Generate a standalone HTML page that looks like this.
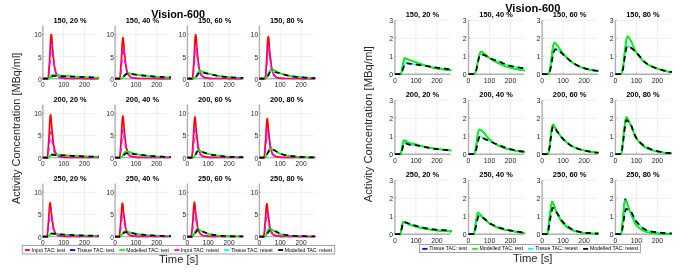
<!DOCTYPE html>
<html><head><meta charset="utf-8"><style>
html,body{margin:0;padding:0;background:#fff;width:685px;height:272px;overflow:hidden}
svg{display:block;will-change:transform}
text{font-family:"Liberation Sans", sans-serif}
</style></head><body>
<svg width="685" height="272" viewBox="0 0 685 272" font-family='"Liberation Sans", sans-serif'>
<rect width="685" height="272" fill="#fff"/>
<line x1="42.80" y1="56.53" x2="97.32" y2="56.53" stroke="#eeeeee" stroke-width="1"/>
<line x1="42.80" y1="34.35" x2="97.32" y2="34.35" stroke="#eeeeee" stroke-width="1"/>
<line x1="63.65" y1="25.48" x2="63.65" y2="78.70" stroke="#eeeeee" stroke-width="1"/>
<line x1="84.50" y1="25.48" x2="84.50" y2="78.70" stroke="#eeeeee" stroke-width="1"/>
<line x1="42.80" y1="25.48" x2="42.80" y2="78.70" stroke="#b0b0b0" stroke-width="1.4"/>
<line x1="42.80" y1="78.70" x2="98.12" y2="78.70" stroke="#b0b0b0" stroke-width="1.4"/>
<line x1="42.80" y1="56.53" x2="44.40" y2="56.53" stroke="#b0b0b0" stroke-width="0.8"/>
<line x1="42.80" y1="34.35" x2="44.40" y2="34.35" stroke="#b0b0b0" stroke-width="0.8"/>
<line x1="63.65" y1="78.70" x2="63.65" y2="77.10" stroke="#b0b0b0" stroke-width="0.8"/>
<line x1="84.50" y1="78.70" x2="84.50" y2="77.10" stroke="#b0b0b0" stroke-width="0.8"/>
<text x="41.60" y="81.68" font-size="6.6" text-anchor="end" fill="#262626">0</text>
<text x="41.60" y="59.50" font-size="6.6" text-anchor="end" fill="#262626">5</text>
<text x="41.60" y="37.33" font-size="6.6" text-anchor="end" fill="#262626">10</text>
<text x="42.80" y="86.75" font-size="6.6" text-anchor="middle" fill="#262626">0</text>
<text x="63.65" y="86.75" font-size="6.6" text-anchor="middle" fill="#262626">100</text>
<text x="84.50" y="86.75" font-size="6.6" text-anchor="middle" fill="#262626">200</text>
<text x="70.06" y="23.10" font-size="7.4" font-weight="bold" text-anchor="middle" fill="#000">150, 20 %</text>
<polyline points="42.8,78.7 43.0,78.7 43.2,78.7 43.4,78.7 43.6,78.7 43.8,78.7 44.1,78.7 44.3,78.7 44.5,78.7 44.7,78.7 44.9,78.7 45.1,78.7 45.3,78.7 45.5,78.7 45.7,78.7 45.9,78.7 46.1,78.7 46.3,78.7 46.6,78.7 46.8,78.7 47.0,78.7 47.2,78.7 47.4,78.7 47.6,78.7 47.8,78.7 48.0,78.7 48.2,78.1 48.4,76.6 48.6,74.2 48.8,71.3 49.1,68.1 49.3,64.8 49.5,61.6 49.7,58.4 49.9,54.3 50.1,49.9 50.3,45.6 50.5,41.7 50.7,38.7 50.9,36.8 51.1,35.2 51.3,34.6 51.6,35.6 51.8,37.8 52.0,40.2 52.2,43.3 52.4,46.5 52.6,49.0 52.8,51.2 53.0,53.2 53.2,55.1 53.4,57.0 53.6,58.9 53.9,60.9 54.1,63.0 54.3,64.8 54.5,66.4 54.7,67.5 54.9,68.5 55.1,69.5 55.3,70.3 55.5,71.1 55.7,71.9 55.9,72.5 56.1,73.1 56.4,73.6 56.6,74.0 56.8,74.4 57.0,74.7 57.2,75.0 57.4,75.2 57.6,75.5 57.8,75.8 58.0,76.0 58.2,76.2 58.4,76.4 58.6,76.6 58.9,76.8 59.1,77.0 59.3,77.1 59.5,77.3 59.7,77.4 59.9,77.5 60.1,77.6 60.3,77.6 60.5,77.7 60.7,77.7 60.9,77.8 61.1,77.8 61.4,77.8 61.6,77.9 61.8,77.9 62.0,78.0 62.2,78.0 62.4,78.0 62.6,78.1 62.8,78.1 63.0,78.1 63.2,78.1 63.4,78.2 63.6,78.2 63.9,78.2 64.1,78.2 64.3,78.3 64.5,78.3 64.7,78.3 64.9,78.3 65.1,78.3 65.3,78.4 65.5,78.4 65.7,78.4 66.8,78.4 67.8,78.5 68.9,78.5 69.9,78.5 70.9,78.5 72.0,78.5 73.0,78.5 74.1,78.5 75.1,78.5 76.2,78.5 77.2,78.5 78.2,78.5 79.3,78.5 80.3,78.5 81.4,78.5 82.4,78.5 83.5,78.5 84.5,78.6 85.5,78.6 86.6,78.6 87.6,78.6 88.7,78.6 89.7,78.6 90.8,78.6 91.8,78.6 92.8,78.6 93.9,78.6 94.9,78.6 96.0,78.6 97.0,78.6 98.1,78.6 98.6,78.6" fill="none" stroke="#ff0000" stroke-width="1.7" stroke-linejoin="round"/>
<polyline points="42.8,78.7 43.0,78.7 43.2,78.7 43.4,78.7 43.6,78.7 43.8,78.7 44.1,78.7 44.3,78.7 44.5,78.7 44.7,78.7 44.9,78.7 45.1,78.7 45.3,78.7 45.5,78.7 45.7,78.7 45.9,78.7 46.1,78.7 46.3,78.7 46.6,78.7 46.8,78.7 47.0,78.7 47.2,78.7 47.4,78.7 47.6,78.7 47.8,78.7 48.0,78.7 48.2,78.7 48.4,78.7 48.6,78.7 48.8,78.6 49.1,78.5 49.3,78.2 49.5,78.0 49.7,77.7 49.9,77.4 50.1,77.1 50.3,76.8 50.5,76.5 50.7,76.3 50.9,76.0 51.1,75.8 51.3,75.6 51.6,75.3 51.8,75.1 52.0,74.9 52.2,74.8 52.4,74.7 52.6,74.7 52.8,74.7 53.0,74.7 53.2,74.7 53.4,74.7 53.6,74.8 53.9,74.8 54.1,74.8 54.3,74.8 54.5,74.8 54.7,74.9 54.9,74.9 55.1,74.9 55.3,74.9 55.5,75.0 55.7,75.0 55.9,75.0 56.1,75.1 56.4,75.1 56.6,75.1 56.8,75.1 57.0,75.2 57.2,75.2 57.4,75.2 57.6,75.2 57.8,75.2 58.0,75.3 58.2,75.3 58.4,75.3 58.6,75.3 58.9,75.3 59.1,75.3 59.3,75.4 59.5,75.4 59.7,75.4 59.9,75.4 60.1,75.4 60.3,75.4 60.5,75.5 60.7,75.5 60.9,75.5 61.1,75.5 61.4,75.5 61.6,75.6 61.8,75.6 62.0,75.6 62.2,75.6 62.4,75.6 62.6,75.6 62.8,75.7 63.0,75.7 63.2,75.7 63.4,75.7 63.6,75.7 63.9,75.7 64.1,75.8 64.3,75.8 64.5,75.8 64.7,75.8 64.9,75.8 65.1,75.9 65.3,75.9 65.5,75.9 65.7,75.9 66.8,76.0 67.8,76.1 68.9,76.2 69.9,76.3 70.9,76.4 72.0,76.5 73.0,76.5 74.1,76.6 75.1,76.7 76.2,76.8 77.2,76.8 78.2,76.9 79.3,77.0 80.3,77.1 81.4,77.1 82.4,77.2 83.5,77.2 84.5,77.3 85.5,77.3 86.6,77.4 87.6,77.4 88.7,77.4 89.7,77.5 90.8,77.5 91.8,77.5 92.8,77.6 93.9,77.6 94.9,77.6 96.0,77.7 97.0,77.7 98.1,77.7 98.6,77.7" fill="none" stroke="#0000ff" stroke-width="1.0" stroke-linejoin="round"/>
<polyline points="42.8,78.7 43.0,78.7 43.2,78.7 43.4,78.7 43.6,78.7 43.8,78.7 44.1,78.7 44.3,78.7 44.5,78.7 44.7,78.7 44.9,78.7 45.1,78.7 45.3,78.7 45.5,78.7 45.7,78.7 45.9,78.7 46.1,78.7 46.3,78.7 46.6,78.7 46.8,78.7 47.0,78.7 47.2,78.7 47.4,78.7 47.6,78.7 47.8,78.7 48.0,78.7 48.2,78.7 48.4,78.7 48.6,78.7 48.8,78.7 49.1,78.6 49.3,78.5 49.5,78.3 49.7,78.2 49.9,78.0 50.1,77.9 50.3,77.8 50.5,77.6 50.7,77.4 50.9,77.3 51.1,77.1 51.3,77.0 51.6,76.8 51.8,76.7 52.0,76.6 52.2,76.5 52.4,76.3 52.6,76.2 52.8,76.1 53.0,76.0 53.2,75.9 53.4,75.9 53.6,75.9 53.9,75.9 54.1,75.9 54.3,75.9 54.5,75.9 54.7,75.9 54.9,75.9 55.1,76.0 55.3,76.0 55.5,76.0 55.7,76.0 55.9,76.0 56.1,76.0 56.4,76.0 56.6,76.0 56.8,76.1 57.0,76.1 57.2,76.1 57.4,76.1 57.6,76.1 57.8,76.1 58.0,76.1 58.2,76.1 58.4,76.1 58.6,76.1 58.9,76.1 59.1,76.1 59.3,76.2 59.5,76.2 59.7,76.2 59.9,76.2 60.1,76.2 60.3,76.2 60.5,76.2 60.7,76.2 60.9,76.2 61.1,76.2 61.4,76.2 61.6,76.2 61.8,76.2 62.0,76.2 62.2,76.3 62.4,76.3 62.6,76.3 62.8,76.3 63.0,76.3 63.2,76.3 63.4,76.3 63.6,76.3 63.9,76.3 64.1,76.3 64.3,76.3 64.5,76.3 64.7,76.3 64.9,76.3 65.1,76.4 65.3,76.4 65.5,76.4 65.7,76.4 66.8,76.4 67.8,76.5 68.9,76.5 69.9,76.5 70.9,76.6 72.0,76.6 73.0,76.6 74.1,76.7 75.1,76.7 76.2,76.8 77.2,76.8 78.2,76.8 79.3,76.9 80.3,76.9 81.4,77.0 82.4,77.0 83.5,77.0 84.5,77.1 85.5,77.1 86.6,77.2 87.6,77.2 88.7,77.2 89.7,77.2 90.8,77.3 91.8,77.3 92.8,77.3 93.9,77.4 94.9,77.4 96.0,77.4 97.0,77.5 98.1,77.5 98.6,77.5" fill="none" stroke="#00ffff" stroke-width="1.0" stroke-linejoin="round"/>
<polyline points="42.8,78.7 43.0,78.7 43.2,78.7 43.4,78.7 43.6,78.7 43.8,78.7 44.1,78.7 44.3,78.7 44.5,78.7 44.7,78.7 44.9,78.7 45.1,78.7 45.3,78.7 45.5,78.7 45.7,78.7 45.9,78.7 46.1,78.7 46.3,78.7 46.6,78.7 46.8,78.7 47.0,78.7 47.2,78.7 47.4,78.7 47.6,78.7 47.8,78.7 48.0,78.7 48.2,78.7 48.4,78.7 48.6,78.7 48.8,78.6 49.1,78.5 49.3,78.2 49.5,78.0 49.7,77.7 49.9,77.5 50.1,77.2 50.3,76.9 50.5,76.6 50.7,76.4 50.9,76.1 51.1,75.9 51.3,75.7 51.6,75.5 51.8,75.3 52.0,75.1 52.2,75.0 52.4,74.9 52.6,74.9 52.8,74.9 53.0,74.9 53.2,74.9 53.4,74.9 53.6,74.9 53.9,74.9 54.1,74.9 54.3,75.0 54.5,75.0 54.7,75.0 54.9,75.0 55.1,75.0 55.3,75.0 55.5,75.0 55.7,75.1 55.9,75.1 56.1,75.1 56.4,75.1 56.6,75.1 56.8,75.1 57.0,75.2 57.2,75.2 57.4,75.2 57.6,75.2 57.8,75.2 58.0,75.2 58.2,75.3 58.4,75.3 58.6,75.3 58.9,75.3 59.1,75.3 59.3,75.3 59.5,75.4 59.7,75.4 59.9,75.4 60.1,75.4 60.3,75.4 60.5,75.5 60.7,75.5 60.9,75.5 61.1,75.5 61.4,75.5 61.6,75.5 61.8,75.6 62.0,75.6 62.2,75.6 62.4,75.6 62.6,75.6 62.8,75.7 63.0,75.7 63.2,75.7 63.4,75.7 63.6,75.7 63.9,75.7 64.1,75.8 64.3,75.8 64.5,75.8 64.7,75.8 64.9,75.8 65.1,75.9 65.3,75.9 65.5,75.9 65.7,75.9 66.8,76.0 67.8,76.1 68.9,76.2 69.9,76.3 70.9,76.4 72.0,76.5 73.0,76.5 74.1,76.6 75.1,76.7 76.2,76.8 77.2,76.8 78.2,76.9 79.3,77.0 80.3,77.1 81.4,77.1 82.4,77.2 83.5,77.2 84.5,77.3 85.5,77.3 86.6,77.4 87.6,77.4 88.7,77.4 89.7,77.5 90.8,77.5 91.8,77.5 92.8,77.6 93.9,77.6 94.9,77.6 96.0,77.7 97.0,77.7 98.1,77.7 98.6,77.7" fill="none" stroke="#00ff00" stroke-width="1.7" stroke-linejoin="round"/>
<polyline points="42.8,78.7 43.0,78.7 43.2,78.7 43.4,78.7 43.6,78.7 43.8,78.7 44.1,78.7 44.3,78.7 44.5,78.7 44.7,78.7 44.9,78.7 45.1,78.7 45.3,78.7 45.5,78.7 45.7,78.7 45.9,78.7 46.1,78.7 46.3,78.7 46.6,78.7 46.8,78.7 47.0,78.7 47.2,78.7 47.4,78.7 47.6,78.7 47.8,78.7 48.0,78.7 48.2,78.7 48.4,78.3 48.6,77.0 48.8,75.2 49.1,72.9 49.3,70.4 49.5,67.8 49.7,65.3 49.9,62.8 50.1,59.6 50.3,56.1 50.5,52.7 50.7,49.7 50.9,47.3 51.1,45.8 51.3,44.6 51.6,44.1 51.8,44.9 52.0,46.7 52.2,48.5 52.4,51.0 52.6,53.4 52.8,55.4 53.0,57.1 53.2,58.7 53.4,60.2 53.6,61.7 53.9,63.2 54.1,64.8 54.3,66.4 54.5,67.8 54.7,69.0 54.9,69.9 55.1,70.7 55.3,71.5 55.5,72.1 55.7,72.7 55.9,73.3 56.1,73.8 56.4,74.3 56.6,74.7 56.8,75.0 57.0,75.3 57.2,75.5 57.4,75.7 57.6,75.9 57.8,76.1 58.0,76.3 58.2,76.5 58.4,76.7 58.6,76.9 58.9,77.0 59.1,77.2 59.3,77.3 59.5,77.4 59.7,77.5 59.9,77.6 60.1,77.7 60.3,77.8 60.5,77.8 60.7,77.9 60.9,77.9 61.1,77.9 61.4,78.0 61.6,78.0 61.8,78.0 62.0,78.0 62.2,78.1 62.4,78.1 62.6,78.1 62.8,78.1 63.0,78.2 63.2,78.2 63.4,78.2 63.6,78.2 63.9,78.3 64.1,78.3 64.3,78.3 64.5,78.3 64.7,78.3 64.9,78.3 65.1,78.4 65.3,78.4 65.5,78.4 65.7,78.4 66.8,78.4 67.8,78.5 68.9,78.5 69.9,78.5 70.9,78.5 72.0,78.5 73.0,78.5 74.1,78.5 75.1,78.5 76.2,78.5 77.2,78.5 78.2,78.5 79.3,78.5 80.3,78.5 81.4,78.5 82.4,78.5 83.5,78.5 84.5,78.6 85.5,78.6 86.6,78.6 87.6,78.6 88.7,78.6 89.7,78.6 90.8,78.6 91.8,78.6 92.8,78.6 93.9,78.6 94.9,78.6 96.0,78.6 97.0,78.6 98.1,78.6 98.6,78.6" fill="none" stroke="#ff00ff" stroke-width="1.7" stroke-linejoin="round" stroke-dasharray="5,4.6"/>
<polyline points="42.8,78.7 43.0,78.7 43.2,78.7 43.4,78.7 43.6,78.7 43.8,78.7 44.1,78.7 44.3,78.7 44.5,78.7 44.7,78.7 44.9,78.7 45.1,78.7 45.3,78.7 45.5,78.7 45.7,78.7 45.9,78.7 46.1,78.7 46.3,78.7 46.6,78.7 46.8,78.7 47.0,78.7 47.2,78.7 47.4,78.7 47.6,78.7 47.8,78.7 48.0,78.7 48.2,78.7 48.4,78.7 48.6,78.7 48.8,78.7 49.1,78.6 49.3,78.5 49.5,78.4 49.7,78.2 49.9,78.1 50.1,77.9 50.3,77.8 50.5,77.6 50.7,77.5 50.9,77.3 51.1,77.2 51.3,77.0 51.6,76.9 51.8,76.8 52.0,76.6 52.2,76.5 52.4,76.4 52.6,76.3 52.8,76.2 53.0,76.1 53.2,76.0 53.4,76.0 53.6,76.0 53.9,76.0 54.1,76.0 54.3,76.0 54.5,76.0 54.7,76.0 54.9,76.0 55.1,76.0 55.3,76.0 55.5,76.0 55.7,76.0 55.9,76.0 56.1,76.0 56.4,76.1 56.6,76.1 56.8,76.1 57.0,76.1 57.2,76.1 57.4,76.1 57.6,76.1 57.8,76.1 58.0,76.1 58.2,76.1 58.4,76.1 58.6,76.1 58.9,76.1 59.1,76.1 59.3,76.1 59.5,76.1 59.7,76.2 59.9,76.2 60.1,76.2 60.3,76.2 60.5,76.2 60.7,76.2 60.9,76.2 61.1,76.2 61.4,76.2 61.6,76.2 61.8,76.2 62.0,76.2 62.2,76.3 62.4,76.3 62.6,76.3 62.8,76.3 63.0,76.3 63.2,76.3 63.4,76.3 63.6,76.3 63.9,76.3 64.1,76.3 64.3,76.3 64.5,76.3 64.7,76.3 64.9,76.3 65.1,76.4 65.3,76.4 65.5,76.4 65.7,76.4 66.8,76.4 67.8,76.5 68.9,76.5 69.9,76.5 70.9,76.6 72.0,76.6 73.0,76.6 74.1,76.7 75.1,76.7 76.2,76.8 77.2,76.8 78.2,76.8 79.3,76.9 80.3,76.9 81.4,77.0 82.4,77.0 83.5,77.0 84.5,77.1 85.5,77.1 86.6,77.2 87.6,77.2 88.7,77.2 89.7,77.2 90.8,77.3 91.8,77.3 92.8,77.3 93.9,77.4 94.9,77.4 96.0,77.4 97.0,77.5 98.1,77.5 98.6,77.5" fill="none" stroke="#000000" stroke-width="1.7" stroke-linejoin="round" stroke-dasharray="5,4.4"/>
<line x1="115.10" y1="56.53" x2="169.62" y2="56.53" stroke="#eeeeee" stroke-width="1"/>
<line x1="115.10" y1="34.35" x2="169.62" y2="34.35" stroke="#eeeeee" stroke-width="1"/>
<line x1="135.95" y1="25.48" x2="135.95" y2="78.70" stroke="#eeeeee" stroke-width="1"/>
<line x1="156.80" y1="25.48" x2="156.80" y2="78.70" stroke="#eeeeee" stroke-width="1"/>
<line x1="115.10" y1="25.48" x2="115.10" y2="78.70" stroke="#b0b0b0" stroke-width="1.4"/>
<line x1="115.10" y1="78.70" x2="170.42" y2="78.70" stroke="#b0b0b0" stroke-width="1.4"/>
<line x1="115.10" y1="56.53" x2="116.70" y2="56.53" stroke="#b0b0b0" stroke-width="0.8"/>
<line x1="115.10" y1="34.35" x2="116.70" y2="34.35" stroke="#b0b0b0" stroke-width="0.8"/>
<line x1="135.95" y1="78.70" x2="135.95" y2="77.10" stroke="#b0b0b0" stroke-width="0.8"/>
<line x1="156.80" y1="78.70" x2="156.80" y2="77.10" stroke="#b0b0b0" stroke-width="0.8"/>
<text x="113.90" y="81.68" font-size="6.6" text-anchor="end" fill="#262626">0</text>
<text x="113.90" y="59.50" font-size="6.6" text-anchor="end" fill="#262626">5</text>
<text x="113.90" y="37.33" font-size="6.6" text-anchor="end" fill="#262626">10</text>
<text x="115.10" y="86.75" font-size="6.6" text-anchor="middle" fill="#262626">0</text>
<text x="135.95" y="86.75" font-size="6.6" text-anchor="middle" fill="#262626">100</text>
<text x="156.80" y="86.75" font-size="6.6" text-anchor="middle" fill="#262626">200</text>
<text x="142.36" y="23.10" font-size="7.4" font-weight="bold" text-anchor="middle" fill="#000">150, 40 %</text>
<polyline points="115.1,78.7 115.3,78.7 115.5,78.7 115.7,78.7 115.9,78.7 116.1,78.7 116.4,78.7 116.6,78.7 116.8,78.7 117.0,78.7 117.2,78.7 117.4,78.7 117.6,78.7 117.8,78.7 118.0,78.7 118.2,78.7 118.4,78.7 118.6,78.7 118.9,78.7 119.1,78.7 119.3,78.7 119.5,78.7 119.7,78.7 119.9,78.2 120.1,76.7 120.3,74.5 120.5,71.9 120.7,68.9 120.9,65.8 121.1,62.8 121.4,59.8 121.6,56.0 121.8,52.0 122.0,47.9 122.2,44.3 122.4,41.5 122.6,39.7 122.8,38.3 123.0,37.7 123.2,38.6 123.4,40.7 123.6,42.9 123.9,45.8 124.1,48.7 124.3,51.1 124.5,53.1 124.7,55.0 124.9,56.8 125.1,58.5 125.3,60.3 125.5,62.2 125.7,64.1 125.9,65.8 126.2,67.2 126.4,68.3 126.6,69.2 126.8,70.1 127.0,70.9 127.2,71.7 127.4,72.3 127.6,72.9 127.8,73.5 128.0,73.9 128.2,74.3 128.4,74.7 128.7,74.9 128.9,75.2 129.1,75.5 129.3,75.7 129.5,75.9 129.7,76.2 129.9,76.4 130.1,76.6 130.3,76.8 130.5,76.9 130.7,77.1 130.9,77.2 131.2,77.3 131.4,77.5 131.6,77.5 131.8,77.6 132.0,77.7 132.2,77.7 132.4,77.8 132.6,77.8 132.8,77.9 133.0,77.9 133.2,77.9 133.4,78.0 133.7,78.0 133.9,78.0 134.1,78.1 134.3,78.1 134.5,78.1 134.7,78.1 134.9,78.2 135.1,78.2 135.3,78.2 135.5,78.2 135.7,78.3 135.9,78.3 136.2,78.3 136.4,78.3 136.6,78.3 136.8,78.4 137.0,78.4 137.2,78.4 137.4,78.4 137.6,78.4 137.8,78.4 138.0,78.4 139.1,78.5 140.1,78.5 141.2,78.5 142.2,78.5 143.2,78.5 144.3,78.5 145.3,78.5 146.4,78.5 147.4,78.5 148.5,78.5 149.5,78.5 150.5,78.5 151.6,78.5 152.6,78.5 153.7,78.5 154.7,78.5 155.8,78.5 156.8,78.6 157.8,78.6 158.9,78.6 159.9,78.6 161.0,78.6 162.0,78.6 163.1,78.6 164.1,78.6 165.1,78.6 166.2,78.6 167.2,78.6 168.3,78.6 169.3,78.6 170.4,78.6 170.9,78.6" fill="none" stroke="#ff0000" stroke-width="1.7" stroke-linejoin="round"/>
<polyline points="115.1,78.7 115.3,78.7 115.5,78.7 115.7,78.7 115.9,78.7 116.1,78.7 116.4,78.7 116.6,78.7 116.8,78.7 117.0,78.7 117.2,78.7 117.4,78.7 117.6,78.7 117.8,78.7 118.0,78.7 118.2,78.7 118.4,78.7 118.6,78.7 118.9,78.7 119.1,78.7 119.3,78.7 119.5,78.7 119.7,78.7 119.9,78.7 120.1,78.7 120.3,78.7 120.5,78.7 120.7,78.7 120.9,78.7 121.1,78.7 121.4,78.6 121.6,78.5 121.8,78.4 122.0,78.3 122.2,78.1 122.4,77.9 122.6,77.7 122.8,77.6 123.0,77.4 123.2,77.2 123.4,76.9 123.6,76.6 123.9,76.3 124.1,76.0 124.3,75.7 124.5,75.5 124.7,75.2 124.9,75.0 125.1,74.7 125.3,74.4 125.5,74.2 125.7,74.0 125.9,73.8 126.2,73.6 126.4,73.5 126.6,73.4 126.8,73.3 127.0,73.2 127.2,73.1 127.4,73.1 127.6,73.1 127.8,73.1 128.0,73.1 128.2,73.1 128.4,73.2 128.7,73.2 128.9,73.2 129.1,73.3 129.3,73.3 129.5,73.4 129.7,73.4 129.9,73.5 130.1,73.5 130.3,73.5 130.5,73.6 130.7,73.6 130.9,73.7 131.2,73.7 131.4,73.8 131.6,73.8 131.8,73.8 132.0,73.9 132.2,73.9 132.4,74.0 132.6,74.0 132.8,74.1 133.0,74.1 133.2,74.2 133.4,74.2 133.7,74.3 133.9,74.3 134.1,74.3 134.3,74.4 134.5,74.4 134.7,74.5 134.9,74.5 135.1,74.6 135.3,74.6 135.5,74.6 135.7,74.7 135.9,74.7 136.2,74.7 136.4,74.8 136.6,74.8 136.8,74.8 137.0,74.9 137.2,74.9 137.4,75.0 137.6,75.0 137.8,75.0 138.0,75.1 139.1,75.2 140.1,75.4 141.2,75.5 142.2,75.7 143.2,75.8 144.3,75.9 145.3,76.1 146.4,76.2 147.4,76.3 148.5,76.4 149.5,76.5 150.5,76.6 151.6,76.7 152.6,76.8 153.7,76.9 154.7,77.0 155.8,77.0 156.8,77.1 157.8,77.2 158.9,77.2 159.9,77.3 161.0,77.4 162.0,77.4 163.1,77.5 164.1,77.5 165.1,77.6 166.2,77.6 167.2,77.7 168.3,77.7 169.3,77.7 170.4,77.8 170.9,77.8" fill="none" stroke="#0000ff" stroke-width="1.0" stroke-linejoin="round"/>
<polyline points="115.1,78.7 115.3,78.7 115.5,78.7 115.7,78.7 115.9,78.7 116.1,78.7 116.4,78.7 116.6,78.7 116.8,78.7 117.0,78.7 117.2,78.7 117.4,78.7 117.6,78.7 117.8,78.7 118.0,78.7 118.2,78.7 118.4,78.7 118.6,78.7 118.9,78.7 119.1,78.7 119.3,78.7 119.5,78.7 119.7,78.7 119.9,78.7 120.1,78.7 120.3,78.7 120.5,78.7 120.7,78.7 120.9,78.7 121.1,78.7 121.4,78.6 121.6,78.5 121.8,78.4 122.0,78.3 122.2,78.1 122.4,78.0 122.6,77.8 122.8,77.6 123.0,77.4 123.2,77.2 123.4,76.9 123.6,76.7 123.9,76.4 124.1,76.1 124.3,75.9 124.5,75.6 124.7,75.4 124.9,75.1 125.1,74.9 125.3,74.7 125.5,74.5 125.7,74.3 125.9,74.2 126.2,74.1 126.4,74.0 126.6,73.9 126.8,73.8 127.0,73.8 127.2,73.8 127.4,73.8 127.6,73.8 127.8,73.8 128.0,73.8 128.2,73.8 128.4,73.8 128.7,73.8 128.9,73.8 129.1,73.9 129.3,73.9 129.5,73.9 129.7,73.9 129.9,73.9 130.1,73.9 130.3,74.0 130.5,74.0 130.7,74.0 130.9,74.0 131.2,74.1 131.4,74.1 131.6,74.1 131.8,74.1 132.0,74.2 132.2,74.2 132.4,74.2 132.6,74.2 132.8,74.3 133.0,74.3 133.2,74.3 133.4,74.4 133.7,74.4 133.9,74.4 134.1,74.5 134.3,74.5 134.5,74.5 134.7,74.6 134.9,74.6 135.1,74.6 135.3,74.6 135.5,74.7 135.7,74.7 135.9,74.7 136.2,74.7 136.4,74.8 136.6,74.8 136.8,74.8 137.0,74.8 137.2,74.8 137.4,74.9 137.6,74.9 137.8,74.9 138.0,74.9 139.1,75.0 140.1,75.1 141.2,75.2 142.2,75.3 143.2,75.4 144.3,75.5 145.3,75.6 146.4,75.7 147.4,75.8 148.5,75.9 149.5,76.0 150.5,76.1 151.6,76.2 152.6,76.3 153.7,76.4 154.7,76.5 155.8,76.6 156.8,76.7 157.8,76.7 158.9,76.8 159.9,76.8 161.0,76.9 162.0,76.9 163.1,77.0 164.1,77.0 165.1,77.0 166.2,77.1 167.2,77.1 168.3,77.2 169.3,77.2 170.4,77.2 170.9,77.3" fill="none" stroke="#00ffff" stroke-width="1.0" stroke-linejoin="round"/>
<polyline points="115.1,78.7 115.3,78.7 115.5,78.7 115.7,78.7 115.9,78.7 116.1,78.7 116.4,78.7 116.6,78.7 116.8,78.7 117.0,78.7 117.2,78.7 117.4,78.7 117.6,78.7 117.8,78.7 118.0,78.7 118.2,78.7 118.4,78.7 118.6,78.7 118.9,78.7 119.1,78.7 119.3,78.7 119.5,78.7 119.7,78.7 119.9,78.7 120.1,78.7 120.3,78.7 120.5,78.7 120.7,78.7 120.9,78.7 121.1,78.7 121.4,78.6 121.6,78.5 121.8,78.4 122.0,78.3 122.2,78.1 122.4,77.9 122.6,77.8 122.8,77.6 123.0,77.4 123.2,77.2 123.4,76.9 123.6,76.7 123.9,76.4 124.1,76.1 124.3,75.8 124.5,75.5 124.7,75.3 124.9,75.0 125.1,74.8 125.3,74.5 125.5,74.3 125.7,74.0 125.9,73.8 126.2,73.7 126.4,73.6 126.6,73.5 126.8,73.4 127.0,73.3 127.2,73.2 127.4,73.2 127.6,73.2 127.8,73.2 128.0,73.2 128.2,73.2 128.4,73.2 128.7,73.2 128.9,73.3 129.1,73.3 129.3,73.4 129.5,73.4 129.7,73.4 129.9,73.5 130.1,73.5 130.3,73.5 130.5,73.6 130.7,73.6 130.9,73.6 131.2,73.7 131.4,73.7 131.6,73.8 131.8,73.8 132.0,73.9 132.2,73.9 132.4,74.0 132.6,74.0 132.8,74.1 133.0,74.1 133.2,74.1 133.4,74.2 133.7,74.2 133.9,74.3 134.1,74.3 134.3,74.4 134.5,74.4 134.7,74.5 134.9,74.5 135.1,74.6 135.3,74.6 135.5,74.6 135.7,74.7 135.9,74.7 136.2,74.7 136.4,74.8 136.6,74.8 136.8,74.8 137.0,74.9 137.2,74.9 137.4,75.0 137.6,75.0 137.8,75.0 138.0,75.1 139.1,75.2 140.1,75.4 141.2,75.5 142.2,75.7 143.2,75.8 144.3,75.9 145.3,76.1 146.4,76.2 147.4,76.3 148.5,76.4 149.5,76.5 150.5,76.6 151.6,76.7 152.6,76.8 153.7,76.9 154.7,77.0 155.8,77.0 156.8,77.1 157.8,77.2 158.9,77.2 159.9,77.3 161.0,77.4 162.0,77.4 163.1,77.5 164.1,77.5 165.1,77.6 166.2,77.6 167.2,77.7 168.3,77.7 169.3,77.7 170.4,77.8 170.9,77.8" fill="none" stroke="#00ff00" stroke-width="1.7" stroke-linejoin="round"/>
<polyline points="115.1,78.7 115.3,78.7 115.5,78.7 115.7,78.7 115.9,78.7 116.1,78.7 116.4,78.7 116.6,78.7 116.8,78.7 117.0,78.7 117.2,78.7 117.4,78.7 117.6,78.7 117.8,78.7 118.0,78.7 118.2,78.7 118.4,78.7 118.6,78.7 118.9,78.7 119.1,78.7 119.3,78.7 119.5,78.7 119.7,78.7 119.9,78.7 120.1,78.3 120.3,77.2 120.5,75.6 120.7,73.5 120.9,71.3 121.1,68.9 121.4,66.7 121.6,64.4 121.8,61.6 122.0,58.5 122.2,55.4 122.4,52.7 122.6,50.6 122.8,49.2 123.0,48.1 123.2,47.7 123.4,48.4 123.6,49.9 123.9,51.6 124.1,53.8 124.3,56.0 124.5,57.8 124.7,59.4 124.9,60.8 125.1,62.1 125.3,63.4 125.5,64.8 125.7,66.2 125.9,67.6 126.2,68.9 126.4,70.0 126.6,70.8 126.8,71.5 127.0,72.2 127.2,72.8 127.4,73.3 127.6,73.8 127.8,74.3 128.0,74.7 128.2,75.1 128.4,75.3 128.7,75.6 128.9,75.8 129.1,76.0 129.3,76.2 129.5,76.4 129.7,76.6 129.9,76.7 130.1,76.9 130.3,77.0 130.5,77.2 130.7,77.3 130.9,77.4 131.2,77.5 131.4,77.6 131.6,77.7 131.8,77.8 132.0,77.8 132.2,77.9 132.4,77.9 132.6,77.9 132.8,78.0 133.0,78.0 133.2,78.0 133.4,78.1 133.7,78.1 133.9,78.1 134.1,78.1 134.3,78.2 134.5,78.2 134.7,78.2 134.9,78.2 135.1,78.2 135.3,78.3 135.5,78.3 135.7,78.3 135.9,78.3 136.2,78.3 136.4,78.3 136.6,78.4 136.8,78.4 137.0,78.4 137.2,78.4 137.4,78.4 137.6,78.4 137.8,78.4 138.0,78.4 139.1,78.5 140.1,78.5 141.2,78.5 142.2,78.5 143.2,78.5 144.3,78.5 145.3,78.5 146.4,78.5 147.4,78.5 148.5,78.5 149.5,78.5 150.5,78.5 151.6,78.5 152.6,78.5 153.7,78.5 154.7,78.5 155.8,78.5 156.8,78.6 157.8,78.6 158.9,78.6 159.9,78.6 161.0,78.6 162.0,78.6 163.1,78.6 164.1,78.6 165.1,78.6 166.2,78.6 167.2,78.6 168.3,78.6 169.3,78.6 170.4,78.6 170.9,78.6" fill="none" stroke="#ff00ff" stroke-width="1.7" stroke-linejoin="round" stroke-dasharray="5,4.6"/>
<polyline points="115.1,78.7 115.3,78.7 115.5,78.7 115.7,78.7 115.9,78.7 116.1,78.7 116.4,78.7 116.6,78.7 116.8,78.7 117.0,78.7 117.2,78.7 117.4,78.7 117.6,78.7 117.8,78.7 118.0,78.7 118.2,78.7 118.4,78.7 118.6,78.7 118.9,78.7 119.1,78.7 119.3,78.7 119.5,78.7 119.7,78.7 119.9,78.7 120.1,78.7 120.3,78.7 120.5,78.7 120.7,78.7 120.9,78.7 121.1,78.7 121.4,78.6 121.6,78.5 121.8,78.4 122.0,78.3 122.2,78.1 122.4,78.0 122.6,77.8 122.8,77.6 123.0,77.5 123.2,77.2 123.4,77.0 123.6,76.7 123.9,76.4 124.1,76.2 124.3,75.9 124.5,75.7 124.7,75.4 124.9,75.2 125.1,75.0 125.3,74.7 125.5,74.5 125.7,74.4 125.9,74.3 126.2,74.2 126.4,74.1 126.6,74.0 126.8,73.9 127.0,73.9 127.2,73.9 127.4,73.9 127.6,73.9 127.8,73.9 128.0,73.9 128.2,73.9 128.4,73.9 128.7,73.9 128.9,73.9 129.1,73.9 129.3,73.9 129.5,73.9 129.7,73.9 129.9,73.9 130.1,73.9 130.3,73.9 130.5,74.0 130.7,74.0 130.9,74.0 131.2,74.0 131.4,74.0 131.6,74.1 131.8,74.1 132.0,74.1 132.2,74.2 132.4,74.2 132.6,74.2 132.8,74.2 133.0,74.3 133.2,74.3 133.4,74.3 133.7,74.4 133.9,74.4 134.1,74.4 134.3,74.5 134.5,74.5 134.7,74.5 134.9,74.6 135.1,74.6 135.3,74.6 135.5,74.7 135.7,74.7 135.9,74.7 136.2,74.7 136.4,74.8 136.6,74.8 136.8,74.8 137.0,74.8 137.2,74.8 137.4,74.9 137.6,74.9 137.8,74.9 138.0,74.9 139.1,75.0 140.1,75.1 141.2,75.2 142.2,75.3 143.2,75.4 144.3,75.5 145.3,75.6 146.4,75.7 147.4,75.8 148.5,75.9 149.5,76.0 150.5,76.1 151.6,76.2 152.6,76.3 153.7,76.4 154.7,76.5 155.8,76.6 156.8,76.7 157.8,76.7 158.9,76.8 159.9,76.8 161.0,76.9 162.0,76.9 163.1,77.0 164.1,77.0 165.1,77.0 166.2,77.1 167.2,77.1 168.3,77.2 169.3,77.2 170.4,77.2 170.9,77.3" fill="none" stroke="#000000" stroke-width="1.7" stroke-linejoin="round" stroke-dasharray="5,4.4"/>
<line x1="187.40" y1="56.53" x2="241.92" y2="56.53" stroke="#eeeeee" stroke-width="1"/>
<line x1="187.40" y1="34.35" x2="241.92" y2="34.35" stroke="#eeeeee" stroke-width="1"/>
<line x1="208.25" y1="25.48" x2="208.25" y2="78.70" stroke="#eeeeee" stroke-width="1"/>
<line x1="229.10" y1="25.48" x2="229.10" y2="78.70" stroke="#eeeeee" stroke-width="1"/>
<line x1="187.40" y1="25.48" x2="187.40" y2="78.70" stroke="#b0b0b0" stroke-width="1.4"/>
<line x1="187.40" y1="78.70" x2="242.72" y2="78.70" stroke="#b0b0b0" stroke-width="1.4"/>
<line x1="187.40" y1="56.53" x2="189.00" y2="56.53" stroke="#b0b0b0" stroke-width="0.8"/>
<line x1="187.40" y1="34.35" x2="189.00" y2="34.35" stroke="#b0b0b0" stroke-width="0.8"/>
<line x1="208.25" y1="78.70" x2="208.25" y2="77.10" stroke="#b0b0b0" stroke-width="0.8"/>
<line x1="229.10" y1="78.70" x2="229.10" y2="77.10" stroke="#b0b0b0" stroke-width="0.8"/>
<text x="186.20" y="81.68" font-size="6.6" text-anchor="end" fill="#262626">0</text>
<text x="186.20" y="59.50" font-size="6.6" text-anchor="end" fill="#262626">5</text>
<text x="186.20" y="37.33" font-size="6.6" text-anchor="end" fill="#262626">10</text>
<text x="187.40" y="86.75" font-size="6.6" text-anchor="middle" fill="#262626">0</text>
<text x="208.25" y="86.75" font-size="6.6" text-anchor="middle" fill="#262626">100</text>
<text x="229.10" y="86.75" font-size="6.6" text-anchor="middle" fill="#262626">200</text>
<text x="214.66" y="23.10" font-size="7.4" font-weight="bold" text-anchor="middle" fill="#000">150, 60 %</text>
<polyline points="187.4,78.7 187.6,78.7 187.8,78.7 188.0,78.7 188.2,78.7 188.4,78.7 188.7,78.7 188.9,78.7 189.1,78.7 189.3,78.7 189.5,78.7 189.7,78.7 189.9,78.7 190.1,78.7 190.3,78.7 190.5,78.7 190.7,78.7 190.9,78.7 191.2,78.7 191.4,78.7 191.6,78.7 191.8,78.7 192.0,78.7 192.2,78.7 192.4,78.7 192.6,78.1 192.8,76.6 193.0,74.2 193.2,71.3 193.4,68.1 193.7,64.8 193.9,61.6 194.1,58.4 194.3,54.3 194.5,49.9 194.7,45.6 194.9,41.7 195.1,38.7 195.3,36.8 195.5,35.2 195.7,34.6 195.9,35.6 196.2,37.8 196.4,40.2 196.6,43.3 196.8,46.5 197.0,49.0 197.2,51.2 197.4,53.2 197.6,55.1 197.8,57.0 198.0,58.9 198.2,60.9 198.5,63.0 198.7,64.8 198.9,66.4 199.1,67.5 199.3,68.5 199.5,69.5 199.7,70.3 199.9,71.1 200.1,71.9 200.3,72.5 200.5,73.1 200.7,73.6 201.0,74.0 201.2,74.4 201.4,74.7 201.6,75.0 201.8,75.2 202.0,75.5 202.2,75.8 202.4,76.0 202.6,76.2 202.8,76.4 203.0,76.6 203.2,76.8 203.5,77.0 203.7,77.1 203.9,77.3 204.1,77.4 204.3,77.5 204.5,77.6 204.7,77.6 204.9,77.7 205.1,77.7 205.3,77.8 205.5,77.8 205.7,77.8 206.0,77.9 206.2,77.9 206.4,78.0 206.6,78.0 206.8,78.0 207.0,78.1 207.2,78.1 207.4,78.1 207.6,78.1 207.8,78.2 208.0,78.2 208.2,78.2 208.5,78.2 208.7,78.3 208.9,78.3 209.1,78.3 209.3,78.3 209.5,78.3 209.7,78.4 209.9,78.4 210.1,78.4 210.3,78.4 211.4,78.5 212.4,78.5 213.5,78.5 214.5,78.5 215.5,78.5 216.6,78.5 217.6,78.5 218.7,78.5 219.7,78.5 220.8,78.5 221.8,78.5 222.8,78.5 223.9,78.5 224.9,78.5 226.0,78.5 227.0,78.5 228.1,78.5 229.1,78.6 230.1,78.6 231.2,78.6 232.2,78.6 233.3,78.6 234.3,78.6 235.4,78.6 236.4,78.6 237.4,78.6 238.5,78.6 239.5,78.6 240.6,78.6 241.6,78.6 242.7,78.6 243.2,78.6" fill="none" stroke="#ff0000" stroke-width="1.7" stroke-linejoin="round"/>
<polyline points="187.4,78.7 187.6,78.7 187.8,78.7 188.0,78.7 188.2,78.7 188.4,78.7 188.7,78.7 188.9,78.7 189.1,78.7 189.3,78.7 189.5,78.7 189.7,78.7 189.9,78.7 190.1,78.7 190.3,78.7 190.5,78.7 190.7,78.7 190.9,78.7 191.2,78.7 191.4,78.7 191.6,78.7 191.8,78.7 192.0,78.7 192.2,78.7 192.4,78.7 192.6,78.7 192.8,78.7 193.0,78.7 193.2,78.7 193.4,78.7 193.7,78.7 193.9,78.7 194.1,78.6 194.3,78.4 194.5,78.2 194.7,78.0 194.9,77.7 195.1,77.5 195.3,77.2 195.5,76.9 195.7,76.6 195.9,76.2 196.2,75.8 196.4,75.3 196.6,74.9 196.8,74.4 197.0,74.0 197.2,73.6 197.4,73.2 197.6,72.8 197.8,72.5 198.0,72.1 198.2,71.8 198.5,71.6 198.7,71.4 198.9,71.3 199.1,71.1 199.3,71.0 199.5,71.0 199.7,70.9 199.9,70.9 200.1,71.0 200.3,71.0 200.5,71.0 200.7,71.1 201.0,71.2 201.2,71.2 201.4,71.3 201.6,71.3 201.8,71.4 202.0,71.5 202.2,71.5 202.4,71.6 202.6,71.7 202.8,71.7 203.0,71.8 203.2,71.9 203.5,71.9 203.7,72.0 203.9,72.1 204.1,72.1 204.3,72.2 204.5,72.3 204.7,72.4 204.9,72.4 205.1,72.5 205.3,72.6 205.5,72.7 205.7,72.8 206.0,72.8 206.2,72.9 206.4,73.0 206.6,73.1 206.8,73.1 207.0,73.2 207.2,73.3 207.4,73.3 207.6,73.4 207.8,73.5 208.0,73.5 208.2,73.6 208.5,73.7 208.7,73.7 208.9,73.8 209.1,73.8 209.3,73.9 209.5,73.9 209.7,74.0 209.9,74.1 210.1,74.1 210.3,74.2 211.4,74.4 212.4,74.7 213.5,75.0 214.5,75.2 215.5,75.4 216.6,75.6 217.6,75.8 218.7,76.0 219.7,76.2 220.8,76.3 221.8,76.5 222.8,76.6 223.9,76.7 224.9,76.8 226.0,77.0 227.0,77.1 228.1,77.2 229.1,77.2 230.1,77.3 231.2,77.4 232.2,77.5 233.3,77.5 234.3,77.6 235.4,77.6 236.4,77.7 237.4,77.7 238.5,77.8 239.5,77.8 240.6,77.9 241.6,77.9 242.7,77.9 243.2,78.0" fill="none" stroke="#0000ff" stroke-width="1.0" stroke-linejoin="round"/>
<polyline points="187.4,78.7 187.6,78.7 187.8,78.7 188.0,78.7 188.2,78.7 188.4,78.7 188.7,78.7 188.9,78.7 189.1,78.7 189.3,78.7 189.5,78.7 189.7,78.7 189.9,78.7 190.1,78.7 190.3,78.7 190.5,78.7 190.7,78.7 190.9,78.7 191.2,78.7 191.4,78.7 191.6,78.7 191.8,78.7 192.0,78.7 192.2,78.7 192.4,78.7 192.6,78.7 192.8,78.7 193.0,78.7 193.2,78.7 193.4,78.7 193.7,78.7 193.9,78.7 194.1,78.6 194.3,78.5 194.5,78.4 194.7,78.2 194.9,78.1 195.1,77.9 195.3,77.7 195.5,77.5 195.7,77.3 195.9,77.1 196.2,76.8 196.4,76.5 196.6,76.2 196.8,75.9 197.0,75.6 197.2,75.3 197.4,75.0 197.6,74.7 197.8,74.5 198.0,74.2 198.2,73.9 198.5,73.6 198.7,73.4 198.9,73.2 199.1,73.0 199.3,72.9 199.5,72.8 199.7,72.7 199.9,72.6 200.1,72.6 200.3,72.5 200.5,72.5 200.7,72.5 201.0,72.5 201.2,72.5 201.4,72.5 201.6,72.6 201.8,72.6 202.0,72.6 202.2,72.6 202.4,72.7 202.6,72.7 202.8,72.7 203.0,72.8 203.2,72.8 203.5,72.8 203.7,72.9 203.9,72.9 204.1,72.9 204.3,73.0 204.5,73.0 204.7,73.1 204.9,73.1 205.1,73.2 205.3,73.2 205.5,73.2 205.7,73.3 206.0,73.3 206.2,73.4 206.4,73.4 206.6,73.5 206.8,73.5 207.0,73.6 207.2,73.6 207.4,73.6 207.6,73.7 207.8,73.7 208.0,73.8 208.2,73.8 208.5,73.9 208.7,73.9 208.9,73.9 209.1,74.0 209.3,74.0 209.5,74.1 209.7,74.1 209.9,74.2 210.1,74.2 210.3,74.3 211.4,74.5 212.4,74.7 213.5,75.0 214.5,75.2 215.5,75.4 216.6,75.6 217.6,75.8 218.7,76.0 219.7,76.1 220.8,76.3 221.8,76.4 222.8,76.6 223.9,76.7 224.9,76.8 226.0,76.9 227.0,77.0 228.1,77.1 229.1,77.2 230.1,77.3 231.2,77.3 232.2,77.4 233.3,77.5 234.3,77.5 235.4,77.6 236.4,77.6 237.4,77.7 238.5,77.7 239.5,77.8 240.6,77.8 241.6,77.8 242.7,77.9 243.2,77.9" fill="none" stroke="#00ffff" stroke-width="1.0" stroke-linejoin="round"/>
<polyline points="187.4,78.7 187.6,78.7 187.8,78.7 188.0,78.7 188.2,78.7 188.4,78.7 188.7,78.7 188.9,78.7 189.1,78.7 189.3,78.7 189.5,78.7 189.7,78.7 189.9,78.7 190.1,78.7 190.3,78.7 190.5,78.7 190.7,78.7 190.9,78.7 191.2,78.7 191.4,78.7 191.6,78.7 191.8,78.7 192.0,78.7 192.2,78.7 192.4,78.7 192.6,78.7 192.8,78.7 193.0,78.7 193.2,78.7 193.4,78.7 193.7,78.7 193.9,78.7 194.1,78.6 194.3,78.4 194.5,78.2 194.7,78.0 194.9,77.7 195.1,77.5 195.3,77.2 195.5,76.9 195.7,76.6 195.9,76.2 196.2,75.8 196.4,75.3 196.6,74.9 196.8,74.5 197.0,74.1 197.2,73.7 197.4,73.3 197.6,72.9 197.8,72.5 198.0,72.2 198.2,71.9 198.5,71.7 198.7,71.5 198.9,71.4 199.1,71.2 199.3,71.1 199.5,71.1 199.7,71.0 199.9,71.0 200.1,71.1 200.3,71.1 200.5,71.1 200.7,71.2 201.0,71.2 201.2,71.3 201.4,71.3 201.6,71.4 201.8,71.4 202.0,71.5 202.2,71.5 202.4,71.6 202.6,71.6 202.8,71.7 203.0,71.8 203.2,71.8 203.5,71.9 203.7,72.0 203.9,72.0 204.1,72.1 204.3,72.2 204.5,72.3 204.7,72.3 204.9,72.4 205.1,72.5 205.3,72.6 205.5,72.7 205.7,72.7 206.0,72.8 206.2,72.9 206.4,73.0 206.6,73.1 206.8,73.1 207.0,73.2 207.2,73.3 207.4,73.3 207.6,73.4 207.8,73.5 208.0,73.5 208.2,73.6 208.5,73.7 208.7,73.7 208.9,73.8 209.1,73.8 209.3,73.9 209.5,73.9 209.7,74.0 209.9,74.1 210.1,74.1 210.3,74.2 211.4,74.4 212.4,74.7 213.5,75.0 214.5,75.2 215.5,75.4 216.6,75.6 217.6,75.8 218.7,76.0 219.7,76.2 220.8,76.3 221.8,76.5 222.8,76.6 223.9,76.7 224.9,76.8 226.0,77.0 227.0,77.1 228.1,77.2 229.1,77.2 230.1,77.3 231.2,77.4 232.2,77.5 233.3,77.5 234.3,77.6 235.4,77.6 236.4,77.7 237.4,77.7 238.5,77.8 239.5,77.8 240.6,77.9 241.6,77.9 242.7,77.9 243.2,78.0" fill="none" stroke="#00ff00" stroke-width="1.7" stroke-linejoin="round"/>
<polyline points="187.4,78.7 187.6,78.7 187.8,78.7 188.0,78.7 188.2,78.7 188.4,78.7 188.7,78.7 188.9,78.7 189.1,78.7 189.3,78.7 189.5,78.7 189.7,78.7 189.9,78.7 190.1,78.7 190.3,78.7 190.5,78.7 190.7,78.7 190.9,78.7 191.2,78.7 191.4,78.7 191.6,78.7 191.8,78.7 192.0,78.7 192.2,78.7 192.4,78.7 192.6,78.7 192.8,78.3 193.0,77.1 193.2,75.3 193.4,73.1 193.7,70.6 193.9,68.1 194.1,65.7 194.3,63.2 194.5,60.1 194.7,56.7 194.9,53.4 195.1,50.4 195.3,48.2 195.5,46.7 195.7,45.5 195.9,45.0 196.2,45.8 196.4,47.5 196.6,49.3 196.8,51.7 197.0,54.1 197.2,56.0 197.4,57.7 197.6,59.2 197.8,60.7 198.0,62.1 198.2,63.6 198.5,65.1 198.7,66.7 198.9,68.1 199.1,69.3 199.3,70.2 199.5,70.9 199.7,71.6 199.9,72.3 200.1,72.9 200.3,73.4 200.5,73.9 200.7,74.4 201.0,74.8 201.2,75.1 201.4,75.3 201.6,75.6 201.8,75.8 202.0,76.0 202.2,76.2 202.4,76.4 202.6,76.6 202.8,76.7 203.0,76.9 203.2,77.1 203.5,77.2 203.7,77.3 203.9,77.4 204.1,77.5 204.3,77.6 204.5,77.7 204.7,77.8 204.9,77.8 205.1,77.9 205.3,77.9 205.5,77.9 205.7,78.0 206.0,78.0 206.2,78.0 206.4,78.1 206.6,78.1 206.8,78.1 207.0,78.1 207.2,78.2 207.4,78.2 207.6,78.2 207.8,78.2 208.0,78.2 208.2,78.3 208.5,78.3 208.7,78.3 208.9,78.3 209.1,78.3 209.3,78.3 209.5,78.4 209.7,78.4 209.9,78.4 210.1,78.4 210.3,78.4 211.4,78.5 212.4,78.5 213.5,78.5 214.5,78.5 215.5,78.5 216.6,78.5 217.6,78.5 218.7,78.5 219.7,78.5 220.8,78.5 221.8,78.5 222.8,78.5 223.9,78.5 224.9,78.5 226.0,78.5 227.0,78.5 228.1,78.5 229.1,78.6 230.1,78.6 231.2,78.6 232.2,78.6 233.3,78.6 234.3,78.6 235.4,78.6 236.4,78.6 237.4,78.6 238.5,78.6 239.5,78.6 240.6,78.6 241.6,78.6 242.7,78.6 243.2,78.6" fill="none" stroke="#ff00ff" stroke-width="1.7" stroke-linejoin="round" stroke-dasharray="5,4.6"/>
<polyline points="187.4,78.7 187.6,78.7 187.8,78.7 188.0,78.7 188.2,78.7 188.4,78.7 188.7,78.7 188.9,78.7 189.1,78.7 189.3,78.7 189.5,78.7 189.7,78.7 189.9,78.7 190.1,78.7 190.3,78.7 190.5,78.7 190.7,78.7 190.9,78.7 191.2,78.7 191.4,78.7 191.6,78.7 191.8,78.7 192.0,78.7 192.2,78.7 192.4,78.7 192.6,78.7 192.8,78.7 193.0,78.7 193.2,78.7 193.4,78.7 193.7,78.7 193.9,78.7 194.1,78.6 194.3,78.5 194.5,78.4 194.7,78.2 194.9,78.1 195.1,77.9 195.3,77.7 195.5,77.5 195.7,77.3 195.9,77.1 196.2,76.9 196.4,76.6 196.6,76.3 196.8,76.0 197.0,75.6 197.2,75.3 197.4,75.1 197.6,74.8 197.8,74.5 198.0,74.2 198.2,74.0 198.5,73.7 198.7,73.5 198.9,73.3 199.1,73.1 199.3,73.0 199.5,72.9 199.7,72.8 199.9,72.7 200.1,72.6 200.3,72.6 200.5,72.6 200.7,72.6 201.0,72.6 201.2,72.6 201.4,72.6 201.6,72.6 201.8,72.6 202.0,72.6 202.2,72.6 202.4,72.7 202.6,72.7 202.8,72.7 203.0,72.7 203.2,72.7 203.5,72.8 203.7,72.8 203.9,72.8 204.1,72.9 204.3,72.9 204.5,73.0 204.7,73.0 204.9,73.1 205.1,73.1 205.3,73.2 205.5,73.2 205.7,73.2 206.0,73.3 206.2,73.3 206.4,73.4 206.6,73.4 206.8,73.5 207.0,73.5 207.2,73.6 207.4,73.6 207.6,73.7 207.8,73.7 208.0,73.8 208.2,73.8 208.5,73.9 208.7,73.9 208.9,73.9 209.1,74.0 209.3,74.0 209.5,74.1 209.7,74.1 209.9,74.2 210.1,74.2 210.3,74.3 211.4,74.5 212.4,74.7 213.5,75.0 214.5,75.2 215.5,75.4 216.6,75.6 217.6,75.8 218.7,76.0 219.7,76.1 220.8,76.3 221.8,76.4 222.8,76.6 223.9,76.7 224.9,76.8 226.0,76.9 227.0,77.0 228.1,77.1 229.1,77.2 230.1,77.3 231.2,77.3 232.2,77.4 233.3,77.5 234.3,77.5 235.4,77.6 236.4,77.6 237.4,77.7 238.5,77.7 239.5,77.8 240.6,77.8 241.6,77.8 242.7,77.9 243.2,77.9" fill="none" stroke="#000000" stroke-width="1.7" stroke-linejoin="round" stroke-dasharray="5,4.4"/>
<line x1="259.40" y1="56.53" x2="313.92" y2="56.53" stroke="#eeeeee" stroke-width="1"/>
<line x1="259.40" y1="34.35" x2="313.92" y2="34.35" stroke="#eeeeee" stroke-width="1"/>
<line x1="280.25" y1="25.48" x2="280.25" y2="78.70" stroke="#eeeeee" stroke-width="1"/>
<line x1="301.10" y1="25.48" x2="301.10" y2="78.70" stroke="#eeeeee" stroke-width="1"/>
<line x1="259.40" y1="25.48" x2="259.40" y2="78.70" stroke="#b0b0b0" stroke-width="1.4"/>
<line x1="259.40" y1="78.70" x2="314.72" y2="78.70" stroke="#b0b0b0" stroke-width="1.4"/>
<line x1="259.40" y1="56.53" x2="261.00" y2="56.53" stroke="#b0b0b0" stroke-width="0.8"/>
<line x1="259.40" y1="34.35" x2="261.00" y2="34.35" stroke="#b0b0b0" stroke-width="0.8"/>
<line x1="280.25" y1="78.70" x2="280.25" y2="77.10" stroke="#b0b0b0" stroke-width="0.8"/>
<line x1="301.10" y1="78.70" x2="301.10" y2="77.10" stroke="#b0b0b0" stroke-width="0.8"/>
<text x="258.20" y="81.68" font-size="6.6" text-anchor="end" fill="#262626">0</text>
<text x="258.20" y="59.50" font-size="6.6" text-anchor="end" fill="#262626">5</text>
<text x="258.20" y="37.33" font-size="6.6" text-anchor="end" fill="#262626">10</text>
<text x="259.40" y="86.75" font-size="6.6" text-anchor="middle" fill="#262626">0</text>
<text x="280.25" y="86.75" font-size="6.6" text-anchor="middle" fill="#262626">100</text>
<text x="301.10" y="86.75" font-size="6.6" text-anchor="middle" fill="#262626">200</text>
<text x="286.66" y="23.10" font-size="7.4" font-weight="bold" text-anchor="middle" fill="#000">150, 80 %</text>
<polyline points="259.4,78.7 259.6,78.7 259.8,78.7 260.0,78.7 260.2,78.7 260.4,78.7 260.7,78.7 260.9,78.7 261.1,78.7 261.3,78.7 261.5,78.7 261.7,78.7 261.9,78.7 262.1,78.7 262.3,78.7 262.5,78.7 262.7,78.7 262.9,78.7 263.2,78.7 263.4,78.7 263.6,78.7 263.8,78.7 264.0,78.7 264.2,78.7 264.4,78.7 264.6,78.7 264.8,78.7 265.0,78.7 265.2,78.2 265.4,76.7 265.7,74.4 265.9,71.7 266.1,68.6 266.3,65.5 266.5,62.4 266.7,59.3 266.9,55.4 267.1,51.2 267.3,47.1 267.5,43.4 267.7,40.5 267.9,38.7 268.2,37.2 268.4,36.6 268.6,37.5 268.8,39.7 269.0,42.0 269.2,44.9 269.4,47.9 269.6,50.3 269.8,52.4 270.0,54.4 270.2,56.2 270.5,58.0 270.7,59.8 270.9,61.8 271.1,63.7 271.3,65.4 271.5,66.9 271.7,68.0 271.9,69.0 272.1,69.9 272.3,70.7 272.5,71.5 272.7,72.2 273.0,72.8 273.2,73.3 273.4,73.8 273.6,74.2 273.8,74.6 274.0,74.8 274.2,75.1 274.4,75.4 274.6,75.6 274.8,75.9 275.0,76.1 275.2,76.3 275.5,76.5 275.7,76.7 275.9,76.9 276.1,77.0 276.3,77.2 276.5,77.3 276.7,77.4 276.9,77.5 277.1,77.6 277.3,77.7 277.5,77.7 277.7,77.8 278.0,77.8 278.2,77.8 278.4,77.9 278.6,77.9 278.8,77.9 279.0,78.0 279.2,78.0 279.4,78.0 279.6,78.1 279.8,78.1 280.0,78.1 280.2,78.2 280.5,78.2 280.7,78.2 280.9,78.2 281.1,78.3 281.3,78.3 281.5,78.3 281.7,78.3 281.9,78.3 282.1,78.4 282.3,78.4 283.4,78.4 284.4,78.5 285.5,78.5 286.5,78.5 287.5,78.5 288.6,78.5 289.6,78.5 290.7,78.5 291.7,78.5 292.8,78.5 293.8,78.5 294.8,78.5 295.9,78.5 296.9,78.5 298.0,78.5 299.0,78.5 300.1,78.5 301.1,78.6 302.1,78.6 303.2,78.6 304.2,78.6 305.3,78.6 306.3,78.6 307.4,78.6 308.4,78.6 309.4,78.6 310.5,78.6 311.5,78.6 312.6,78.6 313.6,78.6 314.7,78.6 315.2,78.6" fill="none" stroke="#ff0000" stroke-width="1.7" stroke-linejoin="round"/>
<polyline points="259.4,78.7 259.6,78.7 259.8,78.7 260.0,78.7 260.2,78.7 260.4,78.7 260.7,78.7 260.9,78.7 261.1,78.7 261.3,78.7 261.5,78.7 261.7,78.7 261.9,78.7 262.1,78.7 262.3,78.7 262.5,78.7 262.7,78.7 262.9,78.7 263.2,78.7 263.4,78.7 263.6,78.7 263.8,78.7 264.0,78.7 264.2,78.7 264.4,78.7 264.6,78.7 264.8,78.7 265.0,78.7 265.2,78.7 265.4,78.6 265.7,78.4 265.9,78.2 266.1,78.0 266.3,77.7 266.5,77.4 266.7,77.1 266.9,76.8 267.1,76.5 267.3,76.2 267.5,75.7 267.7,75.3 267.9,74.8 268.2,74.3 268.4,73.8 268.6,73.3 268.8,72.9 269.0,72.5 269.2,72.0 269.4,71.6 269.6,71.2 269.8,70.8 270.0,70.5 270.2,70.2 270.5,70.0 270.7,69.8 270.9,69.7 271.1,69.6 271.3,69.4 271.5,69.4 271.7,69.3 271.9,69.4 272.1,69.4 272.3,69.4 272.5,69.5 272.7,69.6 273.0,69.7 273.2,69.8 273.4,69.9 273.6,70.0 273.8,70.1 274.0,70.1 274.2,70.2 274.4,70.3 274.6,70.4 274.8,70.5 275.0,70.6 275.2,70.7 275.5,70.8 275.7,71.0 275.9,71.1 276.1,71.2 276.3,71.3 276.5,71.4 276.7,71.5 276.9,71.7 277.1,71.8 277.3,71.9 277.5,72.0 277.7,72.2 278.0,72.3 278.2,72.4 278.4,72.5 278.6,72.6 278.8,72.7 279.0,72.8 279.2,72.9 279.4,73.0 279.6,73.1 279.8,73.2 280.0,73.3 280.2,73.4 280.5,73.5 280.7,73.5 280.9,73.6 281.1,73.7 281.3,73.7 281.5,73.8 281.7,73.9 281.9,74.0 282.1,74.0 282.3,74.1 283.4,74.4 284.4,74.7 285.5,75.0 286.5,75.3 287.5,75.5 288.6,75.7 289.6,75.9 290.7,76.1 291.7,76.3 292.8,76.4 293.8,76.6 294.8,76.7 295.9,76.8 296.9,76.9 298.0,77.0 299.0,77.1 300.1,77.2 301.1,77.3 302.1,77.4 303.2,77.5 304.2,77.6 305.3,77.7 306.3,77.7 307.4,77.8 308.4,77.9 309.4,77.9 310.5,78.0 311.5,78.1 312.6,78.1 313.6,78.1 314.7,78.2 315.2,78.2" fill="none" stroke="#0000ff" stroke-width="1.0" stroke-linejoin="round"/>
<polyline points="259.4,78.7 259.6,78.7 259.8,78.7 260.0,78.7 260.2,78.7 260.4,78.7 260.7,78.7 260.9,78.7 261.1,78.7 261.3,78.7 261.5,78.7 261.7,78.7 261.9,78.7 262.1,78.7 262.3,78.7 262.5,78.7 262.7,78.7 262.9,78.7 263.2,78.7 263.4,78.7 263.6,78.7 263.8,78.7 264.0,78.7 264.2,78.7 264.4,78.7 264.6,78.7 264.8,78.7 265.0,78.7 265.2,78.7 265.4,78.7 265.7,78.6 265.9,78.5 266.1,78.3 266.3,78.1 266.5,77.9 266.7,77.6 266.9,77.4 267.1,77.2 267.3,76.9 267.5,76.6 267.7,76.2 267.9,75.8 268.2,75.4 268.4,75.0 268.6,74.7 268.8,74.3 269.0,74.0 269.2,73.6 269.4,73.3 269.6,73.0 269.8,72.7 270.0,72.4 270.2,72.3 270.5,72.1 270.7,72.0 270.9,71.9 271.1,71.8 271.3,71.7 271.5,71.7 271.7,71.7 271.9,71.7 272.1,71.7 272.3,71.8 272.5,71.8 272.7,71.8 273.0,71.9 273.2,71.9 273.4,71.9 273.6,72.0 273.8,72.0 274.0,72.0 274.2,72.1 274.4,72.1 274.6,72.2 274.8,72.2 275.0,72.2 275.2,72.3 275.5,72.3 275.7,72.4 275.9,72.4 276.1,72.4 276.3,72.5 276.5,72.5 276.7,72.6 276.9,72.6 277.1,72.7 277.3,72.7 277.5,72.8 277.7,72.8 278.0,72.8 278.2,72.9 278.4,72.9 278.6,73.0 278.8,73.0 279.0,73.1 279.2,73.1 279.4,73.2 279.6,73.2 279.8,73.3 280.0,73.3 280.2,73.4 280.5,73.4 280.7,73.5 280.9,73.5 281.1,73.6 281.3,73.6 281.5,73.7 281.7,73.7 281.9,73.8 282.1,73.9 282.3,73.9 283.4,74.2 284.4,74.5 285.5,74.9 286.5,75.2 287.5,75.4 288.6,75.7 289.6,75.9 290.7,76.1 291.7,76.3 292.8,76.4 293.8,76.6 294.8,76.7 295.9,76.8 296.9,76.9 298.0,77.0 299.0,77.1 300.1,77.2 301.1,77.3 302.1,77.4 303.2,77.4 304.2,77.5 305.3,77.6 306.3,77.7 307.4,77.8 308.4,77.8 309.4,77.9 310.5,78.0 311.5,78.0 312.6,78.1 313.6,78.1 314.7,78.1 315.2,78.1" fill="none" stroke="#00ffff" stroke-width="1.0" stroke-linejoin="round"/>
<polyline points="259.4,78.7 259.6,78.7 259.8,78.7 260.0,78.7 260.2,78.7 260.4,78.7 260.7,78.7 260.9,78.7 261.1,78.7 261.3,78.7 261.5,78.7 261.7,78.7 261.9,78.7 262.1,78.7 262.3,78.7 262.5,78.7 262.7,78.7 262.9,78.7 263.2,78.7 263.4,78.7 263.6,78.7 263.8,78.7 264.0,78.7 264.2,78.7 264.4,78.7 264.6,78.7 264.8,78.7 265.0,78.7 265.2,78.7 265.4,78.6 265.7,78.4 265.9,78.2 266.1,78.0 266.3,77.7 266.5,77.4 266.7,77.1 266.9,76.8 267.1,76.5 267.3,76.2 267.5,75.8 267.7,75.3 267.9,74.8 268.2,74.3 268.4,73.9 268.6,73.4 268.8,73.0 269.0,72.6 269.2,72.1 269.4,71.7 269.6,71.3 269.8,70.9 270.0,70.6 270.2,70.3 270.5,70.1 270.7,70.0 270.9,69.8 271.1,69.7 271.3,69.6 271.5,69.5 271.7,69.5 271.9,69.5 272.1,69.5 272.3,69.6 272.5,69.6 272.7,69.7 273.0,69.7 273.2,69.8 273.4,69.9 273.6,70.0 273.8,70.1 274.0,70.1 274.2,70.2 274.4,70.3 274.6,70.4 274.8,70.5 275.0,70.6 275.2,70.7 275.5,70.8 275.7,70.9 275.9,71.0 276.1,71.1 276.3,71.3 276.5,71.4 276.7,71.5 276.9,71.6 277.1,71.8 277.3,71.9 277.5,72.0 277.7,72.1 278.0,72.3 278.2,72.4 278.4,72.5 278.6,72.6 278.8,72.7 279.0,72.8 279.2,72.9 279.4,73.0 279.6,73.1 279.8,73.2 280.0,73.3 280.2,73.4 280.5,73.5 280.7,73.5 280.9,73.6 281.1,73.7 281.3,73.7 281.5,73.8 281.7,73.9 281.9,74.0 282.1,74.0 282.3,74.1 283.4,74.4 284.4,74.7 285.5,75.0 286.5,75.3 287.5,75.5 288.6,75.7 289.6,75.9 290.7,76.1 291.7,76.3 292.8,76.4 293.8,76.6 294.8,76.7 295.9,76.8 296.9,76.9 298.0,77.0 299.0,77.1 300.1,77.2 301.1,77.3 302.1,77.4 303.2,77.5 304.2,77.6 305.3,77.7 306.3,77.7 307.4,77.8 308.4,77.9 309.4,77.9 310.5,78.0 311.5,78.1 312.6,78.1 313.6,78.1 314.7,78.2 315.2,78.2" fill="none" stroke="#00ff00" stroke-width="1.7" stroke-linejoin="round"/>
<polyline points="259.4,78.7 259.6,78.7 259.8,78.7 260.0,78.7 260.2,78.7 260.4,78.7 260.7,78.7 260.9,78.7 261.1,78.7 261.3,78.7 261.5,78.7 261.7,78.7 261.9,78.7 262.1,78.7 262.3,78.7 262.5,78.7 262.7,78.7 262.9,78.7 263.2,78.7 263.4,78.7 263.6,78.7 263.8,78.7 264.0,78.7 264.2,78.7 264.4,78.7 264.6,78.7 264.8,78.7 265.0,78.7 265.2,78.7 265.4,78.3 265.7,77.1 265.9,75.4 266.1,73.3 266.3,70.9 266.5,68.5 266.7,66.2 266.9,63.8 267.1,60.8 267.3,57.6 267.5,54.4 267.7,51.6 267.9,49.4 268.2,47.9 268.4,46.8 268.6,46.3 268.8,47.1 269.0,48.7 269.2,50.5 269.4,52.7 269.6,55.0 269.8,56.9 270.0,58.5 270.2,60.0 270.5,61.4 270.7,62.8 270.9,64.2 271.1,65.7 271.3,67.1 271.5,68.5 271.7,69.7 271.9,70.5 272.1,71.2 272.3,71.9 272.5,72.5 272.7,73.1 273.0,73.6 273.2,74.1 273.4,74.5 273.6,74.9 273.8,75.2 274.0,75.5 274.2,75.7 274.4,75.9 274.6,76.1 274.8,76.3 275.0,76.5 275.2,76.7 275.5,76.8 275.7,77.0 275.9,77.1 276.1,77.2 276.3,77.4 276.5,77.5 276.7,77.6 276.9,77.7 277.1,77.7 277.3,77.8 277.5,77.9 277.7,77.9 278.0,77.9 278.2,78.0 278.4,78.0 278.6,78.0 278.8,78.0 279.0,78.1 279.2,78.1 279.4,78.1 279.6,78.1 279.8,78.2 280.0,78.2 280.2,78.2 280.5,78.2 280.7,78.3 280.9,78.3 281.1,78.3 281.3,78.3 281.5,78.3 281.7,78.3 281.9,78.4 282.1,78.4 282.3,78.4 283.4,78.4 284.4,78.5 285.5,78.5 286.5,78.5 287.5,78.5 288.6,78.5 289.6,78.5 290.7,78.5 291.7,78.5 292.8,78.5 293.8,78.5 294.8,78.5 295.9,78.5 296.9,78.5 298.0,78.5 299.0,78.5 300.1,78.5 301.1,78.6 302.1,78.6 303.2,78.6 304.2,78.6 305.3,78.6 306.3,78.6 307.4,78.6 308.4,78.6 309.4,78.6 310.5,78.6 311.5,78.6 312.6,78.6 313.6,78.6 314.7,78.6 315.2,78.6" fill="none" stroke="#ff00ff" stroke-width="1.7" stroke-linejoin="round" stroke-dasharray="5,4.6"/>
<polyline points="259.4,78.7 259.6,78.7 259.8,78.7 260.0,78.7 260.2,78.7 260.4,78.7 260.7,78.7 260.9,78.7 261.1,78.7 261.3,78.7 261.5,78.7 261.7,78.7 261.9,78.7 262.1,78.7 262.3,78.7 262.5,78.7 262.7,78.7 262.9,78.7 263.2,78.7 263.4,78.7 263.6,78.7 263.8,78.7 264.0,78.7 264.2,78.7 264.4,78.7 264.6,78.7 264.8,78.7 265.0,78.7 265.2,78.7 265.4,78.7 265.7,78.6 265.9,78.5 266.1,78.3 266.3,78.1 266.5,77.9 266.7,77.6 266.9,77.4 267.1,77.2 267.3,76.9 267.5,76.6 267.7,76.2 267.9,75.9 268.2,75.5 268.4,75.1 268.6,74.7 268.8,74.4 269.0,74.0 269.2,73.7 269.4,73.4 269.6,73.0 269.8,72.7 270.0,72.5 270.2,72.3 270.5,72.2 270.7,72.1 270.9,72.0 271.1,71.9 271.3,71.8 271.5,71.8 271.7,71.8 271.9,71.8 272.1,71.8 272.3,71.8 272.5,71.8 272.7,71.9 273.0,71.9 273.2,71.9 273.4,72.0 273.6,72.0 273.8,72.0 274.0,72.0 274.2,72.1 274.4,72.1 274.6,72.1 274.8,72.2 275.0,72.2 275.2,72.2 275.5,72.3 275.7,72.3 275.9,72.4 276.1,72.4 276.3,72.5 276.5,72.5 276.7,72.5 276.9,72.6 277.1,72.6 277.3,72.7 277.5,72.7 277.7,72.8 278.0,72.8 278.2,72.9 278.4,72.9 278.6,73.0 278.8,73.0 279.0,73.1 279.2,73.1 279.4,73.2 279.6,73.2 279.8,73.3 280.0,73.3 280.2,73.4 280.5,73.4 280.7,73.5 280.9,73.5 281.1,73.6 281.3,73.6 281.5,73.7 281.7,73.7 281.9,73.8 282.1,73.9 282.3,73.9 283.4,74.2 284.4,74.5 285.5,74.9 286.5,75.2 287.5,75.4 288.6,75.7 289.6,75.9 290.7,76.1 291.7,76.3 292.8,76.4 293.8,76.6 294.8,76.7 295.9,76.8 296.9,76.9 298.0,77.0 299.0,77.1 300.1,77.2 301.1,77.3 302.1,77.4 303.2,77.4 304.2,77.5 305.3,77.6 306.3,77.7 307.4,77.8 308.4,77.8 309.4,77.9 310.5,78.0 311.5,78.0 312.6,78.1 313.6,78.1 314.7,78.1 315.2,78.1" fill="none" stroke="#000000" stroke-width="1.7" stroke-linejoin="round" stroke-dasharray="5,4.4"/>
<line x1="42.80" y1="135.48" x2="97.32" y2="135.48" stroke="#eeeeee" stroke-width="1"/>
<line x1="42.80" y1="113.30" x2="97.32" y2="113.30" stroke="#eeeeee" stroke-width="1"/>
<line x1="63.65" y1="104.43" x2="63.65" y2="157.65" stroke="#eeeeee" stroke-width="1"/>
<line x1="84.50" y1="104.43" x2="84.50" y2="157.65" stroke="#eeeeee" stroke-width="1"/>
<line x1="42.80" y1="104.43" x2="42.80" y2="157.65" stroke="#b0b0b0" stroke-width="1.4"/>
<line x1="42.80" y1="157.65" x2="98.12" y2="157.65" stroke="#b0b0b0" stroke-width="1.4"/>
<line x1="42.80" y1="135.48" x2="44.40" y2="135.48" stroke="#b0b0b0" stroke-width="0.8"/>
<line x1="42.80" y1="113.30" x2="44.40" y2="113.30" stroke="#b0b0b0" stroke-width="0.8"/>
<line x1="63.65" y1="157.65" x2="63.65" y2="156.05" stroke="#b0b0b0" stroke-width="0.8"/>
<line x1="84.50" y1="157.65" x2="84.50" y2="156.05" stroke="#b0b0b0" stroke-width="0.8"/>
<text x="41.60" y="160.63" font-size="6.6" text-anchor="end" fill="#262626">0</text>
<text x="41.60" y="138.45" font-size="6.6" text-anchor="end" fill="#262626">5</text>
<text x="41.60" y="116.28" font-size="6.6" text-anchor="end" fill="#262626">10</text>
<text x="42.80" y="165.70" font-size="6.6" text-anchor="middle" fill="#262626">0</text>
<text x="63.65" y="165.70" font-size="6.6" text-anchor="middle" fill="#262626">100</text>
<text x="84.50" y="165.70" font-size="6.6" text-anchor="middle" fill="#262626">200</text>
<text x="70.06" y="102.05" font-size="7.4" font-weight="bold" text-anchor="middle" fill="#000">200, 20 %</text>
<polyline points="42.8,157.7 43.0,157.7 43.2,157.7 43.4,157.7 43.6,157.7 43.8,157.7 44.1,157.7 44.3,157.7 44.5,157.7 44.7,157.7 44.9,157.7 45.1,157.7 45.3,157.7 45.5,157.7 45.7,157.7 45.9,157.7 46.1,157.7 46.3,157.7 46.6,157.7 46.8,157.7 47.0,157.7 47.2,157.7 47.4,157.5 47.6,156.4 47.8,154.5 48.0,151.9 48.2,148.9 48.4,145.7 48.6,142.5 48.8,139.5 49.1,135.9 49.3,131.8 49.5,127.5 49.7,123.4 49.9,120.0 50.1,117.6 50.3,116.0 50.5,114.8 50.7,114.9 50.9,116.6 51.1,118.9 51.3,121.6 51.6,124.7 51.8,127.5 52.0,129.8 52.2,131.8 52.4,133.8 52.6,135.6 52.8,137.4 53.0,139.4 53.2,141.3 53.4,143.2 53.6,144.9 53.9,146.3 54.1,147.3 54.3,148.2 54.5,149.1 54.7,149.9 54.9,150.6 55.1,151.3 55.3,151.9 55.5,152.4 55.7,152.9 55.9,153.3 56.1,153.6 56.4,153.9 56.6,154.1 56.8,154.4 57.0,154.7 57.2,154.9 57.4,155.1 57.6,155.3 57.8,155.5 58.0,155.7 58.2,155.9 58.4,156.0 58.6,156.2 58.9,156.3 59.1,156.4 59.3,156.5 59.5,156.6 59.7,156.6 59.9,156.7 60.1,156.7 60.3,156.8 60.5,156.8 60.7,156.8 60.9,156.9 61.1,156.9 61.4,156.9 61.6,157.0 61.8,157.0 62.0,157.0 62.2,157.1 62.4,157.1 62.6,157.1 62.8,157.1 63.0,157.2 63.2,157.2 63.4,157.2 63.6,157.2 63.9,157.3 64.1,157.3 64.3,157.3 64.5,157.3 64.7,157.3 64.9,157.3 65.1,157.4 65.3,157.4 65.5,157.4 65.7,157.4 66.8,157.4 67.8,157.4 68.9,157.4 69.9,157.4 70.9,157.5 72.0,157.5 73.0,157.5 74.1,157.5 75.1,157.5 76.2,157.5 77.2,157.5 78.2,157.5 79.3,157.5 80.3,157.5 81.4,157.5 82.4,157.5 83.5,157.5 84.5,157.5 85.5,157.5 86.6,157.5 87.6,157.5 88.7,157.5 89.7,157.5 90.8,157.5 91.8,157.5 92.8,157.5 93.9,157.5 94.9,157.5 96.0,157.5 97.0,157.5 98.1,157.5 98.6,157.5" fill="none" stroke="#ff0000" stroke-width="1.7" stroke-linejoin="round"/>
<polyline points="42.8,157.7 43.0,157.7 43.2,157.7 43.4,157.7 43.6,157.7 43.8,157.7 44.1,157.7 44.3,157.7 44.5,157.7 44.7,157.7 44.9,157.7 45.1,157.7 45.3,157.7 45.5,157.7 45.7,157.7 45.9,157.7 46.1,157.7 46.3,157.7 46.6,157.7 46.8,157.7 47.0,157.7 47.2,157.7 47.4,157.7 47.6,157.7 47.8,157.7 48.0,157.7 48.2,157.7 48.4,157.7 48.6,157.6 48.8,157.4 49.1,157.1 49.3,156.8 49.5,156.5 49.7,156.3 49.9,155.9 50.1,155.6 50.3,155.4 50.5,155.1 50.7,154.9 50.9,154.7 51.1,154.5 51.3,154.3 51.6,154.2 51.8,154.2 52.0,154.2 52.2,154.2 52.4,154.2 52.6,154.2 52.8,154.3 53.0,154.3 53.2,154.3 53.4,154.3 53.6,154.4 53.9,154.4 54.1,154.4 54.3,154.5 54.5,154.5 54.7,154.5 54.9,154.6 55.1,154.6 55.3,154.6 55.5,154.7 55.7,154.7 55.9,154.7 56.1,154.8 56.4,154.8 56.6,154.8 56.8,154.8 57.0,154.9 57.2,154.9 57.4,154.9 57.6,154.9 57.8,154.9 58.0,154.9 58.2,155.0 58.4,155.0 58.6,155.0 58.9,155.0 59.1,155.0 59.3,155.0 59.5,155.0 59.7,155.0 59.9,155.0 60.1,155.0 60.3,155.1 60.5,155.1 60.7,155.1 60.9,155.1 61.1,155.1 61.4,155.1 61.6,155.1 61.8,155.1 62.0,155.1 62.2,155.1 62.4,155.1 62.6,155.2 62.8,155.2 63.0,155.2 63.2,155.2 63.4,155.2 63.6,155.2 63.9,155.2 64.1,155.2 64.3,155.2 64.5,155.3 64.7,155.3 64.9,155.3 65.1,155.3 65.3,155.3 65.5,155.3 65.7,155.3 66.8,155.4 67.8,155.5 68.9,155.6 69.9,155.6 70.9,155.7 72.0,155.8 73.0,155.9 74.1,155.9 75.1,156.0 76.2,156.0 77.2,156.1 78.2,156.1 79.3,156.2 80.3,156.2 81.4,156.3 82.4,156.3 83.5,156.3 84.5,156.4 85.5,156.4 86.6,156.4 87.6,156.5 88.7,156.5 89.7,156.5 90.8,156.5 91.8,156.6 92.8,156.6 93.9,156.6 94.9,156.6 96.0,156.7 97.0,156.7 98.1,156.7 98.6,156.7" fill="none" stroke="#0000ff" stroke-width="1.0" stroke-linejoin="round"/>
<polyline points="42.8,157.7 43.0,157.7 43.2,157.7 43.4,157.7 43.6,157.7 43.8,157.7 44.1,157.7 44.3,157.7 44.5,157.7 44.7,157.7 44.9,157.7 45.1,157.7 45.3,157.7 45.5,157.7 45.7,157.7 45.9,157.7 46.1,157.7 46.3,157.7 46.6,157.7 46.8,157.7 47.0,157.7 47.2,157.7 47.4,157.7 47.6,157.7 47.8,157.7 48.0,157.7 48.2,157.7 48.4,157.7 48.6,157.7 48.8,157.6 49.1,157.5 49.3,157.3 49.5,157.1 49.7,156.9 49.9,156.7 50.1,156.5 50.3,156.2 50.5,156.0 50.7,155.8 50.9,155.6 51.1,155.5 51.3,155.3 51.6,155.2 51.8,155.0 52.0,154.9 52.2,154.8 52.4,154.8 52.6,154.8 52.8,154.8 53.0,154.8 53.2,154.9 53.4,154.9 53.6,154.9 53.9,154.9 54.1,154.9 54.3,155.0 54.5,155.0 54.7,155.0 54.9,155.0 55.1,155.1 55.3,155.1 55.5,155.1 55.7,155.2 55.9,155.2 56.1,155.2 56.4,155.2 56.6,155.2 56.8,155.3 57.0,155.3 57.2,155.3 57.4,155.3 57.6,155.3 57.8,155.3 58.0,155.3 58.2,155.3 58.4,155.3 58.6,155.3 58.9,155.3 59.1,155.3 59.3,155.3 59.5,155.4 59.7,155.4 59.9,155.4 60.1,155.4 60.3,155.4 60.5,155.4 60.7,155.4 60.9,155.4 61.1,155.4 61.4,155.4 61.6,155.4 61.8,155.4 62.0,155.4 62.2,155.4 62.4,155.4 62.6,155.4 62.8,155.4 63.0,155.4 63.2,155.4 63.4,155.4 63.6,155.4 63.9,155.4 64.1,155.4 64.3,155.5 64.5,155.5 64.7,155.5 64.9,155.5 65.1,155.5 65.3,155.5 65.5,155.5 65.7,155.5 66.8,155.6 67.8,155.6 68.9,155.7 69.9,155.7 70.9,155.8 72.0,155.8 73.0,155.9 74.1,155.9 75.1,156.0 76.2,156.0 77.2,156.1 78.2,156.1 79.3,156.2 80.3,156.2 81.4,156.3 82.4,156.3 83.5,156.3 84.5,156.4 85.5,156.4 86.6,156.4 87.6,156.5 88.7,156.5 89.7,156.5 90.8,156.5 91.8,156.6 92.8,156.6 93.9,156.6 94.9,156.6 96.0,156.7 97.0,156.7 98.1,156.7 98.6,156.7" fill="none" stroke="#00ffff" stroke-width="1.0" stroke-linejoin="round"/>
<polyline points="42.8,157.7 43.0,157.7 43.2,157.7 43.4,157.7 43.6,157.7 43.8,157.7 44.1,157.7 44.3,157.7 44.5,157.7 44.7,157.7 44.9,157.7 45.1,157.7 45.3,157.7 45.5,157.7 45.7,157.7 45.9,157.7 46.1,157.7 46.3,157.7 46.6,157.7 46.8,157.7 47.0,157.7 47.2,157.7 47.4,157.7 47.6,157.7 47.8,157.7 48.0,157.7 48.2,157.7 48.4,157.7 48.6,157.6 48.8,157.4 49.1,157.1 49.3,156.8 49.5,156.6 49.7,156.3 49.9,156.0 50.1,155.7 50.3,155.5 50.5,155.2 50.7,155.0 50.9,154.8 51.1,154.6 51.3,154.4 51.6,154.3 51.8,154.3 52.0,154.3 52.2,154.3 52.4,154.3 52.6,154.4 52.8,154.4 53.0,154.4 53.2,154.4 53.4,154.4 53.6,154.5 53.9,154.5 54.1,154.5 54.3,154.5 54.5,154.6 54.7,154.6 54.9,154.6 55.1,154.6 55.3,154.7 55.5,154.7 55.7,154.7 55.9,154.8 56.1,154.8 56.4,154.8 56.6,154.8 56.8,154.8 57.0,154.9 57.2,154.9 57.4,154.9 57.6,154.9 57.8,154.9 58.0,154.9 58.2,155.0 58.4,155.0 58.6,155.0 58.9,155.0 59.1,155.0 59.3,155.0 59.5,155.0 59.7,155.0 59.9,155.0 60.1,155.0 60.3,155.1 60.5,155.1 60.7,155.1 60.9,155.1 61.1,155.1 61.4,155.1 61.6,155.1 61.8,155.1 62.0,155.1 62.2,155.1 62.4,155.1 62.6,155.2 62.8,155.2 63.0,155.2 63.2,155.2 63.4,155.2 63.6,155.2 63.9,155.2 64.1,155.2 64.3,155.2 64.5,155.3 64.7,155.3 64.9,155.3 65.1,155.3 65.3,155.3 65.5,155.3 65.7,155.3 66.8,155.4 67.8,155.5 68.9,155.6 69.9,155.6 70.9,155.7 72.0,155.8 73.0,155.9 74.1,155.9 75.1,156.0 76.2,156.0 77.2,156.1 78.2,156.1 79.3,156.2 80.3,156.2 81.4,156.3 82.4,156.3 83.5,156.3 84.5,156.4 85.5,156.4 86.6,156.4 87.6,156.5 88.7,156.5 89.7,156.5 90.8,156.5 91.8,156.6 92.8,156.6 93.9,156.6 94.9,156.6 96.0,156.7 97.0,156.7 98.1,156.7 98.6,156.7" fill="none" stroke="#00ff00" stroke-width="1.7" stroke-linejoin="round"/>
<polyline points="42.8,157.7 43.0,157.7 43.2,157.7 43.4,157.7 43.6,157.7 43.8,157.7 44.1,157.7 44.3,157.7 44.5,157.7 44.7,157.7 44.9,157.7 45.1,157.7 45.3,157.7 45.5,157.7 45.7,157.7 45.9,157.7 46.1,157.7 46.3,157.7 46.6,157.7 46.8,157.7 47.0,157.7 47.2,157.7 47.4,157.7 47.6,157.6 47.8,156.9 48.0,155.8 48.2,154.2 48.4,152.4 48.6,150.5 48.8,148.6 49.1,146.8 49.3,144.7 49.5,142.2 49.7,139.6 49.9,137.2 50.1,135.1 50.3,133.7 50.5,132.7 50.7,132.0 50.9,132.1 51.1,133.1 51.3,134.5 51.6,136.1 51.8,138.0 52.0,139.6 52.2,141.0 52.4,142.2 52.6,143.4 52.8,144.5 53.0,145.6 53.2,146.7 53.4,147.9 53.6,149.0 53.9,150.0 54.1,150.8 54.3,151.4 54.5,152.0 54.7,152.5 54.9,153.0 55.1,153.4 55.3,153.8 55.5,154.1 55.7,154.5 55.9,154.7 56.1,154.9 56.4,155.1 56.6,155.3 56.8,155.5 57.0,155.6 57.2,155.8 57.4,155.9 57.6,156.0 57.8,156.2 58.0,156.3 58.2,156.4 58.4,156.5 58.6,156.6 58.9,156.7 59.1,156.8 59.3,156.8 59.5,156.9 59.7,156.9 59.9,157.0 60.1,157.0 60.3,157.0 60.5,157.0 60.7,157.0 60.9,157.1 61.1,157.1 61.4,157.1 61.6,157.1 61.8,157.2 62.0,157.2 62.2,157.2 62.4,157.2 62.6,157.2 62.8,157.2 63.0,157.3 63.2,157.3 63.4,157.3 63.6,157.3 63.9,157.3 64.1,157.3 64.3,157.3 64.5,157.3 64.7,157.4 64.9,157.4 65.1,157.4 65.3,157.4 65.5,157.4 65.7,157.4 66.8,157.4 67.8,157.4 68.9,157.4 69.9,157.4 70.9,157.4 72.0,157.5 73.0,157.5 74.1,157.5 75.1,157.5 76.2,157.5 77.2,157.5 78.2,157.5 79.3,157.5 80.3,157.5 81.4,157.5 82.4,157.5 83.5,157.5 84.5,157.5 85.5,157.5 86.6,157.5 87.6,157.5 88.7,157.5 89.7,157.5 90.8,157.5 91.8,157.5 92.8,157.5 93.9,157.5 94.9,157.5 96.0,157.5 97.0,157.5 98.1,157.5 98.6,157.5" fill="none" stroke="#ff00ff" stroke-width="1.7" stroke-linejoin="round" stroke-dasharray="5,4.6"/>
<polyline points="42.8,157.7 43.0,157.7 43.2,157.7 43.4,157.7 43.6,157.7 43.8,157.7 44.1,157.7 44.3,157.7 44.5,157.7 44.7,157.7 44.9,157.7 45.1,157.7 45.3,157.7 45.5,157.7 45.7,157.7 45.9,157.7 46.1,157.7 46.3,157.7 46.6,157.7 46.8,157.7 47.0,157.7 47.2,157.7 47.4,157.7 47.6,157.7 47.8,157.7 48.0,157.7 48.2,157.7 48.4,157.7 48.6,157.7 48.8,157.6 49.1,157.5 49.3,157.3 49.5,157.1 49.7,156.9 49.9,156.7 50.1,156.5 50.3,156.3 50.5,156.1 50.7,155.9 50.9,155.7 51.1,155.5 51.3,155.4 51.6,155.2 51.8,155.1 52.0,155.0 52.2,154.9 52.4,154.9 52.6,154.9 52.8,154.9 53.0,154.9 53.2,154.9 53.4,155.0 53.6,155.0 53.9,155.0 54.1,155.0 54.3,155.0 54.5,155.0 54.7,155.1 54.9,155.1 55.1,155.1 55.3,155.1 55.5,155.2 55.7,155.2 55.9,155.2 56.1,155.2 56.4,155.2 56.6,155.3 56.8,155.3 57.0,155.3 57.2,155.3 57.4,155.3 57.6,155.3 57.8,155.3 58.0,155.3 58.2,155.3 58.4,155.3 58.6,155.3 58.9,155.3 59.1,155.3 59.3,155.3 59.5,155.4 59.7,155.4 59.9,155.4 60.1,155.4 60.3,155.4 60.5,155.4 60.7,155.4 60.9,155.4 61.1,155.4 61.4,155.4 61.6,155.4 61.8,155.4 62.0,155.4 62.2,155.4 62.4,155.4 62.6,155.4 62.8,155.4 63.0,155.4 63.2,155.4 63.4,155.4 63.6,155.4 63.9,155.4 64.1,155.4 64.3,155.5 64.5,155.5 64.7,155.5 64.9,155.5 65.1,155.5 65.3,155.5 65.5,155.5 65.7,155.5 66.8,155.6 67.8,155.6 68.9,155.7 69.9,155.7 70.9,155.8 72.0,155.8 73.0,155.9 74.1,155.9 75.1,156.0 76.2,156.0 77.2,156.1 78.2,156.1 79.3,156.2 80.3,156.2 81.4,156.3 82.4,156.3 83.5,156.3 84.5,156.4 85.5,156.4 86.6,156.4 87.6,156.5 88.7,156.5 89.7,156.5 90.8,156.5 91.8,156.6 92.8,156.6 93.9,156.6 94.9,156.6 96.0,156.7 97.0,156.7 98.1,156.7 98.6,156.7" fill="none" stroke="#000000" stroke-width="1.7" stroke-linejoin="round" stroke-dasharray="5,4.4"/>
<line x1="115.10" y1="135.48" x2="169.62" y2="135.48" stroke="#eeeeee" stroke-width="1"/>
<line x1="115.10" y1="113.30" x2="169.62" y2="113.30" stroke="#eeeeee" stroke-width="1"/>
<line x1="135.95" y1="104.43" x2="135.95" y2="157.65" stroke="#eeeeee" stroke-width="1"/>
<line x1="156.80" y1="104.43" x2="156.80" y2="157.65" stroke="#eeeeee" stroke-width="1"/>
<line x1="115.10" y1="104.43" x2="115.10" y2="157.65" stroke="#b0b0b0" stroke-width="1.4"/>
<line x1="115.10" y1="157.65" x2="170.42" y2="157.65" stroke="#b0b0b0" stroke-width="1.4"/>
<line x1="115.10" y1="135.48" x2="116.70" y2="135.48" stroke="#b0b0b0" stroke-width="0.8"/>
<line x1="115.10" y1="113.30" x2="116.70" y2="113.30" stroke="#b0b0b0" stroke-width="0.8"/>
<line x1="135.95" y1="157.65" x2="135.95" y2="156.05" stroke="#b0b0b0" stroke-width="0.8"/>
<line x1="156.80" y1="157.65" x2="156.80" y2="156.05" stroke="#b0b0b0" stroke-width="0.8"/>
<text x="113.90" y="160.63" font-size="6.6" text-anchor="end" fill="#262626">0</text>
<text x="113.90" y="138.45" font-size="6.6" text-anchor="end" fill="#262626">5</text>
<text x="113.90" y="116.28" font-size="6.6" text-anchor="end" fill="#262626">10</text>
<text x="115.10" y="165.70" font-size="6.6" text-anchor="middle" fill="#262626">0</text>
<text x="135.95" y="165.70" font-size="6.6" text-anchor="middle" fill="#262626">100</text>
<text x="156.80" y="165.70" font-size="6.6" text-anchor="middle" fill="#262626">200</text>
<text x="142.36" y="102.05" font-size="7.4" font-weight="bold" text-anchor="middle" fill="#000">200, 40 %</text>
<polyline points="115.1,157.7 115.3,157.7 115.5,157.7 115.7,157.7 115.9,157.7 116.1,157.7 116.4,157.7 116.6,157.7 116.8,157.7 117.0,157.7 117.2,157.7 117.4,157.7 117.6,157.7 117.8,157.7 118.0,157.7 118.2,157.7 118.4,157.7 118.6,157.7 118.9,157.7 119.1,157.7 119.3,157.7 119.5,157.7 119.7,157.5 119.9,156.5 120.1,154.6 120.3,152.1 120.5,149.2 120.7,146.1 120.9,143.0 121.1,140.1 121.4,136.6 121.6,132.6 121.8,128.4 122.0,124.5 122.2,121.2 122.4,118.9 122.6,117.3 122.8,116.1 123.0,116.2 123.2,117.9 123.4,120.1 123.6,122.7 123.9,125.7 124.1,128.5 124.3,130.7 124.5,132.6 124.7,134.5 124.9,136.3 125.1,138.1 125.3,139.9 125.5,141.8 125.7,143.7 125.9,145.3 126.2,146.6 126.4,147.6 126.6,148.5 126.8,149.3 127.0,150.1 127.2,150.8 127.4,151.5 127.6,152.1 127.8,152.6 128.0,153.0 128.2,153.4 128.4,153.7 128.7,154.0 128.9,154.2 129.1,154.5 129.3,154.7 129.5,155.0 129.7,155.2 129.9,155.4 130.1,155.6 130.3,155.8 130.5,155.9 130.7,156.1 130.9,156.2 131.2,156.3 131.4,156.4 131.6,156.5 131.8,156.6 132.0,156.7 132.2,156.7 132.4,156.7 132.6,156.8 132.8,156.8 133.0,156.8 133.2,156.9 133.4,156.9 133.7,157.0 133.9,157.0 134.1,157.0 134.3,157.0 134.5,157.1 134.7,157.1 134.9,157.1 135.1,157.2 135.3,157.2 135.5,157.2 135.7,157.2 135.9,157.2 136.2,157.3 136.4,157.3 136.6,157.3 136.8,157.3 137.0,157.3 137.2,157.3 137.4,157.4 137.6,157.4 137.8,157.4 138.0,157.4 139.1,157.4 140.1,157.4 141.2,157.4 142.2,157.4 143.2,157.5 144.3,157.5 145.3,157.5 146.4,157.5 147.4,157.5 148.5,157.5 149.5,157.5 150.5,157.5 151.6,157.5 152.6,157.5 153.7,157.5 154.7,157.5 155.8,157.5 156.8,157.5 157.8,157.5 158.9,157.5 159.9,157.5 161.0,157.5 162.0,157.5 163.1,157.5 164.1,157.5 165.1,157.5 166.2,157.5 167.2,157.5 168.3,157.5 169.3,157.5 170.4,157.5 170.9,157.5" fill="none" stroke="#ff0000" stroke-width="1.7" stroke-linejoin="round"/>
<polyline points="115.1,157.7 115.3,157.7 115.5,157.7 115.7,157.7 115.9,157.7 116.1,157.7 116.4,157.7 116.6,157.7 116.8,157.7 117.0,157.7 117.2,157.7 117.4,157.7 117.6,157.7 117.8,157.7 118.0,157.7 118.2,157.7 118.4,157.7 118.6,157.7 118.9,157.7 119.1,157.7 119.3,157.7 119.5,157.7 119.7,157.7 119.9,157.7 120.1,157.7 120.3,157.7 120.5,157.7 120.7,157.6 120.9,157.5 121.1,157.4 121.4,157.2 121.6,157.0 121.8,156.7 122.0,156.5 122.2,156.3 122.4,156.0 122.6,155.6 122.8,155.2 123.0,154.8 123.2,154.4 123.4,154.1 123.6,153.7 123.9,153.4 124.1,153.0 124.3,152.7 124.5,152.4 124.7,152.2 124.9,152.0 125.1,151.9 125.3,151.7 125.5,151.6 125.7,151.6 125.9,151.5 126.2,151.5 126.4,151.5 126.6,151.6 126.8,151.6 127.0,151.6 127.2,151.6 127.4,151.7 127.6,151.7 127.8,151.8 128.0,151.8 128.2,151.9 128.4,151.9 128.7,152.0 128.9,152.0 129.1,152.1 129.3,152.1 129.5,152.1 129.7,152.2 129.9,152.2 130.1,152.3 130.3,152.3 130.5,152.4 130.7,152.5 130.9,152.5 131.2,152.6 131.4,152.6 131.6,152.7 131.8,152.8 132.0,152.8 132.2,152.9 132.4,153.0 132.6,153.0 132.8,153.1 133.0,153.2 133.2,153.2 133.4,153.3 133.7,153.4 133.9,153.4 134.1,153.5 134.3,153.6 134.5,153.6 134.7,153.7 134.9,153.8 135.1,153.8 135.3,153.9 135.5,153.9 135.7,154.0 135.9,154.0 136.2,154.1 136.4,154.1 136.6,154.1 136.8,154.2 137.0,154.2 137.2,154.3 137.4,154.3 137.6,154.4 137.8,154.4 138.0,154.4 139.1,154.6 140.1,154.8 141.2,155.0 142.2,155.2 143.2,155.3 144.3,155.5 145.3,155.6 146.4,155.7 147.4,155.8 148.5,155.9 149.5,156.0 150.5,156.1 151.6,156.2 152.6,156.3 153.7,156.3 154.7,156.4 155.8,156.5 156.8,156.5 157.8,156.6 158.9,156.7 159.9,156.7 161.0,156.8 162.0,156.8 163.1,156.9 164.1,156.9 165.1,157.0 166.2,157.0 167.2,157.0 168.3,157.1 169.3,157.1 170.4,157.1 170.9,157.1" fill="none" stroke="#0000ff" stroke-width="1.0" stroke-linejoin="round"/>
<polyline points="115.1,157.7 115.3,157.7 115.5,157.7 115.7,157.7 115.9,157.7 116.1,157.7 116.4,157.7 116.6,157.7 116.8,157.7 117.0,157.7 117.2,157.7 117.4,157.7 117.6,157.7 117.8,157.7 118.0,157.7 118.2,157.7 118.4,157.7 118.6,157.7 118.9,157.7 119.1,157.7 119.3,157.7 119.5,157.7 119.7,157.7 119.9,157.7 120.1,157.7 120.3,157.7 120.5,157.7 120.7,157.7 120.9,157.6 121.1,157.6 121.4,157.5 121.6,157.4 121.8,157.2 122.0,157.1 122.2,156.9 122.4,156.8 122.6,156.6 122.8,156.4 123.0,156.2 123.2,155.9 123.4,155.7 123.6,155.4 123.9,155.2 124.1,154.9 124.3,154.7 124.5,154.5 124.7,154.2 124.9,154.0 125.1,153.8 125.3,153.6 125.5,153.5 125.7,153.4 125.9,153.3 126.2,153.2 126.4,153.2 126.6,153.1 126.8,153.1 127.0,153.1 127.2,153.1 127.4,153.2 127.6,153.2 127.8,153.2 128.0,153.3 128.2,153.3 128.4,153.4 128.7,153.4 128.9,153.5 129.1,153.5 129.3,153.6 129.5,153.6 129.7,153.7 129.9,153.7 130.1,153.7 130.3,153.7 130.5,153.8 130.7,153.8 130.9,153.8 131.2,153.9 131.4,153.9 131.6,153.9 131.8,153.9 132.0,154.0 132.2,154.0 132.4,154.0 132.6,154.0 132.8,154.1 133.0,154.1 133.2,154.1 133.4,154.1 133.7,154.2 133.9,154.2 134.1,154.2 134.3,154.2 134.5,154.2 134.7,154.3 134.9,154.3 135.1,154.3 135.3,154.3 135.5,154.4 135.7,154.4 135.9,154.4 136.2,154.4 136.4,154.5 136.6,154.5 136.8,154.5 137.0,154.5 137.2,154.6 137.4,154.6 137.6,154.6 137.8,154.6 138.0,154.6 139.1,154.8 140.1,154.9 141.2,155.0 142.2,155.1 143.2,155.2 144.3,155.3 145.3,155.4 146.4,155.5 147.4,155.6 148.5,155.7 149.5,155.8 150.5,155.9 151.6,156.0 152.6,156.1 153.7,156.2 154.7,156.3 155.8,156.3 156.8,156.4 157.8,156.5 158.9,156.5 159.9,156.6 161.0,156.6 162.0,156.7 163.1,156.7 164.1,156.8 165.1,156.8 166.2,156.9 167.2,156.9 168.3,156.9 169.3,157.0 170.4,157.0 170.9,157.0" fill="none" stroke="#00ffff" stroke-width="1.0" stroke-linejoin="round"/>
<polyline points="115.1,157.7 115.3,157.7 115.5,157.7 115.7,157.7 115.9,157.7 116.1,157.7 116.4,157.7 116.6,157.7 116.8,157.7 117.0,157.7 117.2,157.7 117.4,157.7 117.6,157.7 117.8,157.7 118.0,157.7 118.2,157.7 118.4,157.7 118.6,157.7 118.9,157.7 119.1,157.7 119.3,157.7 119.5,157.7 119.7,157.7 119.9,157.7 120.1,157.7 120.3,157.7 120.5,157.7 120.7,157.6 120.9,157.5 121.1,157.4 121.4,157.2 121.6,157.0 121.8,156.7 122.0,156.5 122.2,156.3 122.4,156.0 122.6,155.6 122.8,155.3 123.0,154.9 123.2,154.5 123.4,154.1 123.6,153.8 123.9,153.5 124.1,153.1 124.3,152.8 124.5,152.5 124.7,152.2 124.9,152.1 125.1,151.9 125.3,151.8 125.5,151.7 125.7,151.6 125.9,151.6 126.2,151.6 126.4,151.6 126.6,151.6 126.8,151.7 127.0,151.7 127.2,151.7 127.4,151.7 127.6,151.8 127.8,151.8 128.0,151.9 128.2,151.9 128.4,151.9 128.7,152.0 128.9,152.0 129.1,152.1 129.3,152.1 129.5,152.2 129.7,152.2 129.9,152.2 130.1,152.3 130.3,152.3 130.5,152.4 130.7,152.4 130.9,152.5 131.2,152.6 131.4,152.6 131.6,152.7 131.8,152.7 132.0,152.8 132.2,152.9 132.4,153.0 132.6,153.0 132.8,153.1 133.0,153.2 133.2,153.2 133.4,153.3 133.7,153.4 133.9,153.4 134.1,153.5 134.3,153.6 134.5,153.6 134.7,153.7 134.9,153.8 135.1,153.8 135.3,153.9 135.5,153.9 135.7,154.0 135.9,154.0 136.2,154.1 136.4,154.1 136.6,154.1 136.8,154.2 137.0,154.2 137.2,154.3 137.4,154.3 137.6,154.4 137.8,154.4 138.0,154.4 139.1,154.6 140.1,154.8 141.2,155.0 142.2,155.2 143.2,155.3 144.3,155.5 145.3,155.6 146.4,155.7 147.4,155.8 148.5,155.9 149.5,156.0 150.5,156.1 151.6,156.2 152.6,156.3 153.7,156.3 154.7,156.4 155.8,156.5 156.8,156.5 157.8,156.6 158.9,156.7 159.9,156.7 161.0,156.8 162.0,156.8 163.1,156.9 164.1,156.9 165.1,157.0 166.2,157.0 167.2,157.0 168.3,157.1 169.3,157.1 170.4,157.1 170.9,157.1" fill="none" stroke="#00ff00" stroke-width="1.7" stroke-linejoin="round"/>
<polyline points="115.1,157.7 115.3,157.7 115.5,157.7 115.7,157.7 115.9,157.7 116.1,157.7 116.4,157.7 116.6,157.7 116.8,157.7 117.0,157.7 117.2,157.7 117.4,157.7 117.6,157.7 117.8,157.7 118.0,157.7 118.2,157.7 118.4,157.7 118.6,157.7 118.9,157.7 119.1,157.7 119.3,157.7 119.5,157.7 119.7,157.7 119.9,157.6 120.1,156.8 120.3,155.6 120.5,153.9 120.7,151.9 120.9,149.8 121.1,147.7 121.4,145.7 121.6,143.3 121.8,140.6 122.0,137.7 122.2,135.0 122.4,132.8 122.6,131.3 122.8,130.2 123.0,129.4 123.2,129.4 123.4,130.6 123.6,132.1 123.9,133.9 124.1,135.9 124.3,137.8 124.5,139.3 124.7,140.6 124.9,141.9 125.1,143.1 125.3,144.3 125.5,145.6 125.7,146.9 125.9,148.1 126.2,149.3 126.4,150.1 126.6,150.8 126.8,151.4 127.0,152.0 127.2,152.5 127.4,153.0 127.6,153.4 127.8,153.8 128.0,154.1 128.2,154.4 128.4,154.7 128.7,154.9 128.9,155.1 129.1,155.3 129.3,155.4 129.5,155.6 129.7,155.8 129.9,155.9 130.1,156.0 130.3,156.2 130.5,156.3 130.7,156.4 130.9,156.5 131.2,156.6 131.4,156.7 131.6,156.8 131.8,156.8 132.0,156.9 132.2,156.9 132.4,156.9 132.6,157.0 132.8,157.0 133.0,157.0 133.2,157.0 133.4,157.1 133.7,157.1 133.9,157.1 134.1,157.1 134.3,157.1 134.5,157.2 134.7,157.2 134.9,157.2 135.1,157.2 135.3,157.2 135.5,157.3 135.7,157.3 135.9,157.3 136.2,157.3 136.4,157.3 136.6,157.3 136.8,157.3 137.0,157.3 137.2,157.4 137.4,157.4 137.6,157.4 137.8,157.4 138.0,157.4 139.1,157.4 140.1,157.4 141.2,157.4 142.2,157.4 143.2,157.4 144.3,157.5 145.3,157.5 146.4,157.5 147.4,157.5 148.5,157.5 149.5,157.5 150.5,157.5 151.6,157.5 152.6,157.5 153.7,157.5 154.7,157.5 155.8,157.5 156.8,157.5 157.8,157.5 158.9,157.5 159.9,157.5 161.0,157.5 162.0,157.5 163.1,157.5 164.1,157.5 165.1,157.5 166.2,157.5 167.2,157.5 168.3,157.5 169.3,157.5 170.4,157.5 170.9,157.5" fill="none" stroke="#ff00ff" stroke-width="1.7" stroke-linejoin="round" stroke-dasharray="5,4.6"/>
<polyline points="115.1,157.7 115.3,157.7 115.5,157.7 115.7,157.7 115.9,157.7 116.1,157.7 116.4,157.7 116.6,157.7 116.8,157.7 117.0,157.7 117.2,157.7 117.4,157.7 117.6,157.7 117.8,157.7 118.0,157.7 118.2,157.7 118.4,157.7 118.6,157.7 118.9,157.7 119.1,157.7 119.3,157.7 119.5,157.7 119.7,157.7 119.9,157.7 120.1,157.7 120.3,157.7 120.5,157.7 120.7,157.7 120.9,157.6 121.1,157.6 121.4,157.5 121.6,157.4 121.8,157.2 122.0,157.1 122.2,156.9 122.4,156.8 122.6,156.6 122.8,156.4 123.0,156.2 123.2,156.0 123.4,155.7 123.6,155.5 123.9,155.2 124.1,155.0 124.3,154.8 124.5,154.5 124.7,154.3 124.9,154.1 125.1,153.9 125.3,153.7 125.5,153.6 125.7,153.5 125.9,153.4 126.2,153.3 126.4,153.3 126.6,153.2 126.8,153.2 127.0,153.2 127.2,153.2 127.4,153.3 127.6,153.3 127.8,153.3 128.0,153.3 128.2,153.4 128.4,153.4 128.7,153.5 128.9,153.5 129.1,153.6 129.3,153.6 129.5,153.6 129.7,153.7 129.9,153.7 130.1,153.7 130.3,153.7 130.5,153.8 130.7,153.8 130.9,153.8 131.2,153.8 131.4,153.9 131.6,153.9 131.8,153.9 132.0,154.0 132.2,154.0 132.4,154.0 132.6,154.0 132.8,154.1 133.0,154.1 133.2,154.1 133.4,154.1 133.7,154.2 133.9,154.2 134.1,154.2 134.3,154.2 134.5,154.2 134.7,154.3 134.9,154.3 135.1,154.3 135.3,154.3 135.5,154.4 135.7,154.4 135.9,154.4 136.2,154.4 136.4,154.5 136.6,154.5 136.8,154.5 137.0,154.5 137.2,154.6 137.4,154.6 137.6,154.6 137.8,154.6 138.0,154.6 139.1,154.8 140.1,154.9 141.2,155.0 142.2,155.1 143.2,155.2 144.3,155.3 145.3,155.4 146.4,155.5 147.4,155.6 148.5,155.7 149.5,155.8 150.5,155.9 151.6,156.0 152.6,156.1 153.7,156.2 154.7,156.3 155.8,156.3 156.8,156.4 157.8,156.5 158.9,156.5 159.9,156.6 161.0,156.6 162.0,156.7 163.1,156.7 164.1,156.8 165.1,156.8 166.2,156.9 167.2,156.9 168.3,156.9 169.3,157.0 170.4,157.0 170.9,157.0" fill="none" stroke="#000000" stroke-width="1.7" stroke-linejoin="round" stroke-dasharray="5,4.4"/>
<line x1="187.40" y1="135.48" x2="241.92" y2="135.48" stroke="#eeeeee" stroke-width="1"/>
<line x1="187.40" y1="113.30" x2="241.92" y2="113.30" stroke="#eeeeee" stroke-width="1"/>
<line x1="208.25" y1="104.43" x2="208.25" y2="157.65" stroke="#eeeeee" stroke-width="1"/>
<line x1="229.10" y1="104.43" x2="229.10" y2="157.65" stroke="#eeeeee" stroke-width="1"/>
<line x1="187.40" y1="104.43" x2="187.40" y2="157.65" stroke="#b0b0b0" stroke-width="1.4"/>
<line x1="187.40" y1="157.65" x2="242.72" y2="157.65" stroke="#b0b0b0" stroke-width="1.4"/>
<line x1="187.40" y1="135.48" x2="189.00" y2="135.48" stroke="#b0b0b0" stroke-width="0.8"/>
<line x1="187.40" y1="113.30" x2="189.00" y2="113.30" stroke="#b0b0b0" stroke-width="0.8"/>
<line x1="208.25" y1="157.65" x2="208.25" y2="156.05" stroke="#b0b0b0" stroke-width="0.8"/>
<line x1="229.10" y1="157.65" x2="229.10" y2="156.05" stroke="#b0b0b0" stroke-width="0.8"/>
<text x="186.20" y="160.63" font-size="6.6" text-anchor="end" fill="#262626">0</text>
<text x="186.20" y="138.45" font-size="6.6" text-anchor="end" fill="#262626">5</text>
<text x="186.20" y="116.28" font-size="6.6" text-anchor="end" fill="#262626">10</text>
<text x="187.40" y="165.70" font-size="6.6" text-anchor="middle" fill="#262626">0</text>
<text x="208.25" y="165.70" font-size="6.6" text-anchor="middle" fill="#262626">100</text>
<text x="229.10" y="165.70" font-size="6.6" text-anchor="middle" fill="#262626">200</text>
<text x="214.66" y="102.05" font-size="7.4" font-weight="bold" text-anchor="middle" fill="#000">200, 60 %</text>
<polyline points="187.4,157.7 187.6,157.7 187.8,157.7 188.0,157.7 188.2,157.7 188.4,157.7 188.7,157.7 188.9,157.7 189.1,157.7 189.3,157.7 189.5,157.7 189.7,157.7 189.9,157.7 190.1,157.7 190.3,157.7 190.5,157.7 190.7,157.7 190.9,157.7 191.2,157.7 191.4,157.7 191.6,157.7 191.8,157.5 192.0,156.5 192.2,154.7 192.4,152.2 192.6,149.4 192.8,146.4 193.0,143.3 193.2,140.5 193.4,137.0 193.7,133.1 193.9,129.0 194.1,125.2 194.3,121.9 194.5,119.7 194.7,118.1 194.9,117.0 195.1,117.1 195.3,118.8 195.5,120.9 195.7,123.4 195.9,126.4 196.2,129.1 196.4,131.2 196.6,133.2 196.8,135.0 197.0,136.7 197.2,138.5 197.4,140.3 197.6,142.2 197.8,144.0 198.0,145.6 198.2,146.8 198.5,147.8 198.7,148.7 198.9,149.5 199.1,150.3 199.3,151.0 199.5,151.6 199.7,152.2 199.9,152.7 200.1,153.1 200.3,153.5 200.5,153.8 200.7,154.0 201.0,154.3 201.2,154.6 201.4,154.8 201.6,155.0 201.8,155.2 202.0,155.4 202.2,155.6 202.4,155.8 202.6,156.0 202.8,156.1 203.0,156.2 203.2,156.4 203.5,156.5 203.7,156.5 203.9,156.6 204.1,156.7 204.3,156.7 204.5,156.8 204.7,156.8 204.9,156.8 205.1,156.9 205.3,156.9 205.5,156.9 205.7,157.0 206.0,157.0 206.2,157.0 206.4,157.1 206.6,157.1 206.8,157.1 207.0,157.1 207.2,157.2 207.4,157.2 207.6,157.2 207.8,157.2 208.0,157.2 208.2,157.3 208.5,157.3 208.7,157.3 208.9,157.3 209.1,157.3 209.3,157.3 209.5,157.4 209.7,157.4 209.9,157.4 210.1,157.4 210.3,157.4 211.4,157.4 212.4,157.4 213.5,157.4 214.5,157.4 215.5,157.5 216.6,157.5 217.6,157.5 218.7,157.5 219.7,157.5 220.8,157.5 221.8,157.5 222.8,157.5 223.9,157.5 224.9,157.5 226.0,157.5 227.0,157.5 228.1,157.5 229.1,157.5 230.1,157.5 231.2,157.5 232.2,157.5 233.3,157.5 234.3,157.5 235.4,157.5 236.4,157.5 237.4,157.5 238.5,157.5 239.5,157.5 240.6,157.5 241.6,157.5 242.7,157.5 243.2,157.5" fill="none" stroke="#ff0000" stroke-width="1.7" stroke-linejoin="round"/>
<polyline points="187.4,157.7 187.6,157.7 187.8,157.7 188.0,157.7 188.2,157.7 188.4,157.7 188.7,157.7 188.9,157.7 189.1,157.7 189.3,157.7 189.5,157.7 189.7,157.7 189.9,157.7 190.1,157.7 190.3,157.7 190.5,157.7 190.7,157.7 190.9,157.7 191.2,157.7 191.4,157.7 191.6,157.7 191.8,157.7 192.0,157.7 192.2,157.7 192.4,157.7 192.6,157.7 192.8,157.7 193.0,157.7 193.2,157.6 193.4,157.5 193.7,157.3 193.9,157.1 194.1,156.8 194.3,156.5 194.5,156.2 194.7,155.9 194.9,155.5 195.1,155.0 195.3,154.5 195.5,154.0 195.7,153.6 195.9,153.1 196.2,152.7 196.4,152.3 196.6,151.8 196.8,151.4 197.0,151.1 197.2,150.9 197.4,150.7 197.6,150.5 197.8,150.4 198.0,150.3 198.2,150.3 198.5,150.3 198.7,150.3 198.9,150.4 199.1,150.4 199.3,150.5 199.5,150.6 199.7,150.7 199.9,150.8 200.1,150.9 200.3,151.0 200.5,151.1 200.7,151.3 201.0,151.4 201.2,151.5 201.4,151.6 201.6,151.7 201.8,151.8 202.0,151.9 202.2,152.0 202.4,152.0 202.6,152.1 202.8,152.2 203.0,152.3 203.2,152.3 203.5,152.4 203.7,152.5 203.9,152.6 204.1,152.6 204.3,152.7 204.5,152.8 204.7,152.8 204.9,152.9 205.1,153.0 205.3,153.0 205.5,153.1 205.7,153.2 206.0,153.2 206.2,153.3 206.4,153.4 206.6,153.4 206.8,153.5 207.0,153.6 207.2,153.6 207.4,153.7 207.6,153.7 207.8,153.8 208.0,153.8 208.2,153.9 208.5,153.9 208.7,154.0 208.9,154.0 209.1,154.1 209.3,154.1 209.5,154.2 209.7,154.2 209.9,154.3 210.1,154.3 210.3,154.4 211.4,154.6 212.4,154.8 213.5,155.0 214.5,155.2 215.5,155.4 216.6,155.6 217.6,155.7 218.7,155.9 219.7,156.0 220.8,156.1 221.8,156.2 222.8,156.3 223.9,156.4 224.9,156.5 226.0,156.5 227.0,156.6 228.1,156.7 229.1,156.7 230.1,156.8 231.2,156.8 232.2,156.9 233.3,156.9 234.3,157.0 235.4,157.0 236.4,157.1 237.4,157.1 238.5,157.1 239.5,157.2 240.6,157.2 241.6,157.2 242.7,157.3 243.2,157.3" fill="none" stroke="#0000ff" stroke-width="1.0" stroke-linejoin="round"/>
<polyline points="187.4,157.7 187.6,157.7 187.8,157.7 188.0,157.7 188.2,157.7 188.4,157.7 188.7,157.7 188.9,157.7 189.1,157.7 189.3,157.7 189.5,157.7 189.7,157.7 189.9,157.7 190.1,157.7 190.3,157.7 190.5,157.7 190.7,157.7 190.9,157.7 191.2,157.7 191.4,157.7 191.6,157.7 191.8,157.7 192.0,157.7 192.2,157.7 192.4,157.7 192.6,157.7 192.8,157.7 193.0,157.7 193.2,157.6 193.4,157.5 193.7,157.4 193.9,157.2 194.1,156.9 194.3,156.7 194.5,156.4 194.7,156.1 194.9,155.9 195.1,155.5 195.3,155.1 195.5,154.7 195.7,154.2 195.9,153.8 196.2,153.4 196.4,153.0 196.6,152.7 196.8,152.3 197.0,151.9 197.2,151.6 197.4,151.4 197.6,151.2 197.8,151.0 198.0,150.9 198.2,150.8 198.5,150.7 198.7,150.7 198.9,150.7 199.1,150.7 199.3,150.8 199.5,150.8 199.7,150.9 199.9,151.0 200.1,151.1 200.3,151.1 200.5,151.2 200.7,151.3 201.0,151.4 201.2,151.5 201.4,151.6 201.6,151.7 201.8,151.8 202.0,151.9 202.2,152.0 202.4,152.0 202.6,152.1 202.8,152.2 203.0,152.2 203.2,152.3 203.5,152.4 203.7,152.5 203.9,152.5 204.1,152.6 204.3,152.7 204.5,152.7 204.7,152.8 204.9,152.9 205.1,153.0 205.3,153.0 205.5,153.1 205.7,153.2 206.0,153.2 206.2,153.3 206.4,153.4 206.6,153.4 206.8,153.5 207.0,153.5 207.2,153.6 207.4,153.7 207.6,153.7 207.8,153.8 208.0,153.8 208.2,153.9 208.5,153.9 208.7,154.0 208.9,154.0 209.1,154.1 209.3,154.1 209.5,154.2 209.7,154.2 209.9,154.3 210.1,154.3 210.3,154.4 211.4,154.6 212.4,154.8 213.5,155.0 214.5,155.2 215.5,155.4 216.6,155.6 217.6,155.7 218.7,155.9 219.7,156.0 220.8,156.1 221.8,156.2 222.8,156.3 223.9,156.4 224.9,156.5 226.0,156.5 227.0,156.6 228.1,156.7 229.1,156.7 230.1,156.8 231.2,156.8 232.2,156.9 233.3,156.9 234.3,157.0 235.4,157.0 236.4,157.1 237.4,157.1 238.5,157.1 239.5,157.2 240.6,157.2 241.6,157.2 242.7,157.3 243.2,157.3" fill="none" stroke="#00ffff" stroke-width="1.0" stroke-linejoin="round"/>
<polyline points="187.4,157.7 187.6,157.7 187.8,157.7 188.0,157.7 188.2,157.7 188.4,157.7 188.7,157.7 188.9,157.7 189.1,157.7 189.3,157.7 189.5,157.7 189.7,157.7 189.9,157.7 190.1,157.7 190.3,157.7 190.5,157.7 190.7,157.7 190.9,157.7 191.2,157.7 191.4,157.7 191.6,157.7 191.8,157.7 192.0,157.7 192.2,157.7 192.4,157.7 192.6,157.7 192.8,157.7 193.0,157.7 193.2,157.6 193.4,157.5 193.7,157.3 193.9,157.1 194.1,156.8 194.3,156.5 194.5,156.2 194.7,155.9 194.9,155.5 195.1,155.1 195.3,154.6 195.5,154.1 195.7,153.6 195.9,153.2 196.2,152.8 196.4,152.3 196.6,151.9 196.8,151.5 197.0,151.2 197.2,151.0 197.4,150.8 197.6,150.7 197.8,150.5 198.0,150.5 198.2,150.4 198.5,150.4 198.7,150.5 198.9,150.5 199.1,150.6 199.3,150.6 199.5,150.7 199.7,150.8 199.9,150.9 200.1,151.0 200.3,151.1 200.5,151.2 200.7,151.3 201.0,151.4 201.2,151.5 201.4,151.6 201.6,151.7 201.8,151.8 202.0,151.9 202.2,152.0 202.4,152.0 202.6,152.1 202.8,152.2 203.0,152.3 203.2,152.3 203.5,152.4 203.7,152.5 203.9,152.5 204.1,152.6 204.3,152.7 204.5,152.8 204.7,152.8 204.9,152.9 205.1,153.0 205.3,153.0 205.5,153.1 205.7,153.2 206.0,153.2 206.2,153.3 206.4,153.4 206.6,153.4 206.8,153.5 207.0,153.5 207.2,153.6 207.4,153.7 207.6,153.7 207.8,153.8 208.0,153.8 208.2,153.9 208.5,153.9 208.7,154.0 208.9,154.0 209.1,154.1 209.3,154.1 209.5,154.2 209.7,154.2 209.9,154.3 210.1,154.3 210.3,154.4 211.4,154.6 212.4,154.8 213.5,155.0 214.5,155.2 215.5,155.4 216.6,155.6 217.6,155.7 218.7,155.9 219.7,156.0 220.8,156.1 221.8,156.2 222.8,156.3 223.9,156.4 224.9,156.5 226.0,156.5 227.0,156.6 228.1,156.7 229.1,156.7 230.1,156.8 231.2,156.8 232.2,156.9 233.3,156.9 234.3,157.0 235.4,157.0 236.4,157.1 237.4,157.1 238.5,157.1 239.5,157.2 240.6,157.2 241.6,157.2 242.7,157.3 243.2,157.3" fill="none" stroke="#00ff00" stroke-width="1.7" stroke-linejoin="round"/>
<polyline points="187.4,157.7 187.6,157.7 187.8,157.7 188.0,157.7 188.2,157.7 188.4,157.7 188.7,157.7 188.9,157.7 189.1,157.7 189.3,157.7 189.5,157.7 189.7,157.7 189.9,157.7 190.1,157.7 190.3,157.7 190.5,157.7 190.7,157.7 190.9,157.7 191.2,157.7 191.4,157.7 191.6,157.7 191.8,157.7 192.0,157.6 192.2,156.8 192.4,155.6 192.6,153.9 192.8,151.9 193.0,149.8 193.2,147.7 193.4,145.7 193.7,143.3 193.9,140.6 194.1,137.7 194.3,135.0 194.5,132.8 194.7,131.3 194.9,130.2 195.1,129.4 195.3,129.4 195.5,130.6 195.7,132.1 195.9,133.9 196.2,135.9 196.4,137.8 196.6,139.3 196.8,140.6 197.0,141.9 197.2,143.1 197.4,144.3 197.6,145.6 197.8,146.9 198.0,148.1 198.2,149.3 198.5,150.1 198.7,150.8 198.9,151.4 199.1,152.0 199.3,152.5 199.5,153.0 199.7,153.4 199.9,153.8 200.1,154.1 200.3,154.4 200.5,154.7 200.7,154.9 201.0,155.1 201.2,155.3 201.4,155.4 201.6,155.6 201.8,155.8 202.0,155.9 202.2,156.0 202.4,156.2 202.6,156.3 202.8,156.4 203.0,156.5 203.2,156.6 203.5,156.7 203.7,156.8 203.9,156.8 204.1,156.9 204.3,156.9 204.5,156.9 204.7,157.0 204.9,157.0 205.1,157.0 205.3,157.0 205.5,157.1 205.7,157.1 206.0,157.1 206.2,157.1 206.4,157.1 206.6,157.2 206.8,157.2 207.0,157.2 207.2,157.2 207.4,157.2 207.6,157.3 207.8,157.3 208.0,157.3 208.2,157.3 208.5,157.3 208.7,157.3 208.9,157.3 209.1,157.3 209.3,157.4 209.5,157.4 209.7,157.4 209.9,157.4 210.1,157.4 210.3,157.4 211.4,157.4 212.4,157.4 213.5,157.4 214.5,157.4 215.5,157.5 216.6,157.5 217.6,157.5 218.7,157.5 219.7,157.5 220.8,157.5 221.8,157.5 222.8,157.5 223.9,157.5 224.9,157.5 226.0,157.5 227.0,157.5 228.1,157.5 229.1,157.5 230.1,157.5 231.2,157.5 232.2,157.5 233.3,157.5 234.3,157.5 235.4,157.5 236.4,157.5 237.4,157.5 238.5,157.5 239.5,157.5 240.6,157.5 241.6,157.5 242.7,157.5 243.2,157.5" fill="none" stroke="#ff00ff" stroke-width="1.7" stroke-linejoin="round" stroke-dasharray="5,4.6"/>
<polyline points="187.4,157.7 187.6,157.7 187.8,157.7 188.0,157.7 188.2,157.7 188.4,157.7 188.7,157.7 188.9,157.7 189.1,157.7 189.3,157.7 189.5,157.7 189.7,157.7 189.9,157.7 190.1,157.7 190.3,157.7 190.5,157.7 190.7,157.7 190.9,157.7 191.2,157.7 191.4,157.7 191.6,157.7 191.8,157.7 192.0,157.7 192.2,157.7 192.4,157.7 192.6,157.7 192.8,157.7 193.0,157.7 193.2,157.6 193.4,157.5 193.7,157.4 193.9,157.2 194.1,156.9 194.3,156.7 194.5,156.4 194.7,156.2 194.9,155.9 195.1,155.5 195.3,155.1 195.5,154.7 195.7,154.3 195.9,153.8 196.2,153.5 196.4,153.1 196.6,152.7 196.8,152.3 197.0,152.0 197.2,151.7 197.4,151.4 197.6,151.3 197.8,151.1 198.0,151.0 198.2,150.9 198.5,150.8 198.7,150.8 198.9,150.8 199.1,150.8 199.3,150.8 199.5,150.9 199.7,151.0 199.9,151.0 200.1,151.1 200.3,151.2 200.5,151.3 200.7,151.4 201.0,151.5 201.2,151.6 201.4,151.6 201.6,151.7 201.8,151.8 202.0,151.9 202.2,152.0 202.4,152.0 202.6,152.1 202.8,152.2 203.0,152.2 203.2,152.3 203.5,152.4 203.7,152.4 203.9,152.5 204.1,152.6 204.3,152.7 204.5,152.7 204.7,152.8 204.9,152.9 205.1,152.9 205.3,153.0 205.5,153.1 205.7,153.2 206.0,153.2 206.2,153.3 206.4,153.4 206.6,153.4 206.8,153.5 207.0,153.5 207.2,153.6 207.4,153.7 207.6,153.7 207.8,153.8 208.0,153.8 208.2,153.9 208.5,153.9 208.7,154.0 208.9,154.0 209.1,154.1 209.3,154.1 209.5,154.2 209.7,154.2 209.9,154.3 210.1,154.3 210.3,154.4 211.4,154.6 212.4,154.8 213.5,155.0 214.5,155.2 215.5,155.4 216.6,155.6 217.6,155.7 218.7,155.9 219.7,156.0 220.8,156.1 221.8,156.2 222.8,156.3 223.9,156.4 224.9,156.5 226.0,156.5 227.0,156.6 228.1,156.7 229.1,156.7 230.1,156.8 231.2,156.8 232.2,156.9 233.3,156.9 234.3,157.0 235.4,157.0 236.4,157.1 237.4,157.1 238.5,157.1 239.5,157.2 240.6,157.2 241.6,157.2 242.7,157.3 243.2,157.3" fill="none" stroke="#000000" stroke-width="1.7" stroke-linejoin="round" stroke-dasharray="5,4.4"/>
<line x1="259.40" y1="135.48" x2="313.92" y2="135.48" stroke="#eeeeee" stroke-width="1"/>
<line x1="259.40" y1="113.30" x2="313.92" y2="113.30" stroke="#eeeeee" stroke-width="1"/>
<line x1="280.25" y1="104.43" x2="280.25" y2="157.65" stroke="#eeeeee" stroke-width="1"/>
<line x1="301.10" y1="104.43" x2="301.10" y2="157.65" stroke="#eeeeee" stroke-width="1"/>
<line x1="259.40" y1="104.43" x2="259.40" y2="157.65" stroke="#b0b0b0" stroke-width="1.4"/>
<line x1="259.40" y1="157.65" x2="314.72" y2="157.65" stroke="#b0b0b0" stroke-width="1.4"/>
<line x1="259.40" y1="135.48" x2="261.00" y2="135.48" stroke="#b0b0b0" stroke-width="0.8"/>
<line x1="259.40" y1="113.30" x2="261.00" y2="113.30" stroke="#b0b0b0" stroke-width="0.8"/>
<line x1="280.25" y1="157.65" x2="280.25" y2="156.05" stroke="#b0b0b0" stroke-width="0.8"/>
<line x1="301.10" y1="157.65" x2="301.10" y2="156.05" stroke="#b0b0b0" stroke-width="0.8"/>
<text x="258.20" y="160.63" font-size="6.6" text-anchor="end" fill="#262626">0</text>
<text x="258.20" y="138.45" font-size="6.6" text-anchor="end" fill="#262626">5</text>
<text x="258.20" y="116.28" font-size="6.6" text-anchor="end" fill="#262626">10</text>
<text x="259.40" y="165.70" font-size="6.6" text-anchor="middle" fill="#262626">0</text>
<text x="280.25" y="165.70" font-size="6.6" text-anchor="middle" fill="#262626">100</text>
<text x="301.10" y="165.70" font-size="6.6" text-anchor="middle" fill="#262626">200</text>
<text x="286.66" y="102.05" font-size="7.4" font-weight="bold" text-anchor="middle" fill="#000">200, 80 %</text>
<polyline points="259.4,157.7 259.6,157.7 259.8,157.7 260.0,157.7 260.2,157.7 260.4,157.7 260.7,157.7 260.9,157.7 261.1,157.7 261.3,157.7 261.5,157.7 261.7,157.7 261.9,157.7 262.1,157.7 262.3,157.7 262.5,157.7 262.7,157.7 262.9,157.7 263.2,157.7 263.4,157.7 263.6,157.7 263.8,157.7 264.0,157.7 264.2,157.1 264.4,155.8 264.6,153.7 264.8,151.1 265.0,148.3 265.2,145.4 265.4,142.6 265.7,139.7 265.9,136.1 266.1,132.2 266.3,128.4 266.5,124.9 266.7,122.3 266.9,120.6 267.1,119.2 267.3,118.6 267.5,119.5 267.7,121.5 267.9,123.6 268.2,126.3 268.4,129.1 268.6,131.4 268.8,133.3 269.0,135.1 269.2,136.8 269.4,138.5 269.6,140.2 269.8,141.9 270.0,143.7 270.2,145.4 270.5,146.7 270.7,147.8 270.9,148.7 271.1,149.5 271.3,150.2 271.5,150.9 271.7,151.6 271.9,152.2 272.1,152.7 272.3,153.1 272.5,153.5 272.7,153.8 273.0,154.1 273.2,154.3 273.4,154.6 273.6,154.8 273.8,155.0 274.0,155.2 274.2,155.4 274.4,155.6 274.6,155.8 274.8,155.9 275.0,156.1 275.2,156.2 275.5,156.3 275.7,156.5 275.9,156.5 276.1,156.6 276.3,156.7 276.5,156.7 276.7,156.8 276.9,156.8 277.1,156.8 277.3,156.9 277.5,156.9 277.7,156.9 278.0,157.0 278.2,157.0 278.4,157.0 278.6,157.1 278.8,157.1 279.0,157.1 279.2,157.1 279.4,157.2 279.6,157.2 279.8,157.2 280.0,157.2 280.2,157.2 280.5,157.3 280.7,157.3 280.9,157.3 281.1,157.3 281.3,157.3 281.5,157.3 281.7,157.4 281.9,157.4 282.1,157.4 282.3,157.4 283.4,157.4 284.4,157.4 285.5,157.4 286.5,157.4 287.5,157.5 288.6,157.5 289.6,157.5 290.7,157.5 291.7,157.5 292.8,157.5 293.8,157.5 294.8,157.5 295.9,157.5 296.9,157.5 298.0,157.5 299.0,157.5 300.1,157.5 301.1,157.5 302.1,157.5 303.2,157.5 304.2,157.5 305.3,157.5 306.3,157.5 307.4,157.5 308.4,157.5 309.4,157.5 310.5,157.5 311.5,157.5 312.6,157.5 313.6,157.5 314.7,157.5 315.2,157.5" fill="none" stroke="#ff0000" stroke-width="1.7" stroke-linejoin="round"/>
<polyline points="259.4,157.7 259.6,157.7 259.8,157.7 260.0,157.7 260.2,157.7 260.4,157.7 260.7,157.7 260.9,157.7 261.1,157.7 261.3,157.7 261.5,157.7 261.7,157.7 261.9,157.7 262.1,157.7 262.3,157.7 262.5,157.7 262.7,157.7 262.9,157.7 263.2,157.7 263.4,157.7 263.6,157.7 263.8,157.7 264.0,157.7 264.2,157.7 264.4,157.7 264.6,157.7 264.8,157.7 265.0,157.7 265.2,157.6 265.4,157.3 265.7,157.0 265.9,156.6 266.1,156.1 266.3,155.6 266.5,155.2 266.7,154.7 266.9,154.2 267.1,153.7 267.3,153.2 267.5,152.7 267.7,152.2 267.9,151.8 268.2,151.4 268.4,150.9 268.6,150.5 268.8,150.2 269.0,149.8 269.2,149.5 269.4,149.1 269.6,148.8 269.8,148.6 270.0,148.5 270.2,148.5 270.5,148.5 270.7,148.5 270.9,148.6 271.1,148.7 271.3,148.7 271.5,148.8 271.7,148.9 271.9,149.0 272.1,149.1 272.3,149.2 272.5,149.3 272.7,149.4 273.0,149.6 273.2,149.7 273.4,149.8 273.6,149.9 273.8,150.0 274.0,150.1 274.2,150.2 274.4,150.3 274.6,150.4 274.8,150.6 275.0,150.7 275.2,150.8 275.5,150.9 275.7,151.1 275.9,151.2 276.1,151.3 276.3,151.5 276.5,151.6 276.7,151.8 276.9,151.9 277.1,152.0 277.3,152.2 277.5,152.3 277.7,152.4 278.0,152.6 278.2,152.7 278.4,152.8 278.6,153.0 278.8,153.1 279.0,153.2 279.2,153.3 279.4,153.4 279.6,153.5 279.8,153.6 280.0,153.7 280.2,153.7 280.5,153.8 280.7,153.9 280.9,154.0 281.1,154.0 281.3,154.1 281.5,154.2 281.7,154.2 281.9,154.3 282.1,154.4 282.3,154.4 283.4,154.7 284.4,155.0 285.5,155.2 286.5,155.5 287.5,155.7 288.6,155.8 289.6,156.0 290.7,156.1 291.7,156.3 292.8,156.4 293.8,156.5 294.8,156.6 295.9,156.7 296.9,156.7 298.0,156.8 299.0,156.9 300.1,156.9 301.1,157.0 302.1,157.0 303.2,157.1 304.2,157.1 305.3,157.2 306.3,157.2 307.4,157.3 308.4,157.3 309.4,157.3 310.5,157.4 311.5,157.4 312.6,157.4 313.6,157.4 314.7,157.4 315.2,157.4" fill="none" stroke="#0000ff" stroke-width="1.0" stroke-linejoin="round"/>
<polyline points="259.4,157.7 259.6,157.7 259.8,157.7 260.0,157.7 260.2,157.7 260.4,157.7 260.7,157.7 260.9,157.7 261.1,157.7 261.3,157.7 261.5,157.7 261.7,157.7 261.9,157.7 262.1,157.7 262.3,157.7 262.5,157.7 262.7,157.7 262.9,157.7 263.2,157.7 263.4,157.7 263.6,157.7 263.8,157.7 264.0,157.7 264.2,157.7 264.4,157.7 264.6,157.7 264.8,157.7 265.0,157.7 265.2,157.7 265.4,157.6 265.7,157.4 265.9,157.0 266.1,156.6 266.3,156.2 266.5,155.8 266.7,155.4 266.9,155.0 267.1,154.5 267.3,154.0 267.5,153.6 267.7,153.1 267.9,152.6 268.2,152.2 268.4,151.8 268.6,151.5 268.8,151.1 269.0,150.7 269.2,150.4 269.4,150.1 269.6,149.8 269.8,149.5 270.0,149.3 270.2,149.2 270.5,149.2 270.7,149.2 270.9,149.2 271.1,149.2 271.3,149.3 271.5,149.3 271.7,149.4 271.9,149.4 272.1,149.5 272.3,149.5 272.5,149.6 272.7,149.7 273.0,149.8 273.2,149.8 273.4,149.9 273.6,150.0 273.8,150.0 274.0,150.1 274.2,150.2 274.4,150.3 274.6,150.4 274.8,150.5 275.0,150.6 275.2,150.7 275.5,150.8 275.7,150.9 275.9,151.1 276.1,151.2 276.3,151.3 276.5,151.5 276.7,151.6 276.9,151.7 277.1,151.9 277.3,152.0 277.5,152.2 277.7,152.3 278.0,152.5 278.2,152.6 278.4,152.7 278.6,152.8 278.8,153.0 279.0,153.1 279.2,153.2 279.4,153.3 279.6,153.4 279.8,153.5 280.0,153.6 280.2,153.7 280.5,153.7 280.7,153.8 280.9,153.9 281.1,153.9 281.3,154.0 281.5,154.1 281.7,154.1 281.9,154.2 282.1,154.2 282.3,154.3 283.4,154.6 284.4,154.8 285.5,155.1 286.5,155.3 287.5,155.5 288.6,155.7 289.6,155.8 290.7,156.0 291.7,156.1 292.8,156.2 293.8,156.3 294.8,156.4 295.9,156.5 296.9,156.6 298.0,156.7 299.0,156.8 300.1,156.8 301.1,156.9 302.1,156.9 303.2,157.0 304.2,157.1 305.3,157.1 306.3,157.1 307.4,157.2 308.4,157.2 309.4,157.3 310.5,157.3 311.5,157.3 312.6,157.4 313.6,157.4 314.7,157.4 315.2,157.4" fill="none" stroke="#00ffff" stroke-width="1.0" stroke-linejoin="round"/>
<polyline points="259.4,157.7 259.6,157.7 259.8,157.7 260.0,157.7 260.2,157.7 260.4,157.7 260.7,157.7 260.9,157.7 261.1,157.7 261.3,157.7 261.5,157.7 261.7,157.7 261.9,157.7 262.1,157.7 262.3,157.7 262.5,157.7 262.7,157.7 262.9,157.7 263.2,157.7 263.4,157.7 263.6,157.7 263.8,157.7 264.0,157.7 264.2,157.7 264.4,157.7 264.6,157.7 264.8,157.7 265.0,157.7 265.2,157.6 265.4,157.3 265.7,157.0 265.9,156.6 266.1,156.1 266.3,155.7 266.5,155.2 266.7,154.8 266.9,154.3 267.1,153.8 267.3,153.3 267.5,152.8 267.7,152.3 267.9,151.9 268.2,151.5 268.4,151.1 268.6,150.7 268.8,150.3 269.0,150.0 269.2,149.6 269.4,149.3 269.6,149.0 269.8,148.7 270.0,148.6 270.2,148.7 270.5,148.7 270.7,148.7 270.9,148.8 271.1,148.8 271.3,148.9 271.5,148.9 271.7,149.0 271.9,149.1 272.1,149.2 272.3,149.3 272.5,149.4 272.7,149.5 273.0,149.6 273.2,149.7 273.4,149.8 273.6,149.9 273.8,150.0 274.0,150.1 274.2,150.2 274.4,150.3 274.6,150.4 274.8,150.5 275.0,150.7 275.2,150.8 275.5,150.9 275.7,151.0 275.9,151.2 276.1,151.3 276.3,151.4 276.5,151.6 276.7,151.7 276.9,151.9 277.1,152.0 277.3,152.1 277.5,152.3 277.7,152.4 278.0,152.6 278.2,152.7 278.4,152.8 278.6,152.9 278.8,153.1 279.0,153.2 279.2,153.3 279.4,153.4 279.6,153.5 279.8,153.6 280.0,153.7 280.2,153.7 280.5,153.8 280.7,153.9 280.9,154.0 281.1,154.0 281.3,154.1 281.5,154.2 281.7,154.2 281.9,154.3 282.1,154.4 282.3,154.4 283.4,154.7 284.4,155.0 285.5,155.2 286.5,155.5 287.5,155.7 288.6,155.8 289.6,156.0 290.7,156.1 291.7,156.3 292.8,156.4 293.8,156.5 294.8,156.6 295.9,156.7 296.9,156.7 298.0,156.8 299.0,156.9 300.1,156.9 301.1,157.0 302.1,157.0 303.2,157.1 304.2,157.1 305.3,157.2 306.3,157.2 307.4,157.3 308.4,157.3 309.4,157.3 310.5,157.4 311.5,157.4 312.6,157.4 313.6,157.4 314.7,157.4 315.2,157.4" fill="none" stroke="#00ff00" stroke-width="1.7" stroke-linejoin="round"/>
<polyline points="259.4,157.7 259.6,157.7 259.8,157.7 260.0,157.7 260.2,157.7 260.4,157.7 260.7,157.7 260.9,157.7 261.1,157.7 261.3,157.7 261.5,157.7 261.7,157.7 261.9,157.7 262.1,157.7 262.3,157.7 262.5,157.7 262.7,157.7 262.9,157.7 263.2,157.7 263.4,157.7 263.6,157.7 263.8,157.7 264.0,157.7 264.2,157.7 264.4,157.3 264.6,156.3 264.8,154.8 265.0,152.9 265.2,150.9 265.4,148.7 265.7,146.7 265.9,144.6 266.1,142.0 266.3,139.1 266.5,136.3 266.7,133.9 266.9,131.9 267.1,130.7 267.3,129.7 267.5,129.3 267.7,129.9 267.9,131.4 268.2,132.9 268.4,134.9 268.6,136.9 268.8,138.5 269.0,140.0 269.2,141.3 269.4,142.5 269.6,143.7 269.8,144.9 270.0,146.2 270.2,147.5 270.5,148.7 270.7,149.7 270.9,150.5 271.1,151.1 271.3,151.7 271.5,152.2 271.7,152.7 271.9,153.2 272.1,153.6 272.3,154.0 272.5,154.3 272.7,154.6 273.0,154.8 273.2,155.0 273.4,155.2 273.6,155.3 273.8,155.5 274.0,155.7 274.2,155.8 274.4,156.0 274.6,156.1 274.8,156.2 275.0,156.3 275.2,156.5 275.5,156.6 275.7,156.6 275.9,156.7 276.1,156.8 276.3,156.8 276.5,156.9 276.7,156.9 276.9,156.9 277.1,157.0 277.3,157.0 277.5,157.0 277.7,157.0 278.0,157.1 278.2,157.1 278.4,157.1 278.6,157.1 278.8,157.2 279.0,157.2 279.2,157.2 279.4,157.2 279.6,157.2 279.8,157.2 280.0,157.3 280.2,157.3 280.5,157.3 280.7,157.3 280.9,157.3 281.1,157.3 281.3,157.3 281.5,157.4 281.7,157.4 281.9,157.4 282.1,157.4 282.3,157.4 283.4,157.4 284.4,157.4 285.5,157.4 286.5,157.4 287.5,157.4 288.6,157.5 289.6,157.5 290.7,157.5 291.7,157.5 292.8,157.5 293.8,157.5 294.8,157.5 295.9,157.5 296.9,157.5 298.0,157.5 299.0,157.5 300.1,157.5 301.1,157.5 302.1,157.5 303.2,157.5 304.2,157.5 305.3,157.5 306.3,157.5 307.4,157.5 308.4,157.5 309.4,157.5 310.5,157.5 311.5,157.5 312.6,157.5 313.6,157.5 314.7,157.5 315.2,157.5" fill="none" stroke="#ff00ff" stroke-width="1.7" stroke-linejoin="round" stroke-dasharray="5,4.6"/>
<polyline points="259.4,157.7 259.6,157.7 259.8,157.7 260.0,157.7 260.2,157.7 260.4,157.7 260.7,157.7 260.9,157.7 261.1,157.7 261.3,157.7 261.5,157.7 261.7,157.7 261.9,157.7 262.1,157.7 262.3,157.7 262.5,157.7 262.7,157.7 262.9,157.7 263.2,157.7 263.4,157.7 263.6,157.7 263.8,157.7 264.0,157.7 264.2,157.7 264.4,157.7 264.6,157.7 264.8,157.7 265.0,157.7 265.2,157.7 265.4,157.6 265.7,157.4 265.9,157.0 266.1,156.7 266.3,156.2 266.5,155.8 266.7,155.4 266.9,155.0 267.1,154.5 267.3,154.1 267.5,153.6 267.7,153.1 267.9,152.7 268.2,152.3 268.4,151.9 268.6,151.5 268.8,151.2 269.0,150.8 269.2,150.5 269.4,150.2 269.6,149.9 269.8,149.6 270.0,149.4 270.2,149.3 270.5,149.3 270.7,149.3 270.9,149.3 271.1,149.3 271.3,149.4 271.5,149.4 271.7,149.4 271.9,149.5 272.1,149.5 272.3,149.6 272.5,149.7 272.7,149.7 273.0,149.8 273.2,149.8 273.4,149.9 273.6,150.0 273.8,150.0 274.0,150.1 274.2,150.2 274.4,150.3 274.6,150.3 274.8,150.4 275.0,150.6 275.2,150.7 275.5,150.8 275.7,150.9 275.9,151.0 276.1,151.2 276.3,151.3 276.5,151.4 276.7,151.6 276.9,151.7 277.1,151.9 277.3,152.0 277.5,152.2 277.7,152.3 278.0,152.4 278.2,152.6 278.4,152.7 278.6,152.8 278.8,153.0 279.0,153.1 279.2,153.2 279.4,153.3 279.6,153.4 279.8,153.5 280.0,153.6 280.2,153.7 280.5,153.7 280.7,153.8 280.9,153.9 281.1,153.9 281.3,154.0 281.5,154.1 281.7,154.1 281.9,154.2 282.1,154.2 282.3,154.3 283.4,154.6 284.4,154.8 285.5,155.1 286.5,155.3 287.5,155.5 288.6,155.7 289.6,155.8 290.7,156.0 291.7,156.1 292.8,156.2 293.8,156.3 294.8,156.4 295.9,156.5 296.9,156.6 298.0,156.7 299.0,156.8 300.1,156.8 301.1,156.9 302.1,156.9 303.2,157.0 304.2,157.1 305.3,157.1 306.3,157.1 307.4,157.2 308.4,157.2 309.4,157.3 310.5,157.3 311.5,157.3 312.6,157.4 313.6,157.4 314.7,157.4 315.2,157.4" fill="none" stroke="#000000" stroke-width="1.7" stroke-linejoin="round" stroke-dasharray="5,4.4"/>
<line x1="42.80" y1="214.43" x2="97.32" y2="214.43" stroke="#eeeeee" stroke-width="1"/>
<line x1="42.80" y1="192.25" x2="97.32" y2="192.25" stroke="#eeeeee" stroke-width="1"/>
<line x1="63.65" y1="183.38" x2="63.65" y2="236.60" stroke="#eeeeee" stroke-width="1"/>
<line x1="84.50" y1="183.38" x2="84.50" y2="236.60" stroke="#eeeeee" stroke-width="1"/>
<line x1="42.80" y1="183.38" x2="42.80" y2="236.60" stroke="#b0b0b0" stroke-width="1.4"/>
<line x1="42.80" y1="236.60" x2="98.12" y2="236.60" stroke="#b0b0b0" stroke-width="1.4"/>
<line x1="42.80" y1="214.43" x2="44.40" y2="214.43" stroke="#b0b0b0" stroke-width="0.8"/>
<line x1="42.80" y1="192.25" x2="44.40" y2="192.25" stroke="#b0b0b0" stroke-width="0.8"/>
<line x1="63.65" y1="236.60" x2="63.65" y2="235.00" stroke="#b0b0b0" stroke-width="0.8"/>
<line x1="84.50" y1="236.60" x2="84.50" y2="235.00" stroke="#b0b0b0" stroke-width="0.8"/>
<text x="41.60" y="239.58" font-size="6.6" text-anchor="end" fill="#262626">0</text>
<text x="41.60" y="217.40" font-size="6.6" text-anchor="end" fill="#262626">5</text>
<text x="41.60" y="195.23" font-size="6.6" text-anchor="end" fill="#262626">10</text>
<text x="42.80" y="244.65" font-size="6.6" text-anchor="middle" fill="#262626">0</text>
<text x="63.65" y="244.65" font-size="6.6" text-anchor="middle" fill="#262626">100</text>
<text x="84.50" y="244.65" font-size="6.6" text-anchor="middle" fill="#262626">200</text>
<text x="70.06" y="181.00" font-size="7.4" font-weight="bold" text-anchor="middle" fill="#000">250, 20 %</text>
<polyline points="42.8,236.6 43.0,236.6 43.2,236.6 43.4,236.6 43.6,236.6 43.8,236.6 44.1,236.6 44.3,236.6 44.5,236.6 44.7,236.6 44.9,236.6 45.1,236.6 45.3,236.6 45.5,236.6 45.7,236.6 45.9,236.6 46.1,236.6 46.3,236.6 46.6,236.6 46.8,236.6 47.0,236.5 47.2,235.6 47.4,234.1 47.6,232.1 47.8,229.7 48.0,227.2 48.2,224.7 48.4,222.3 48.6,219.5 48.8,216.2 49.1,212.8 49.3,209.6 49.5,206.9 49.7,205.0 49.9,203.7 50.1,202.8 50.3,202.9 50.5,204.3 50.7,206.1 50.9,208.2 51.1,210.6 51.3,212.9 51.6,214.6 51.8,216.2 52.0,217.8 52.2,219.2 52.4,220.7 52.6,222.2 52.8,223.7 53.0,225.2 53.2,226.6 53.4,227.6 53.6,228.4 53.9,229.1 54.1,229.8 54.3,230.5 54.5,231.0 54.7,231.6 54.9,232.0 55.1,232.4 55.3,232.8 55.5,233.1 55.7,233.3 55.9,233.6 56.1,233.8 56.4,234.0 56.6,234.2 56.8,234.4 57.0,234.6 57.2,234.7 57.4,234.9 57.6,235.0 57.8,235.2 58.0,235.3 58.2,235.4 58.4,235.5 58.6,235.6 58.9,235.6 59.1,235.7 59.3,235.7 59.5,235.8 59.7,235.8 59.9,235.8 60.1,235.9 60.3,235.9 60.5,235.9 60.7,236.0 60.9,236.0 61.1,236.0 61.4,236.0 61.6,236.1 61.8,236.1 62.0,236.1 62.2,236.1 62.4,236.2 62.6,236.2 62.8,236.2 63.0,236.2 63.2,236.2 63.4,236.2 63.6,236.3 63.9,236.3 64.1,236.3 64.3,236.3 64.5,236.3 64.7,236.3 64.9,236.3 65.1,236.3 65.3,236.3 65.5,236.4 65.7,236.4 66.8,236.4 67.8,236.4 68.9,236.4 69.9,236.4 70.9,236.4 72.0,236.4 73.0,236.4 74.1,236.4 75.1,236.4 76.2,236.4 77.2,236.4 78.2,236.4 79.3,236.4 80.3,236.4 81.4,236.4 82.4,236.4 83.5,236.5 84.5,236.5 85.5,236.5 86.6,236.5 87.6,236.5 88.7,236.5 89.7,236.5 90.8,236.5 91.8,236.5 92.8,236.5 93.9,236.5 94.9,236.5 96.0,236.5 97.0,236.5 98.1,236.5 98.6,236.5" fill="none" stroke="#ff0000" stroke-width="1.7" stroke-linejoin="round"/>
<polyline points="42.8,236.6 43.0,236.6 43.2,236.6 43.4,236.6 43.6,236.6 43.8,236.6 44.1,236.6 44.3,236.6 44.5,236.6 44.7,236.6 44.9,236.6 45.1,236.6 45.3,236.6 45.5,236.6 45.7,236.6 45.9,236.6 46.1,236.6 46.3,236.6 46.6,236.6 46.8,236.6 47.0,236.6 47.2,236.6 47.4,236.6 47.6,236.6 47.8,236.6 48.0,236.6 48.2,236.5 48.4,236.3 48.6,236.0 48.8,235.8 49.1,235.5 49.3,235.2 49.5,234.9 49.7,234.6 49.9,234.4 50.1,234.1 50.3,233.9 50.5,233.7 50.7,233.5 50.9,233.5 51.1,233.5 51.3,233.5 51.6,233.5 51.8,233.5 52.0,233.5 52.2,233.5 52.4,233.5 52.6,233.5 52.8,233.6 53.0,233.6 53.2,233.6 53.4,233.6 53.6,233.7 53.9,233.7 54.1,233.7 54.3,233.8 54.5,233.8 54.7,233.8 54.9,233.9 55.1,233.9 55.3,233.9 55.5,234.0 55.7,234.0 55.9,234.0 56.1,234.1 56.4,234.1 56.6,234.1 56.8,234.1 57.0,234.2 57.2,234.2 57.4,234.2 57.6,234.2 57.8,234.2 58.0,234.3 58.2,234.3 58.4,234.3 58.6,234.3 58.9,234.3 59.1,234.4 59.3,234.4 59.5,234.4 59.7,234.4 59.9,234.4 60.1,234.5 60.3,234.5 60.5,234.5 60.7,234.5 60.9,234.5 61.1,234.5 61.4,234.6 61.6,234.6 61.8,234.6 62.0,234.6 62.2,234.6 62.4,234.6 62.6,234.7 62.8,234.7 63.0,234.7 63.2,234.7 63.4,234.7 63.6,234.7 63.9,234.8 64.1,234.8 64.3,234.8 64.5,234.8 64.7,234.8 64.9,234.8 65.1,234.8 65.3,234.8 65.5,234.9 65.7,234.9 66.8,234.9 67.8,235.0 68.9,235.1 69.9,235.1 70.9,235.2 72.0,235.2 73.0,235.3 74.1,235.3 75.1,235.4 76.2,235.4 77.2,235.4 78.2,235.5 79.3,235.5 80.3,235.5 81.4,235.6 82.4,235.6 83.5,235.6 84.5,235.7 85.5,235.7 86.6,235.7 87.6,235.7 88.7,235.8 89.7,235.8 90.8,235.8 91.8,235.8 92.8,235.8 93.9,235.9 94.9,235.9 96.0,235.9 97.0,235.9 98.1,235.9 98.6,235.9" fill="none" stroke="#0000ff" stroke-width="1.0" stroke-linejoin="round"/>
<polyline points="42.8,236.6 43.0,236.6 43.2,236.6 43.4,236.6 43.6,236.6 43.8,236.6 44.1,236.6 44.3,236.6 44.5,236.6 44.7,236.6 44.9,236.6 45.1,236.6 45.3,236.6 45.5,236.6 45.7,236.6 45.9,236.6 46.1,236.6 46.3,236.6 46.6,236.6 46.8,236.6 47.0,236.6 47.2,236.6 47.4,236.6 47.6,236.6 47.8,236.6 48.0,236.6 48.2,236.6 48.4,236.5 48.6,236.4 48.8,236.1 49.1,235.9 49.3,235.6 49.5,235.4 49.7,235.1 49.9,234.8 50.1,234.6 50.3,234.4 50.5,234.2 50.7,234.0 50.9,233.8 51.1,233.6 51.3,233.5 51.6,233.5 51.8,233.5 52.0,233.5 52.2,233.6 52.4,233.6 52.6,233.6 52.8,233.6 53.0,233.6 53.2,233.6 53.4,233.6 53.6,233.7 53.9,233.7 54.1,233.7 54.3,233.7 54.5,233.7 54.7,233.8 54.9,233.8 55.1,233.8 55.3,233.8 55.5,233.8 55.7,233.9 55.9,233.9 56.1,233.9 56.4,233.9 56.6,234.0 56.8,234.0 57.0,234.0 57.2,234.0 57.4,234.0 57.6,234.0 57.8,234.1 58.0,234.1 58.2,234.1 58.4,234.1 58.6,234.1 58.9,234.1 59.1,234.2 59.3,234.2 59.5,234.2 59.7,234.2 59.9,234.2 60.1,234.2 60.3,234.3 60.5,234.3 60.7,234.3 60.9,234.3 61.1,234.3 61.4,234.3 61.6,234.4 61.8,234.4 62.0,234.4 62.2,234.4 62.4,234.4 62.6,234.4 62.8,234.5 63.0,234.5 63.2,234.5 63.4,234.5 63.6,234.5 63.9,234.5 64.1,234.5 64.3,234.6 64.5,234.6 64.7,234.6 64.9,234.6 65.1,234.6 65.3,234.6 65.5,234.6 65.7,234.7 66.8,234.7 67.8,234.8 68.9,234.9 69.9,234.9 70.9,235.0 72.0,235.0 73.0,235.1 74.1,235.1 75.1,235.2 76.2,235.2 77.2,235.3 78.2,235.3 79.3,235.3 80.3,235.4 81.4,235.4 82.4,235.4 83.5,235.5 84.5,235.5 85.5,235.5 86.6,235.5 87.6,235.6 88.7,235.6 89.7,235.6 90.8,235.6 91.8,235.6 92.8,235.6 93.9,235.6 94.9,235.7 96.0,235.7 97.0,235.7 98.1,235.7 98.6,235.7" fill="none" stroke="#00ffff" stroke-width="1.0" stroke-linejoin="round"/>
<polyline points="42.8,236.6 43.0,236.6 43.2,236.6 43.4,236.6 43.6,236.6 43.8,236.6 44.1,236.6 44.3,236.6 44.5,236.6 44.7,236.6 44.9,236.6 45.1,236.6 45.3,236.6 45.5,236.6 45.7,236.6 45.9,236.6 46.1,236.6 46.3,236.6 46.6,236.6 46.8,236.6 47.0,236.6 47.2,236.6 47.4,236.6 47.6,236.6 47.8,236.6 48.0,236.6 48.2,236.5 48.4,236.3 48.6,236.1 48.8,235.8 49.1,235.5 49.3,235.2 49.5,235.0 49.7,234.7 49.9,234.4 50.1,234.2 50.3,234.0 50.5,233.8 50.7,233.6 50.9,233.5 51.1,233.5 51.3,233.5 51.6,233.6 51.8,233.6 52.0,233.6 52.2,233.6 52.4,233.6 52.6,233.6 52.8,233.6 53.0,233.7 53.2,233.7 53.4,233.7 53.6,233.7 53.9,233.8 54.1,233.8 54.3,233.8 54.5,233.8 54.7,233.9 54.9,233.9 55.1,233.9 55.3,234.0 55.5,234.0 55.7,234.0 55.9,234.0 56.1,234.1 56.4,234.1 56.6,234.1 56.8,234.1 57.0,234.2 57.2,234.2 57.4,234.2 57.6,234.2 57.8,234.2 58.0,234.3 58.2,234.3 58.4,234.3 58.6,234.3 58.9,234.3 59.1,234.4 59.3,234.4 59.5,234.4 59.7,234.4 59.9,234.4 60.1,234.5 60.3,234.5 60.5,234.5 60.7,234.5 60.9,234.5 61.1,234.5 61.4,234.6 61.6,234.6 61.8,234.6 62.0,234.6 62.2,234.6 62.4,234.6 62.6,234.7 62.8,234.7 63.0,234.7 63.2,234.7 63.4,234.7 63.6,234.7 63.9,234.8 64.1,234.8 64.3,234.8 64.5,234.8 64.7,234.8 64.9,234.8 65.1,234.8 65.3,234.8 65.5,234.9 65.7,234.9 66.8,234.9 67.8,235.0 68.9,235.1 69.9,235.1 70.9,235.2 72.0,235.2 73.0,235.3 74.1,235.3 75.1,235.4 76.2,235.4 77.2,235.4 78.2,235.5 79.3,235.5 80.3,235.5 81.4,235.6 82.4,235.6 83.5,235.6 84.5,235.7 85.5,235.7 86.6,235.7 87.6,235.7 88.7,235.8 89.7,235.8 90.8,235.8 91.8,235.8 92.8,235.8 93.9,235.9 94.9,235.9 96.0,235.9 97.0,235.9 98.1,235.9 98.6,235.9" fill="none" stroke="#00ff00" stroke-width="1.7" stroke-linejoin="round"/>
<polyline points="42.8,236.6 43.0,236.6 43.2,236.6 43.4,236.6 43.6,236.6 43.8,236.6 44.1,236.6 44.3,236.6 44.5,236.6 44.7,236.6 44.9,236.6 45.1,236.6 45.3,236.6 45.5,236.6 45.7,236.6 45.9,236.6 46.1,236.6 46.3,236.6 46.6,236.6 46.8,236.6 47.0,236.6 47.2,236.5 47.4,235.8 47.6,234.7 47.8,233.1 48.0,231.2 48.2,229.2 48.4,227.3 48.6,225.4 48.8,223.2 49.1,220.6 49.3,217.9 49.5,215.4 49.7,213.3 49.9,211.9 50.1,210.8 50.3,210.1 50.5,210.2 50.7,211.2 50.9,212.7 51.1,214.3 51.3,216.2 51.6,218.0 51.8,219.4 52.0,220.6 52.2,221.8 52.4,223.0 52.6,224.1 52.8,225.3 53.0,226.5 53.2,227.7 53.4,228.7 53.6,229.6 53.9,230.2 54.1,230.7 54.3,231.3 54.5,231.8 54.7,232.2 54.9,232.6 55.1,233.0 55.3,233.3 55.5,233.6 55.7,233.8 55.9,234.0 56.1,234.2 56.4,234.3 56.6,234.5 56.8,234.7 57.0,234.8 57.2,234.9 57.4,235.1 57.6,235.2 57.8,235.3 58.0,235.4 58.2,235.5 58.4,235.6 58.6,235.7 58.9,235.7 59.1,235.8 59.3,235.8 59.5,235.9 59.7,235.9 59.9,235.9 60.1,236.0 60.3,236.0 60.5,236.0 60.7,236.0 60.9,236.1 61.1,236.1 61.4,236.1 61.6,236.1 61.8,236.1 62.0,236.1 62.2,236.2 62.4,236.2 62.6,236.2 62.8,236.2 63.0,236.2 63.2,236.2 63.4,236.3 63.6,236.3 63.9,236.3 64.1,236.3 64.3,236.3 64.5,236.3 64.7,236.3 64.9,236.3 65.1,236.3 65.3,236.3 65.5,236.4 65.7,236.4 66.8,236.4 67.8,236.4 68.9,236.4 69.9,236.4 70.9,236.4 72.0,236.4 73.0,236.4 74.1,236.4 75.1,236.4 76.2,236.4 77.2,236.4 78.2,236.4 79.3,236.4 80.3,236.4 81.4,236.4 82.4,236.4 83.5,236.4 84.5,236.5 85.5,236.5 86.6,236.5 87.6,236.5 88.7,236.5 89.7,236.5 90.8,236.5 91.8,236.5 92.8,236.5 93.9,236.5 94.9,236.5 96.0,236.5 97.0,236.5 98.1,236.5 98.6,236.5" fill="none" stroke="#ff00ff" stroke-width="1.7" stroke-linejoin="round" stroke-dasharray="5,4.6"/>
<polyline points="42.8,236.6 43.0,236.6 43.2,236.6 43.4,236.6 43.6,236.6 43.8,236.6 44.1,236.6 44.3,236.6 44.5,236.6 44.7,236.6 44.9,236.6 45.1,236.6 45.3,236.6 45.5,236.6 45.7,236.6 45.9,236.6 46.1,236.6 46.3,236.6 46.6,236.6 46.8,236.6 47.0,236.6 47.2,236.6 47.4,236.6 47.6,236.6 47.8,236.6 48.0,236.6 48.2,236.6 48.4,236.5 48.6,236.4 48.8,236.1 49.1,235.9 49.3,235.7 49.5,235.4 49.7,235.1 49.9,234.9 50.1,234.6 50.3,234.4 50.5,234.2 50.7,234.0 50.9,233.9 51.1,233.7 51.3,233.6 51.6,233.6 51.8,233.6 52.0,233.6 52.2,233.6 52.4,233.6 52.6,233.7 52.8,233.7 53.0,233.7 53.2,233.7 53.4,233.7 53.6,233.7 53.9,233.7 54.1,233.7 54.3,233.8 54.5,233.8 54.7,233.8 54.9,233.8 55.1,233.8 55.3,233.9 55.5,233.9 55.7,233.9 55.9,233.9 56.1,233.9 56.4,233.9 56.6,234.0 56.8,234.0 57.0,234.0 57.2,234.0 57.4,234.0 57.6,234.0 57.8,234.1 58.0,234.1 58.2,234.1 58.4,234.1 58.6,234.1 58.9,234.1 59.1,234.2 59.3,234.2 59.5,234.2 59.7,234.2 59.9,234.2 60.1,234.2 60.3,234.3 60.5,234.3 60.7,234.3 60.9,234.3 61.1,234.3 61.4,234.3 61.6,234.4 61.8,234.4 62.0,234.4 62.2,234.4 62.4,234.4 62.6,234.4 62.8,234.5 63.0,234.5 63.2,234.5 63.4,234.5 63.6,234.5 63.9,234.5 64.1,234.5 64.3,234.6 64.5,234.6 64.7,234.6 64.9,234.6 65.1,234.6 65.3,234.6 65.5,234.6 65.7,234.7 66.8,234.7 67.8,234.8 68.9,234.9 69.9,234.9 70.9,235.0 72.0,235.0 73.0,235.1 74.1,235.1 75.1,235.2 76.2,235.2 77.2,235.3 78.2,235.3 79.3,235.3 80.3,235.4 81.4,235.4 82.4,235.4 83.5,235.5 84.5,235.5 85.5,235.5 86.6,235.5 87.6,235.6 88.7,235.6 89.7,235.6 90.8,235.6 91.8,235.6 92.8,235.6 93.9,235.6 94.9,235.7 96.0,235.7 97.0,235.7 98.1,235.7 98.6,235.7" fill="none" stroke="#000000" stroke-width="1.7" stroke-linejoin="round" stroke-dasharray="5,4.4"/>
<line x1="115.10" y1="214.43" x2="169.62" y2="214.43" stroke="#eeeeee" stroke-width="1"/>
<line x1="115.10" y1="192.25" x2="169.62" y2="192.25" stroke="#eeeeee" stroke-width="1"/>
<line x1="135.95" y1="183.38" x2="135.95" y2="236.60" stroke="#eeeeee" stroke-width="1"/>
<line x1="156.80" y1="183.38" x2="156.80" y2="236.60" stroke="#eeeeee" stroke-width="1"/>
<line x1="115.10" y1="183.38" x2="115.10" y2="236.60" stroke="#b0b0b0" stroke-width="1.4"/>
<line x1="115.10" y1="236.60" x2="170.42" y2="236.60" stroke="#b0b0b0" stroke-width="1.4"/>
<line x1="115.10" y1="214.43" x2="116.70" y2="214.43" stroke="#b0b0b0" stroke-width="0.8"/>
<line x1="115.10" y1="192.25" x2="116.70" y2="192.25" stroke="#b0b0b0" stroke-width="0.8"/>
<line x1="135.95" y1="236.60" x2="135.95" y2="235.00" stroke="#b0b0b0" stroke-width="0.8"/>
<line x1="156.80" y1="236.60" x2="156.80" y2="235.00" stroke="#b0b0b0" stroke-width="0.8"/>
<text x="113.90" y="239.58" font-size="6.6" text-anchor="end" fill="#262626">0</text>
<text x="113.90" y="217.40" font-size="6.6" text-anchor="end" fill="#262626">5</text>
<text x="113.90" y="195.23" font-size="6.6" text-anchor="end" fill="#262626">10</text>
<text x="115.10" y="244.65" font-size="6.6" text-anchor="middle" fill="#262626">0</text>
<text x="135.95" y="244.65" font-size="6.6" text-anchor="middle" fill="#262626">100</text>
<text x="156.80" y="244.65" font-size="6.6" text-anchor="middle" fill="#262626">200</text>
<text x="142.36" y="181.00" font-size="7.4" font-weight="bold" text-anchor="middle" fill="#000">250, 40 %</text>
<polyline points="115.1,236.6 115.3,236.6 115.5,236.6 115.7,236.6 115.9,236.6 116.1,236.6 116.4,236.6 116.6,236.6 116.8,236.6 117.0,236.6 117.2,236.6 117.4,236.6 117.6,236.6 117.8,236.6 118.0,236.6 118.2,236.6 118.4,236.6 118.6,236.6 118.9,236.6 119.1,236.6 119.3,236.5 119.5,235.7 119.7,234.2 119.9,232.2 120.1,229.8 120.3,227.3 120.5,224.8 120.7,222.5 120.9,219.7 121.1,216.4 121.4,213.1 121.6,209.9 121.8,207.3 122.0,205.5 122.2,204.2 122.4,203.3 122.6,203.3 122.8,204.7 123.0,206.5 123.2,208.5 123.4,211.0 123.6,213.2 123.9,214.9 124.1,216.5 124.3,218.0 124.5,219.4 124.7,220.9 124.9,222.4 125.1,223.9 125.3,225.4 125.5,226.7 125.7,227.7 125.9,228.5 126.2,229.2 126.4,229.9 126.6,230.5 126.8,231.1 127.0,231.6 127.2,232.1 127.4,232.5 127.6,232.8 127.8,233.1 128.0,233.4 128.2,233.6 128.4,233.8 128.7,234.0 128.9,234.2 129.1,234.4 129.3,234.6 129.5,234.7 129.7,234.9 129.9,235.0 130.1,235.2 130.3,235.3 130.5,235.4 130.7,235.5 130.9,235.6 131.2,235.7 131.4,235.7 131.6,235.8 131.8,235.8 132.0,235.8 132.2,235.9 132.4,235.9 132.6,235.9 132.8,235.9 133.0,236.0 133.2,236.0 133.4,236.0 133.7,236.0 133.9,236.1 134.1,236.1 134.3,236.1 134.5,236.1 134.7,236.2 134.9,236.2 135.1,236.2 135.3,236.2 135.5,236.2 135.7,236.2 135.9,236.3 136.2,236.3 136.4,236.3 136.6,236.3 136.8,236.3 137.0,236.3 137.2,236.3 137.4,236.3 137.6,236.3 137.8,236.4 138.0,236.4 139.1,236.4 140.1,236.4 141.2,236.4 142.2,236.4 143.2,236.4 144.3,236.4 145.3,236.4 146.4,236.4 147.4,236.4 148.5,236.4 149.5,236.4 150.5,236.4 151.6,236.4 152.6,236.4 153.7,236.4 154.7,236.4 155.8,236.5 156.8,236.5 157.8,236.5 158.9,236.5 159.9,236.5 161.0,236.5 162.0,236.5 163.1,236.5 164.1,236.5 165.1,236.5 166.2,236.5 167.2,236.5 168.3,236.5 169.3,236.5 170.4,236.5 170.9,236.5" fill="none" stroke="#ff0000" stroke-width="1.7" stroke-linejoin="round"/>
<polyline points="115.1,236.6 115.3,236.6 115.5,236.6 115.7,236.6 115.9,236.6 116.1,236.6 116.4,236.6 116.6,236.6 116.8,236.6 117.0,236.6 117.2,236.6 117.4,236.6 117.6,236.6 117.8,236.6 118.0,236.6 118.2,236.6 118.4,236.6 118.6,236.6 118.9,236.6 119.1,236.6 119.3,236.6 119.5,236.6 119.7,236.6 119.9,236.6 120.1,236.6 120.3,236.6 120.5,236.5 120.7,236.3 120.9,236.0 121.1,235.7 121.4,235.3 121.6,235.0 121.8,234.7 122.0,234.3 122.2,233.9 122.4,233.6 122.6,233.3 122.8,232.9 123.0,232.6 123.2,232.4 123.4,232.1 123.6,231.9 123.9,231.6 124.1,231.4 124.3,231.3 124.5,231.3 124.7,231.3 124.9,231.4 125.1,231.4 125.3,231.4 125.5,231.4 125.7,231.5 125.9,231.5 126.2,231.5 126.4,231.6 126.6,231.6 126.8,231.7 127.0,231.7 127.2,231.8 127.4,231.9 127.6,231.9 127.8,232.0 128.0,232.0 128.2,232.1 128.4,232.2 128.7,232.2 128.9,232.3 129.1,232.3 129.3,232.4 129.5,232.4 129.7,232.5 129.9,232.5 130.1,232.6 130.3,232.6 130.5,232.7 130.7,232.7 130.9,232.8 131.2,232.8 131.4,232.9 131.6,232.9 131.8,233.0 132.0,233.0 132.2,233.1 132.4,233.1 132.6,233.2 132.8,233.3 133.0,233.3 133.2,233.4 133.4,233.4 133.7,233.5 133.9,233.5 134.1,233.6 134.3,233.6 134.5,233.7 134.7,233.7 134.9,233.7 135.1,233.8 135.3,233.8 135.5,233.9 135.7,233.9 135.9,233.9 136.2,234.0 136.4,234.0 136.6,234.0 136.8,234.1 137.0,234.1 137.2,234.1 137.4,234.2 137.6,234.2 137.8,234.2 138.0,234.3 139.1,234.4 140.1,234.5 141.2,234.7 142.2,234.8 143.2,234.9 144.3,235.0 145.3,235.1 146.4,235.2 147.4,235.3 148.5,235.3 149.5,235.4 150.5,235.5 151.6,235.5 152.6,235.6 153.7,235.6 154.7,235.7 155.8,235.7 156.8,235.8 157.8,235.8 158.9,235.9 159.9,235.9 161.0,236.0 162.0,236.0 163.1,236.1 164.1,236.1 165.1,236.1 166.2,236.2 167.2,236.2 168.3,236.2 169.3,236.3 170.4,236.3 170.9,236.3" fill="none" stroke="#0000ff" stroke-width="1.0" stroke-linejoin="round"/>
<polyline points="115.1,236.6 115.3,236.6 115.5,236.6 115.7,236.6 115.9,236.6 116.1,236.6 116.4,236.6 116.6,236.6 116.8,236.6 117.0,236.6 117.2,236.6 117.4,236.6 117.6,236.6 117.8,236.6 118.0,236.6 118.2,236.6 118.4,236.6 118.6,236.6 118.9,236.6 119.1,236.6 119.3,236.6 119.5,236.6 119.7,236.6 119.9,236.6 120.1,236.6 120.3,236.6 120.5,236.6 120.7,236.6 120.9,236.4 121.1,236.2 121.4,236.0 121.6,235.7 121.8,235.5 122.0,235.2 122.2,235.0 122.4,234.7 122.6,234.4 122.8,234.2 123.0,233.9 123.2,233.7 123.4,233.4 123.6,233.2 123.9,233.0 124.1,232.8 124.3,232.6 124.5,232.4 124.7,232.3 124.9,232.1 125.1,232.1 125.3,232.1 125.5,232.1 125.7,232.1 125.9,232.1 126.2,232.1 126.4,232.1 126.6,232.2 126.8,232.2 127.0,232.2 127.2,232.2 127.4,232.3 127.6,232.3 127.8,232.3 128.0,232.4 128.2,232.4 128.4,232.4 128.7,232.4 128.9,232.5 129.1,232.5 129.3,232.5 129.5,232.6 129.7,232.6 129.9,232.6 130.1,232.7 130.3,232.7 130.5,232.7 130.7,232.8 130.9,232.8 131.2,232.9 131.4,232.9 131.6,233.0 131.8,233.0 132.0,233.0 132.2,233.1 132.4,233.1 132.6,233.2 132.8,233.2 133.0,233.3 133.2,233.3 133.4,233.4 133.7,233.4 133.9,233.5 134.1,233.5 134.3,233.5 134.5,233.6 134.7,233.6 134.9,233.7 135.1,233.7 135.3,233.7 135.5,233.8 135.7,233.8 135.9,233.9 136.2,233.9 136.4,233.9 136.6,233.9 136.8,234.0 137.0,234.0 137.2,234.0 137.4,234.1 137.6,234.1 137.8,234.1 138.0,234.1 139.1,234.3 140.1,234.4 141.2,234.5 142.2,234.6 143.2,234.7 144.3,234.8 145.3,234.9 146.4,235.0 147.4,235.1 148.5,235.2 149.5,235.2 150.5,235.3 151.6,235.4 152.6,235.4 153.7,235.5 154.7,235.6 155.8,235.6 156.8,235.7 157.8,235.7 158.9,235.8 159.9,235.8 161.0,235.9 162.0,235.9 163.1,235.9 164.1,236.0 165.1,236.0 166.2,236.1 167.2,236.1 168.3,236.1 169.3,236.1 170.4,236.2 170.9,236.2" fill="none" stroke="#00ffff" stroke-width="1.0" stroke-linejoin="round"/>
<polyline points="115.1,236.6 115.3,236.6 115.5,236.6 115.7,236.6 115.9,236.6 116.1,236.6 116.4,236.6 116.6,236.6 116.8,236.6 117.0,236.6 117.2,236.6 117.4,236.6 117.6,236.6 117.8,236.6 118.0,236.6 118.2,236.6 118.4,236.6 118.6,236.6 118.9,236.6 119.1,236.6 119.3,236.6 119.5,236.6 119.7,236.6 119.9,236.6 120.1,236.6 120.3,236.6 120.5,236.5 120.7,236.3 120.9,236.0 121.1,235.7 121.4,235.4 121.6,235.1 121.8,234.7 122.0,234.4 122.2,234.0 122.4,233.6 122.6,233.3 122.8,233.0 123.0,232.7 123.2,232.4 123.4,232.2 123.6,231.9 123.9,231.7 124.1,231.5 124.3,231.4 124.5,231.4 124.7,231.4 124.9,231.4 125.1,231.5 125.3,231.5 125.5,231.5 125.7,231.5 125.9,231.6 126.2,231.6 126.4,231.7 126.6,231.7 126.8,231.7 127.0,231.8 127.2,231.8 127.4,231.9 127.6,232.0 127.8,232.0 128.0,232.1 128.2,232.1 128.4,232.2 128.7,232.2 128.9,232.3 129.1,232.3 129.3,232.4 129.5,232.4 129.7,232.5 129.9,232.5 130.1,232.6 130.3,232.6 130.5,232.7 130.7,232.7 130.9,232.8 131.2,232.8 131.4,232.9 131.6,232.9 131.8,233.0 132.0,233.0 132.2,233.1 132.4,233.1 132.6,233.2 132.8,233.2 133.0,233.3 133.2,233.4 133.4,233.4 133.7,233.5 133.9,233.5 134.1,233.6 134.3,233.6 134.5,233.7 134.7,233.7 134.9,233.7 135.1,233.8 135.3,233.8 135.5,233.9 135.7,233.9 135.9,233.9 136.2,234.0 136.4,234.0 136.6,234.0 136.8,234.1 137.0,234.1 137.2,234.1 137.4,234.2 137.6,234.2 137.8,234.2 138.0,234.3 139.1,234.4 140.1,234.5 141.2,234.7 142.2,234.8 143.2,234.9 144.3,235.0 145.3,235.1 146.4,235.2 147.4,235.3 148.5,235.3 149.5,235.4 150.5,235.5 151.6,235.5 152.6,235.6 153.7,235.6 154.7,235.7 155.8,235.7 156.8,235.8 157.8,235.8 158.9,235.9 159.9,235.9 161.0,236.0 162.0,236.0 163.1,236.1 164.1,236.1 165.1,236.1 166.2,236.2 167.2,236.2 168.3,236.2 169.3,236.3 170.4,236.3 170.9,236.3" fill="none" stroke="#00ff00" stroke-width="1.7" stroke-linejoin="round"/>
<polyline points="115.1,236.6 115.3,236.6 115.5,236.6 115.7,236.6 115.9,236.6 116.1,236.6 116.4,236.6 116.6,236.6 116.8,236.6 117.0,236.6 117.2,236.6 117.4,236.6 117.6,236.6 117.8,236.6 118.0,236.6 118.2,236.6 118.4,236.6 118.6,236.6 118.9,236.6 119.1,236.6 119.3,236.6 119.5,236.5 119.7,235.9 119.9,234.8 120.1,233.4 120.3,231.7 120.5,230.0 120.7,228.2 120.9,226.5 121.1,224.5 121.4,222.2 121.6,219.8 121.8,217.5 122.0,215.6 122.2,214.3 122.4,213.4 122.6,212.8 122.8,212.8 123.0,213.8 123.2,215.0 123.4,216.5 123.6,218.3 123.9,219.8 124.1,221.1 124.3,222.2 124.5,223.3 124.7,224.3 124.9,225.3 125.1,226.4 125.3,227.5 125.5,228.6 125.7,229.5 125.9,230.3 126.2,230.8 126.4,231.3 126.6,231.8 126.8,232.2 127.0,232.6 127.2,233.0 127.4,233.3 127.6,233.6 127.8,233.9 128.0,234.1 128.2,234.2 128.4,234.4 128.7,234.5 128.9,234.7 129.1,234.8 129.3,235.0 129.5,235.1 129.7,235.2 129.9,235.3 130.1,235.4 130.3,235.5 130.5,235.6 130.7,235.7 130.9,235.7 131.2,235.8 131.4,235.9 131.6,235.9 131.8,235.9 132.0,236.0 132.2,236.0 132.4,236.0 132.6,236.0 132.8,236.0 133.0,236.1 133.2,236.1 133.4,236.1 133.7,236.1 133.9,236.1 134.1,236.2 134.3,236.2 134.5,236.2 134.7,236.2 134.9,236.2 135.1,236.2 135.3,236.2 135.5,236.3 135.7,236.3 135.9,236.3 136.2,236.3 136.4,236.3 136.6,236.3 136.8,236.3 137.0,236.3 137.2,236.3 137.4,236.3 137.6,236.3 137.8,236.4 138.0,236.4 139.1,236.4 140.1,236.4 141.2,236.4 142.2,236.4 143.2,236.4 144.3,236.4 145.3,236.4 146.4,236.4 147.4,236.4 148.5,236.4 149.5,236.4 150.5,236.4 151.6,236.4 152.6,236.4 153.7,236.4 154.7,236.4 155.8,236.4 156.8,236.5 157.8,236.5 158.9,236.5 159.9,236.5 161.0,236.5 162.0,236.5 163.1,236.5 164.1,236.5 165.1,236.5 166.2,236.5 167.2,236.5 168.3,236.5 169.3,236.5 170.4,236.5 170.9,236.5" fill="none" stroke="#ff00ff" stroke-width="1.7" stroke-linejoin="round" stroke-dasharray="5,4.6"/>
<polyline points="115.1,236.6 115.3,236.6 115.5,236.6 115.7,236.6 115.9,236.6 116.1,236.6 116.4,236.6 116.6,236.6 116.8,236.6 117.0,236.6 117.2,236.6 117.4,236.6 117.6,236.6 117.8,236.6 118.0,236.6 118.2,236.6 118.4,236.6 118.6,236.6 118.9,236.6 119.1,236.6 119.3,236.6 119.5,236.6 119.7,236.6 119.9,236.6 120.1,236.6 120.3,236.6 120.5,236.6 120.7,236.6 120.9,236.4 121.1,236.2 121.4,236.0 121.6,235.7 121.8,235.5 122.0,235.3 122.2,235.0 122.4,234.8 122.6,234.5 122.8,234.2 123.0,234.0 123.2,233.7 123.4,233.5 123.6,233.3 123.9,233.1 124.1,232.9 124.3,232.7 124.5,232.5 124.7,232.4 124.9,232.2 125.1,232.2 125.3,232.2 125.5,232.2 125.7,232.2 125.9,232.2 126.2,232.2 126.4,232.2 126.6,232.2 126.8,232.2 127.0,232.3 127.2,232.3 127.4,232.3 127.6,232.3 127.8,232.4 128.0,232.4 128.2,232.4 128.4,232.4 128.7,232.5 128.9,232.5 129.1,232.5 129.3,232.6 129.5,232.6 129.7,232.6 129.9,232.6 130.1,232.7 130.3,232.7 130.5,232.7 130.7,232.8 130.9,232.8 131.2,232.9 131.4,232.9 131.6,232.9 131.8,233.0 132.0,233.0 132.2,233.1 132.4,233.1 132.6,233.2 132.8,233.2 133.0,233.3 133.2,233.3 133.4,233.4 133.7,233.4 133.9,233.5 134.1,233.5 134.3,233.5 134.5,233.6 134.7,233.6 134.9,233.7 135.1,233.7 135.3,233.7 135.5,233.8 135.7,233.8 135.9,233.9 136.2,233.9 136.4,233.9 136.6,233.9 136.8,234.0 137.0,234.0 137.2,234.0 137.4,234.1 137.6,234.1 137.8,234.1 138.0,234.1 139.1,234.3 140.1,234.4 141.2,234.5 142.2,234.6 143.2,234.7 144.3,234.8 145.3,234.9 146.4,235.0 147.4,235.1 148.5,235.2 149.5,235.2 150.5,235.3 151.6,235.4 152.6,235.4 153.7,235.5 154.7,235.6 155.8,235.6 156.8,235.7 157.8,235.7 158.9,235.8 159.9,235.8 161.0,235.9 162.0,235.9 163.1,235.9 164.1,236.0 165.1,236.0 166.2,236.1 167.2,236.1 168.3,236.1 169.3,236.1 170.4,236.2 170.9,236.2" fill="none" stroke="#000000" stroke-width="1.7" stroke-linejoin="round" stroke-dasharray="5,4.4"/>
<line x1="187.40" y1="214.43" x2="241.92" y2="214.43" stroke="#eeeeee" stroke-width="1"/>
<line x1="187.40" y1="192.25" x2="241.92" y2="192.25" stroke="#eeeeee" stroke-width="1"/>
<line x1="208.25" y1="183.38" x2="208.25" y2="236.60" stroke="#eeeeee" stroke-width="1"/>
<line x1="229.10" y1="183.38" x2="229.10" y2="236.60" stroke="#eeeeee" stroke-width="1"/>
<line x1="187.40" y1="183.38" x2="187.40" y2="236.60" stroke="#b0b0b0" stroke-width="1.4"/>
<line x1="187.40" y1="236.60" x2="242.72" y2="236.60" stroke="#b0b0b0" stroke-width="1.4"/>
<line x1="187.40" y1="214.43" x2="189.00" y2="214.43" stroke="#b0b0b0" stroke-width="0.8"/>
<line x1="187.40" y1="192.25" x2="189.00" y2="192.25" stroke="#b0b0b0" stroke-width="0.8"/>
<line x1="208.25" y1="236.60" x2="208.25" y2="235.00" stroke="#b0b0b0" stroke-width="0.8"/>
<line x1="229.10" y1="236.60" x2="229.10" y2="235.00" stroke="#b0b0b0" stroke-width="0.8"/>
<text x="186.20" y="239.58" font-size="6.6" text-anchor="end" fill="#262626">0</text>
<text x="186.20" y="217.40" font-size="6.6" text-anchor="end" fill="#262626">5</text>
<text x="186.20" y="195.23" font-size="6.6" text-anchor="end" fill="#262626">10</text>
<text x="187.40" y="244.65" font-size="6.6" text-anchor="middle" fill="#262626">0</text>
<text x="208.25" y="244.65" font-size="6.6" text-anchor="middle" fill="#262626">100</text>
<text x="229.10" y="244.65" font-size="6.6" text-anchor="middle" fill="#262626">200</text>
<text x="214.66" y="181.00" font-size="7.4" font-weight="bold" text-anchor="middle" fill="#000">250, 60 %</text>
<polyline points="187.4,236.6 187.6,236.6 187.8,236.6 188.0,236.6 188.2,236.6 188.4,236.6 188.7,236.6 188.9,236.6 189.1,236.6 189.3,236.6 189.5,236.6 189.7,236.6 189.9,236.6 190.1,236.6 190.3,236.6 190.5,236.6 190.7,236.6 190.9,236.6 191.2,236.6 191.4,236.2 191.6,234.9 191.8,233.1 192.0,230.9 192.2,228.4 192.4,225.8 192.6,223.3 192.8,220.8 193.0,217.6 193.2,214.2 193.4,210.8 193.7,207.8 193.9,205.4 194.1,204.0 194.3,202.8 194.5,202.2 194.7,203.0 194.9,204.8 195.1,206.6 195.3,209.0 195.5,211.5 195.7,213.5 195.9,215.2 196.2,216.8 196.4,218.2 196.6,219.7 196.8,221.2 197.0,222.8 197.2,224.3 197.4,225.8 197.6,227.0 197.8,227.9 198.0,228.7 198.2,229.4 198.5,230.1 198.7,230.7 198.9,231.2 199.1,231.7 199.3,232.2 199.5,232.6 199.7,232.9 199.9,233.2 200.1,233.4 200.3,233.6 200.5,233.9 200.7,234.1 201.0,234.3 201.2,234.4 201.4,234.6 201.6,234.8 201.8,234.9 202.0,235.1 202.2,235.2 202.4,235.3 202.6,235.4 202.8,235.5 203.0,235.6 203.2,235.7 203.5,235.7 203.7,235.8 203.9,235.8 204.1,235.8 204.3,235.9 204.5,235.9 204.7,235.9 204.9,235.9 205.1,236.0 205.3,236.0 205.5,236.0 205.7,236.0 206.0,236.1 206.2,236.1 206.4,236.1 206.6,236.1 206.8,236.2 207.0,236.2 207.2,236.2 207.4,236.2 207.6,236.2 207.8,236.2 208.0,236.3 208.2,236.3 208.5,236.3 208.7,236.3 208.9,236.3 209.1,236.3 209.3,236.3 209.5,236.3 209.7,236.3 209.9,236.4 210.1,236.4 210.3,236.4 211.4,236.4 212.4,236.4 213.5,236.4 214.5,236.4 215.5,236.4 216.6,236.4 217.6,236.4 218.7,236.4 219.7,236.4 220.8,236.4 221.8,236.4 222.8,236.4 223.9,236.4 224.9,236.4 226.0,236.4 227.0,236.4 228.1,236.5 229.1,236.5 230.1,236.5 231.2,236.5 232.2,236.5 233.3,236.5 234.3,236.5 235.4,236.5 236.4,236.5 237.4,236.5 238.5,236.5 239.5,236.5 240.6,236.5 241.6,236.5 242.7,236.5 243.2,236.5" fill="none" stroke="#ff0000" stroke-width="1.7" stroke-linejoin="round"/>
<polyline points="187.4,236.6 187.6,236.6 187.8,236.6 188.0,236.6 188.2,236.6 188.4,236.6 188.7,236.6 188.9,236.6 189.1,236.6 189.3,236.6 189.5,236.6 189.7,236.6 189.9,236.6 190.1,236.6 190.3,236.6 190.5,236.6 190.7,236.6 190.9,236.6 191.2,236.6 191.4,236.6 191.6,236.6 191.8,236.6 192.0,236.6 192.2,236.6 192.4,236.6 192.6,236.5 192.8,236.3 193.0,236.0 193.2,235.6 193.4,235.1 193.7,234.7 193.9,234.3 194.1,233.9 194.3,233.4 194.5,233.0 194.7,232.5 194.9,232.1 195.1,231.6 195.3,231.2 195.5,230.9 195.7,230.5 195.9,230.1 196.2,229.8 196.4,229.5 196.6,229.2 196.8,228.9 197.0,228.7 197.2,228.6 197.4,228.6 197.6,228.6 197.8,228.7 198.0,228.7 198.2,228.8 198.5,228.9 198.7,229.0 198.9,229.2 199.1,229.3 199.3,229.4 199.5,229.6 199.7,229.7 199.9,229.9 200.1,230.1 200.3,230.2 200.5,230.4 200.7,230.5 201.0,230.7 201.2,230.8 201.4,231.0 201.6,231.1 201.8,231.2 202.0,231.3 202.2,231.4 202.4,231.5 202.6,231.6 202.8,231.7 203.0,231.8 203.2,231.9 203.5,232.0 203.7,232.1 203.9,232.2 204.1,232.3 204.3,232.4 204.5,232.5 204.7,232.6 204.9,232.7 205.1,232.8 205.3,232.9 205.5,233.0 205.7,233.1 206.0,233.2 206.2,233.3 206.4,233.3 206.6,233.4 206.8,233.5 207.0,233.6 207.2,233.6 207.4,233.7 207.6,233.8 207.8,233.8 208.0,233.9 208.2,233.9 208.5,234.0 208.7,234.0 208.9,234.1 209.1,234.1 209.3,234.2 209.5,234.2 209.7,234.3 209.9,234.3 210.1,234.4 210.3,234.4 211.4,234.7 212.4,234.9 213.5,235.0 214.5,235.2 215.5,235.4 216.6,235.5 217.6,235.6 218.7,235.7 219.7,235.8 220.8,235.9 221.8,236.0 222.8,236.0 223.9,236.1 224.9,236.1 226.0,236.2 227.0,236.2 228.1,236.3 229.1,236.3 230.1,236.3 231.2,236.3 232.2,236.4 233.3,236.4 234.3,236.4 235.4,236.4 236.4,236.4 237.4,236.4 238.5,236.4 239.5,236.4 240.6,236.5 241.6,236.5 242.7,236.5 243.2,236.5" fill="none" stroke="#0000ff" stroke-width="1.0" stroke-linejoin="round"/>
<polyline points="187.4,236.6 187.6,236.6 187.8,236.6 188.0,236.6 188.2,236.6 188.4,236.6 188.7,236.6 188.9,236.6 189.1,236.6 189.3,236.6 189.5,236.6 189.7,236.6 189.9,236.6 190.1,236.6 190.3,236.6 190.5,236.6 190.7,236.6 190.9,236.6 191.2,236.6 191.4,236.6 191.6,236.6 191.8,236.6 192.0,236.6 192.2,236.6 192.4,236.6 192.6,236.6 192.8,236.6 193.0,236.5 193.2,236.4 193.4,236.1 193.7,235.8 193.9,235.5 194.1,235.1 194.3,234.8 194.5,234.5 194.7,234.1 194.9,233.8 195.1,233.4 195.3,233.0 195.5,232.7 195.7,232.4 195.9,232.1 196.2,231.8 196.4,231.5 196.6,231.2 196.8,231.0 197.0,230.7 197.2,230.5 197.4,230.2 197.6,230.1 197.8,230.0 198.0,230.0 198.2,230.0 198.5,230.0 198.7,230.1 198.9,230.1 199.1,230.2 199.3,230.2 199.5,230.3 199.7,230.4 199.9,230.5 200.1,230.5 200.3,230.6 200.5,230.7 200.7,230.8 201.0,230.9 201.2,231.0 201.4,231.0 201.6,231.1 201.8,231.2 202.0,231.3 202.2,231.3 202.4,231.4 202.6,231.5 202.8,231.6 203.0,231.7 203.2,231.7 203.5,231.8 203.7,231.9 203.9,232.0 204.1,232.1 204.3,232.2 204.5,232.3 204.7,232.3 204.9,232.4 205.1,232.5 205.3,232.6 205.5,232.7 205.7,232.8 206.0,232.9 206.2,232.9 206.4,233.0 206.6,233.1 206.8,233.2 207.0,233.2 207.2,233.3 207.4,233.4 207.6,233.5 207.8,233.5 208.0,233.6 208.2,233.6 208.5,233.7 208.7,233.7 208.9,233.8 209.1,233.8 209.3,233.9 209.5,233.9 209.7,234.0 209.9,234.0 210.1,234.1 210.3,234.1 211.4,234.4 212.4,234.6 213.5,234.8 214.5,235.0 215.5,235.1 216.6,235.3 217.6,235.4 218.7,235.5 219.7,235.6 220.8,235.7 221.8,235.8 222.8,235.9 223.9,236.0 224.9,236.0 226.0,236.1 227.0,236.1 228.1,236.2 229.1,236.2 230.1,236.2 231.2,236.3 232.2,236.3 233.3,236.3 234.3,236.3 235.4,236.3 236.4,236.4 237.4,236.4 238.5,236.4 239.5,236.4 240.6,236.4 241.6,236.4 242.7,236.4 243.2,236.4" fill="none" stroke="#00ffff" stroke-width="1.0" stroke-linejoin="round"/>
<polyline points="187.4,236.6 187.6,236.6 187.8,236.6 188.0,236.6 188.2,236.6 188.4,236.6 188.7,236.6 188.9,236.6 189.1,236.6 189.3,236.6 189.5,236.6 189.7,236.6 189.9,236.6 190.1,236.6 190.3,236.6 190.5,236.6 190.7,236.6 190.9,236.6 191.2,236.6 191.4,236.6 191.6,236.6 191.8,236.6 192.0,236.6 192.2,236.6 192.4,236.6 192.6,236.5 192.8,236.3 193.0,236.0 193.2,235.6 193.4,235.2 193.7,234.7 193.9,234.4 194.1,233.9 194.3,233.5 194.5,233.0 194.7,232.6 194.9,232.1 195.1,231.7 195.3,231.3 195.5,231.0 195.7,230.6 195.9,230.2 196.2,229.9 196.4,229.6 196.6,229.3 196.8,229.0 197.0,228.8 197.2,228.7 197.4,228.7 197.6,228.7 197.8,228.8 198.0,228.9 198.2,228.9 198.5,229.0 198.7,229.1 198.9,229.3 199.1,229.4 199.3,229.5 199.5,229.7 199.7,229.8 199.9,230.0 200.1,230.1 200.3,230.3 200.5,230.4 200.7,230.6 201.0,230.7 201.2,230.8 201.4,231.0 201.6,231.1 201.8,231.2 202.0,231.3 202.2,231.4 202.4,231.5 202.6,231.6 202.8,231.7 203.0,231.8 203.2,231.9 203.5,232.0 203.7,232.1 203.9,232.2 204.1,232.3 204.3,232.4 204.5,232.5 204.7,232.6 204.9,232.7 205.1,232.8 205.3,232.9 205.5,233.0 205.7,233.1 206.0,233.2 206.2,233.2 206.4,233.3 206.6,233.4 206.8,233.5 207.0,233.6 207.2,233.6 207.4,233.7 207.6,233.8 207.8,233.8 208.0,233.9 208.2,233.9 208.5,234.0 208.7,234.0 208.9,234.1 209.1,234.1 209.3,234.2 209.5,234.2 209.7,234.3 209.9,234.3 210.1,234.4 210.3,234.4 211.4,234.7 212.4,234.9 213.5,235.0 214.5,235.2 215.5,235.4 216.6,235.5 217.6,235.6 218.7,235.7 219.7,235.8 220.8,235.9 221.8,236.0 222.8,236.0 223.9,236.1 224.9,236.1 226.0,236.2 227.0,236.2 228.1,236.3 229.1,236.3 230.1,236.3 231.2,236.3 232.2,236.4 233.3,236.4 234.3,236.4 235.4,236.4 236.4,236.4 237.4,236.4 238.5,236.4 239.5,236.4 240.6,236.5 241.6,236.5 242.7,236.5 243.2,236.5" fill="none" stroke="#00ff00" stroke-width="1.7" stroke-linejoin="round"/>
<polyline points="187.4,236.6 187.6,236.6 187.8,236.6 188.0,236.6 188.2,236.6 188.4,236.6 188.7,236.6 188.9,236.6 189.1,236.6 189.3,236.6 189.5,236.6 189.7,236.6 189.9,236.6 190.1,236.6 190.3,236.6 190.5,236.6 190.7,236.6 190.9,236.6 191.2,236.6 191.4,236.6 191.6,236.3 191.8,235.3 192.0,233.9 192.2,232.2 192.4,230.3 192.6,228.4 192.8,226.5 193.0,224.5 193.2,222.1 193.4,219.5 193.7,217.0 193.9,214.7 194.1,212.9 194.3,211.7 194.5,210.8 194.7,210.4 194.9,211.0 195.1,212.4 195.3,213.8 195.5,215.6 195.7,217.5 195.9,219.0 196.2,220.3 196.4,221.5 196.6,222.6 196.8,223.7 197.0,224.9 197.2,226.1 197.4,227.3 197.6,228.4 197.8,229.3 198.0,230.0 198.2,230.6 198.5,231.1 198.7,231.6 198.9,232.1 199.1,232.5 199.3,232.9 199.5,233.2 199.7,233.5 199.9,233.7 200.1,233.9 200.3,234.1 200.5,234.3 200.7,234.5 201.0,234.6 201.2,234.8 201.4,234.9 201.6,235.0 201.8,235.2 202.0,235.3 202.2,235.4 202.4,235.5 202.6,235.6 202.8,235.7 203.0,235.7 203.2,235.8 203.5,235.8 203.7,235.9 203.9,235.9 204.1,235.9 204.3,236.0 204.5,236.0 204.7,236.0 204.9,236.0 205.1,236.0 205.3,236.1 205.5,236.1 205.7,236.1 206.0,236.1 206.2,236.1 206.4,236.2 206.6,236.2 206.8,236.2 207.0,236.2 207.2,236.2 207.4,236.2 207.6,236.3 207.8,236.3 208.0,236.3 208.2,236.3 208.5,236.3 208.7,236.3 208.9,236.3 209.1,236.3 209.3,236.3 209.5,236.3 209.7,236.3 209.9,236.4 210.1,236.4 210.3,236.4 211.4,236.4 212.4,236.4 213.5,236.4 214.5,236.4 215.5,236.4 216.6,236.4 217.6,236.4 218.7,236.4 219.7,236.4 220.8,236.4 221.8,236.4 222.8,236.4 223.9,236.4 224.9,236.4 226.0,236.4 227.0,236.4 228.1,236.5 229.1,236.5 230.1,236.5 231.2,236.5 232.2,236.5 233.3,236.5 234.3,236.5 235.4,236.5 236.4,236.5 237.4,236.5 238.5,236.5 239.5,236.5 240.6,236.5 241.6,236.5 242.7,236.5 243.2,236.5" fill="none" stroke="#ff00ff" stroke-width="1.7" stroke-linejoin="round" stroke-dasharray="5,4.6"/>
<polyline points="187.4,236.6 187.6,236.6 187.8,236.6 188.0,236.6 188.2,236.6 188.4,236.6 188.7,236.6 188.9,236.6 189.1,236.6 189.3,236.6 189.5,236.6 189.7,236.6 189.9,236.6 190.1,236.6 190.3,236.6 190.5,236.6 190.7,236.6 190.9,236.6 191.2,236.6 191.4,236.6 191.6,236.6 191.8,236.6 192.0,236.6 192.2,236.6 192.4,236.6 192.6,236.6 192.8,236.6 193.0,236.5 193.2,236.4 193.4,236.1 193.7,235.8 193.9,235.5 194.1,235.2 194.3,234.8 194.5,234.5 194.7,234.2 194.9,233.8 195.1,233.4 195.3,233.1 195.5,232.8 195.7,232.4 195.9,232.1 196.2,231.8 196.4,231.5 196.6,231.3 196.8,231.0 197.0,230.8 197.2,230.5 197.4,230.3 197.6,230.1 197.8,230.1 198.0,230.1 198.2,230.1 198.5,230.1 198.7,230.2 198.9,230.2 199.1,230.3 199.3,230.3 199.5,230.4 199.7,230.4 199.9,230.5 200.1,230.6 200.3,230.7 200.5,230.7 200.7,230.8 201.0,230.9 201.2,231.0 201.4,231.1 201.6,231.1 201.8,231.2 202.0,231.3 202.2,231.3 202.4,231.4 202.6,231.5 202.8,231.6 203.0,231.6 203.2,231.7 203.5,231.8 203.7,231.9 203.9,232.0 204.1,232.1 204.3,232.2 204.5,232.2 204.7,232.3 204.9,232.4 205.1,232.5 205.3,232.6 205.5,232.7 205.7,232.8 206.0,232.9 206.2,232.9 206.4,233.0 206.6,233.1 206.8,233.2 207.0,233.2 207.2,233.3 207.4,233.4 207.6,233.5 207.8,233.5 208.0,233.6 208.2,233.6 208.5,233.7 208.7,233.7 208.9,233.8 209.1,233.8 209.3,233.9 209.5,233.9 209.7,234.0 209.9,234.0 210.1,234.1 210.3,234.1 211.4,234.4 212.4,234.6 213.5,234.8 214.5,235.0 215.5,235.1 216.6,235.3 217.6,235.4 218.7,235.5 219.7,235.6 220.8,235.7 221.8,235.8 222.8,235.9 223.9,236.0 224.9,236.0 226.0,236.1 227.0,236.1 228.1,236.2 229.1,236.2 230.1,236.2 231.2,236.3 232.2,236.3 233.3,236.3 234.3,236.3 235.4,236.3 236.4,236.4 237.4,236.4 238.5,236.4 239.5,236.4 240.6,236.4 241.6,236.4 242.7,236.4 243.2,236.4" fill="none" stroke="#000000" stroke-width="1.7" stroke-linejoin="round" stroke-dasharray="5,4.4"/>
<line x1="259.40" y1="214.43" x2="313.92" y2="214.43" stroke="#eeeeee" stroke-width="1"/>
<line x1="259.40" y1="192.25" x2="313.92" y2="192.25" stroke="#eeeeee" stroke-width="1"/>
<line x1="280.25" y1="183.38" x2="280.25" y2="236.60" stroke="#eeeeee" stroke-width="1"/>
<line x1="301.10" y1="183.38" x2="301.10" y2="236.60" stroke="#eeeeee" stroke-width="1"/>
<line x1="259.40" y1="183.38" x2="259.40" y2="236.60" stroke="#b0b0b0" stroke-width="1.4"/>
<line x1="259.40" y1="236.60" x2="314.72" y2="236.60" stroke="#b0b0b0" stroke-width="1.4"/>
<line x1="259.40" y1="214.43" x2="261.00" y2="214.43" stroke="#b0b0b0" stroke-width="0.8"/>
<line x1="259.40" y1="192.25" x2="261.00" y2="192.25" stroke="#b0b0b0" stroke-width="0.8"/>
<line x1="280.25" y1="236.60" x2="280.25" y2="235.00" stroke="#b0b0b0" stroke-width="0.8"/>
<line x1="301.10" y1="236.60" x2="301.10" y2="235.00" stroke="#b0b0b0" stroke-width="0.8"/>
<text x="258.20" y="239.58" font-size="6.6" text-anchor="end" fill="#262626">0</text>
<text x="258.20" y="217.40" font-size="6.6" text-anchor="end" fill="#262626">5</text>
<text x="258.20" y="195.23" font-size="6.6" text-anchor="end" fill="#262626">10</text>
<text x="259.40" y="244.65" font-size="6.6" text-anchor="middle" fill="#262626">0</text>
<text x="280.25" y="244.65" font-size="6.6" text-anchor="middle" fill="#262626">100</text>
<text x="301.10" y="244.65" font-size="6.6" text-anchor="middle" fill="#262626">200</text>
<text x="286.66" y="181.00" font-size="7.4" font-weight="bold" text-anchor="middle" fill="#000">250, 80 %</text>
<polyline points="259.4,236.6 259.6,236.6 259.8,236.6 260.0,236.6 260.2,236.6 260.4,236.6 260.7,236.6 260.9,236.6 261.1,236.6 261.3,236.6 261.5,236.6 261.7,236.6 261.9,236.6 262.1,236.6 262.3,236.6 262.5,236.6 262.7,236.6 262.9,236.6 263.2,236.6 263.4,236.6 263.6,236.6 263.8,236.2 264.0,235.0 264.2,233.3 264.4,231.1 264.6,228.7 264.8,226.3 265.0,223.9 265.2,221.5 265.4,218.5 265.7,215.2 265.9,212.0 266.1,209.1 266.3,206.9 266.5,205.4 266.7,204.3 266.9,203.8 267.1,204.5 267.3,206.2 267.5,208.0 267.7,210.3 267.9,212.6 268.2,214.5 268.4,216.1 268.6,217.7 268.8,219.1 269.0,220.5 269.2,221.9 269.4,223.4 269.6,224.9 269.8,226.3 270.0,227.4 270.2,228.3 270.5,229.0 270.7,229.7 270.9,230.4 271.1,230.9 271.3,231.5 271.5,232.0 271.7,232.4 271.9,232.8 272.1,233.1 272.3,233.3 272.5,233.5 272.7,233.8 273.0,234.0 273.2,234.2 273.4,234.4 273.6,234.5 273.8,234.7 274.0,234.9 274.2,235.0 274.4,235.1 274.6,235.3 274.8,235.4 275.0,235.5 275.2,235.6 275.5,235.6 275.7,235.7 275.9,235.7 276.1,235.8 276.3,235.8 276.5,235.8 276.7,235.9 276.9,235.9 277.1,235.9 277.3,236.0 277.5,236.0 277.7,236.0 278.0,236.0 278.2,236.1 278.4,236.1 278.6,236.1 278.8,236.1 279.0,236.1 279.2,236.2 279.4,236.2 279.6,236.2 279.8,236.2 280.0,236.2 280.2,236.3 280.5,236.3 280.7,236.3 280.9,236.3 281.1,236.3 281.3,236.3 281.5,236.3 281.7,236.3 281.9,236.3 282.1,236.3 282.3,236.4 283.4,236.4 284.4,236.4 285.5,236.4 286.5,236.4 287.5,236.4 288.6,236.4 289.6,236.4 290.7,236.4 291.7,236.4 292.8,236.4 293.8,236.4 294.8,236.4 295.9,236.4 296.9,236.4 298.0,236.4 299.0,236.4 300.1,236.5 301.1,236.5 302.1,236.5 303.2,236.5 304.2,236.5 305.3,236.5 306.3,236.5 307.4,236.5 308.4,236.5 309.4,236.5 310.5,236.5 311.5,236.5 312.6,236.5 313.6,236.5 314.7,236.5 315.2,236.5" fill="none" stroke="#ff0000" stroke-width="1.7" stroke-linejoin="round"/>
<polyline points="259.4,236.6 259.6,236.6 259.8,236.6 260.0,236.6 260.2,236.6 260.4,236.6 260.7,236.6 260.9,236.6 261.1,236.6 261.3,236.6 261.5,236.6 261.7,236.6 261.9,236.6 262.1,236.6 262.3,236.6 262.5,236.6 262.7,236.6 262.9,236.6 263.2,236.6 263.4,236.6 263.6,236.6 263.8,236.6 264.0,236.6 264.2,236.6 264.4,236.6 264.6,236.6 264.8,236.6 265.0,236.6 265.2,236.5 265.4,236.1 265.7,235.7 265.9,235.1 266.1,234.5 266.3,234.0 266.5,233.4 266.7,232.8 266.9,232.2 267.1,231.6 267.3,231.1 267.5,230.5 267.7,230.1 267.9,229.6 268.2,229.2 268.4,228.8 268.6,228.3 268.8,228.0 269.0,227.9 269.2,227.9 269.4,227.9 269.6,228.0 269.8,228.0 270.0,228.1 270.2,228.2 270.5,228.3 270.7,228.5 270.9,228.6 271.1,228.8 271.3,228.9 271.5,229.1 271.7,229.2 271.9,229.4 272.1,229.6 272.3,229.8 272.5,229.9 272.7,230.1 273.0,230.3 273.2,230.4 273.4,230.6 273.6,230.7 273.8,230.9 274.0,231.0 274.2,231.1 274.4,231.3 274.6,231.4 274.8,231.5 275.0,231.6 275.2,231.8 275.5,231.9 275.7,232.0 275.9,232.2 276.1,232.3 276.3,232.4 276.5,232.6 276.7,232.7 276.9,232.8 277.1,232.9 277.3,233.1 277.5,233.2 277.7,233.3 278.0,233.4 278.2,233.5 278.4,233.6 278.6,233.7 278.8,233.8 279.0,233.9 279.2,234.0 279.4,234.1 279.6,234.2 279.8,234.3 280.0,234.3 280.2,234.4 280.5,234.4 280.7,234.5 280.9,234.5 281.1,234.6 281.3,234.6 281.5,234.7 281.7,234.7 281.9,234.8 282.1,234.8 282.3,234.9 283.4,235.1 284.4,235.3 285.5,235.5 286.5,235.7 287.5,235.8 288.6,235.9 289.6,236.0 290.7,236.1 291.7,236.1 292.8,236.2 293.8,236.2 294.8,236.3 295.9,236.3 296.9,236.3 298.0,236.4 299.0,236.4 300.1,236.4 301.1,236.4 302.1,236.4 303.2,236.4 304.2,236.5 305.3,236.5 306.3,236.5 307.4,236.5 308.4,236.5 309.4,236.5 310.5,236.5 311.5,236.5 312.6,236.5 313.6,236.5 314.7,236.5 315.2,236.5" fill="none" stroke="#0000ff" stroke-width="1.0" stroke-linejoin="round"/>
<polyline points="259.4,236.6 259.6,236.6 259.8,236.6 260.0,236.6 260.2,236.6 260.4,236.6 260.7,236.6 260.9,236.6 261.1,236.6 261.3,236.6 261.5,236.6 261.7,236.6 261.9,236.6 262.1,236.6 262.3,236.6 262.5,236.6 262.7,236.6 262.9,236.6 263.2,236.6 263.4,236.6 263.6,236.6 263.8,236.6 264.0,236.6 264.2,236.6 264.4,236.6 264.6,236.6 264.8,236.6 265.0,236.6 265.2,236.6 265.4,236.5 265.7,236.3 265.9,236.1 266.1,235.7 266.3,235.4 266.5,235.0 266.7,234.7 266.9,234.4 267.1,234.0 267.3,233.6 267.5,233.2 267.7,232.9 267.9,232.5 268.2,232.2 268.4,231.9 268.6,231.6 268.8,231.3 269.0,231.1 269.2,230.8 269.4,230.6 269.6,230.4 269.8,230.3 270.0,230.3 270.2,230.3 270.5,230.3 270.7,230.3 270.9,230.3 271.1,230.4 271.3,230.4 271.5,230.4 271.7,230.4 271.9,230.5 272.1,230.5 272.3,230.5 272.5,230.6 272.7,230.6 273.0,230.6 273.2,230.7 273.4,230.7 273.6,230.8 273.8,230.8 274.0,230.8 274.2,230.9 274.4,230.9 274.6,231.0 274.8,231.1 275.0,231.1 275.2,231.2 275.5,231.3 275.7,231.4 275.9,231.5 276.1,231.6 276.3,231.7 276.5,231.8 276.7,231.9 276.9,232.0 277.1,232.1 277.3,232.2 277.5,232.3 277.7,232.4 278.0,232.5 278.2,232.6 278.4,232.7 278.6,232.8 278.8,232.9 279.0,233.0 279.2,233.1 279.4,233.2 279.6,233.3 279.8,233.4 280.0,233.4 280.2,233.5 280.5,233.6 280.7,233.6 280.9,233.7 281.1,233.7 281.3,233.8 281.5,233.8 281.7,233.9 281.9,234.0 282.1,234.0 282.3,234.1 283.4,234.3 284.4,234.6 285.5,234.8 286.5,235.0 287.5,235.2 288.6,235.4 289.6,235.5 290.7,235.6 291.7,235.7 292.8,235.8 293.8,235.8 294.8,235.9 295.9,236.0 296.9,236.0 298.0,236.1 299.0,236.1 300.1,236.1 301.1,236.2 302.1,236.2 303.2,236.2 304.2,236.2 305.3,236.2 306.3,236.3 307.4,236.3 308.4,236.3 309.4,236.3 310.5,236.3 311.5,236.3 312.6,236.4 313.6,236.4 314.7,236.4 315.2,236.4" fill="none" stroke="#00ffff" stroke-width="1.0" stroke-linejoin="round"/>
<polyline points="259.4,236.6 259.6,236.6 259.8,236.6 260.0,236.6 260.2,236.6 260.4,236.6 260.7,236.6 260.9,236.6 261.1,236.6 261.3,236.6 261.5,236.6 261.7,236.6 261.9,236.6 262.1,236.6 262.3,236.6 262.5,236.6 262.7,236.6 262.9,236.6 263.2,236.6 263.4,236.6 263.6,236.6 263.8,236.6 264.0,236.6 264.2,236.6 264.4,236.6 264.6,236.6 264.8,236.6 265.0,236.6 265.2,236.5 265.4,236.2 265.7,235.7 265.9,235.2 266.1,234.6 266.3,234.1 266.5,233.6 266.7,233.0 266.9,232.4 267.1,231.9 267.3,231.3 267.5,230.9 267.7,230.4 267.9,229.9 268.2,229.5 268.4,229.2 268.6,228.8 268.8,228.4 269.0,228.3 269.2,228.3 269.4,228.3 269.6,228.4 269.8,228.4 270.0,228.5 270.2,228.6 270.5,228.7 270.7,228.8 270.9,228.9 271.1,229.1 271.3,229.2 271.5,229.3 271.7,229.5 271.9,229.6 272.1,229.8 272.3,229.9 272.5,230.1 272.7,230.2 273.0,230.4 273.2,230.5 273.4,230.6 273.6,230.8 273.8,230.9 274.0,231.0 274.2,231.1 274.4,231.2 274.6,231.4 274.8,231.5 275.0,231.6 275.2,231.7 275.5,231.9 275.7,232.0 275.9,232.1 276.1,232.3 276.3,232.4 276.5,232.5 276.7,232.7 276.9,232.8 277.1,232.9 277.3,233.0 277.5,233.2 277.7,233.3 278.0,233.4 278.2,233.5 278.4,233.6 278.6,233.7 278.8,233.8 279.0,233.9 279.2,234.0 279.4,234.1 279.6,234.2 279.8,234.3 280.0,234.3 280.2,234.4 280.5,234.4 280.7,234.5 280.9,234.5 281.1,234.6 281.3,234.6 281.5,234.7 281.7,234.7 281.9,234.8 282.1,234.8 282.3,234.9 283.4,235.1 284.4,235.3 285.5,235.5 286.5,235.7 287.5,235.8 288.6,235.9 289.6,236.0 290.7,236.1 291.7,236.1 292.8,236.2 293.8,236.2 294.8,236.3 295.9,236.3 296.9,236.3 298.0,236.4 299.0,236.4 300.1,236.4 301.1,236.4 302.1,236.4 303.2,236.4 304.2,236.5 305.3,236.5 306.3,236.5 307.4,236.5 308.4,236.5 309.4,236.5 310.5,236.5 311.5,236.5 312.6,236.5 313.6,236.5 314.7,236.5 315.2,236.5" fill="none" stroke="#00ff00" stroke-width="1.7" stroke-linejoin="round"/>
<polyline points="259.4,236.6 259.6,236.6 259.8,236.6 260.0,236.6 260.2,236.6 260.4,236.6 260.7,236.6 260.9,236.6 261.1,236.6 261.3,236.6 261.5,236.6 261.7,236.6 261.9,236.6 262.1,236.6 262.3,236.6 262.5,236.6 262.7,236.6 262.9,236.6 263.2,236.6 263.4,236.6 263.6,236.6 263.8,236.6 264.0,236.3 264.2,235.4 264.4,234.2 264.6,232.6 264.8,230.9 265.0,229.1 265.2,227.3 265.4,225.6 265.7,223.4 265.9,221.0 266.1,218.6 266.3,216.5 266.5,214.9 266.7,213.9 266.9,213.0 267.1,212.7 267.3,213.2 267.5,214.4 267.7,215.7 267.9,217.4 268.2,219.1 268.4,220.5 268.6,221.7 268.8,222.8 269.0,223.8 269.2,224.8 269.4,225.9 269.6,227.0 269.8,228.1 270.0,229.1 270.2,229.9 270.5,230.5 270.7,231.1 270.9,231.6 271.1,232.0 271.3,232.4 271.5,232.8 271.7,233.2 271.9,233.5 272.1,233.7 272.3,234.0 272.5,234.2 272.7,234.3 273.0,234.5 273.2,234.6 273.4,234.8 273.6,234.9 273.8,235.0 274.0,235.1 274.2,235.3 274.4,235.4 274.6,235.5 274.8,235.6 275.0,235.6 275.2,235.7 275.5,235.8 275.7,235.8 275.9,235.9 276.1,235.9 276.3,235.9 276.5,236.0 276.7,236.0 276.9,236.0 277.1,236.0 277.3,236.1 277.5,236.1 277.7,236.1 278.0,236.1 278.2,236.1 278.4,236.1 278.6,236.2 278.8,236.2 279.0,236.2 279.2,236.2 279.4,236.2 279.6,236.2 279.8,236.2 280.0,236.3 280.2,236.3 280.5,236.3 280.7,236.3 280.9,236.3 281.1,236.3 281.3,236.3 281.5,236.3 281.7,236.3 281.9,236.3 282.1,236.3 282.3,236.4 283.4,236.4 284.4,236.4 285.5,236.4 286.5,236.4 287.5,236.4 288.6,236.4 289.6,236.4 290.7,236.4 291.7,236.4 292.8,236.4 293.8,236.4 294.8,236.4 295.9,236.4 296.9,236.4 298.0,236.4 299.0,236.4 300.1,236.4 301.1,236.5 302.1,236.5 303.2,236.5 304.2,236.5 305.3,236.5 306.3,236.5 307.4,236.5 308.4,236.5 309.4,236.5 310.5,236.5 311.5,236.5 312.6,236.5 313.6,236.5 314.7,236.5 315.2,236.5" fill="none" stroke="#ff00ff" stroke-width="1.7" stroke-linejoin="round" stroke-dasharray="5,4.6"/>
<polyline points="259.4,236.6 259.6,236.6 259.8,236.6 260.0,236.6 260.2,236.6 260.4,236.6 260.7,236.6 260.9,236.6 261.1,236.6 261.3,236.6 261.5,236.6 261.7,236.6 261.9,236.6 262.1,236.6 262.3,236.6 262.5,236.6 262.7,236.6 262.9,236.6 263.2,236.6 263.4,236.6 263.6,236.6 263.8,236.6 264.0,236.6 264.2,236.6 264.4,236.6 264.6,236.6 264.8,236.6 265.0,236.6 265.2,236.6 265.4,236.5 265.7,236.3 265.9,236.1 266.1,235.8 266.3,235.4 266.5,235.1 266.7,234.7 266.9,234.4 267.1,234.0 267.3,233.6 267.5,233.3 267.7,232.9 267.9,232.6 268.2,232.3 268.4,232.0 268.6,231.7 268.8,231.4 269.0,231.2 269.2,230.9 269.4,230.7 269.6,230.5 269.8,230.4 270.0,230.4 270.2,230.4 270.5,230.4 270.7,230.4 270.9,230.4 271.1,230.4 271.3,230.5 271.5,230.5 271.7,230.5 271.9,230.5 272.1,230.6 272.3,230.6 272.5,230.6 272.7,230.6 273.0,230.7 273.2,230.7 273.4,230.7 273.6,230.8 273.8,230.8 274.0,230.8 274.2,230.9 274.4,230.9 274.6,231.0 274.8,231.0 275.0,231.1 275.2,231.2 275.5,231.3 275.7,231.4 275.9,231.4 276.1,231.5 276.3,231.6 276.5,231.7 276.7,231.9 276.9,232.0 277.1,232.1 277.3,232.2 277.5,232.3 277.7,232.4 278.0,232.5 278.2,232.6 278.4,232.7 278.6,232.8 278.8,232.9 279.0,233.0 279.2,233.1 279.4,233.2 279.6,233.3 279.8,233.4 280.0,233.4 280.2,233.5 280.5,233.6 280.7,233.6 280.9,233.7 281.1,233.7 281.3,233.8 281.5,233.8 281.7,233.9 281.9,234.0 282.1,234.0 282.3,234.1 283.4,234.3 284.4,234.6 285.5,234.8 286.5,235.0 287.5,235.2 288.6,235.4 289.6,235.5 290.7,235.6 291.7,235.7 292.8,235.8 293.8,235.8 294.8,235.9 295.9,236.0 296.9,236.0 298.0,236.1 299.0,236.1 300.1,236.1 301.1,236.2 302.1,236.2 303.2,236.2 304.2,236.2 305.3,236.2 306.3,236.3 307.4,236.3 308.4,236.3 309.4,236.3 310.5,236.3 311.5,236.3 312.6,236.4 313.6,236.4 314.7,236.4 315.2,236.4" fill="none" stroke="#000000" stroke-width="1.7" stroke-linejoin="round" stroke-dasharray="5,4.4"/>
<line x1="394.90" y1="56.25" x2="449.92" y2="56.25" stroke="#eeeeee" stroke-width="1"/>
<line x1="394.90" y1="38.25" x2="449.92" y2="38.25" stroke="#eeeeee" stroke-width="1"/>
<line x1="394.90" y1="20.25" x2="449.92" y2="20.25" stroke="#eeeeee" stroke-width="1"/>
<line x1="415.90" y1="20.25" x2="415.90" y2="74.25" stroke="#eeeeee" stroke-width="1"/>
<line x1="436.90" y1="20.25" x2="436.90" y2="74.25" stroke="#eeeeee" stroke-width="1"/>
<line x1="394.90" y1="20.25" x2="394.90" y2="74.25" stroke="#b0b0b0" stroke-width="1.4"/>
<line x1="394.90" y1="74.25" x2="450.72" y2="74.25" stroke="#b0b0b0" stroke-width="1.4"/>
<line x1="394.90" y1="56.25" x2="396.50" y2="56.25" stroke="#b0b0b0" stroke-width="0.8"/>
<line x1="394.90" y1="38.25" x2="396.50" y2="38.25" stroke="#b0b0b0" stroke-width="0.8"/>
<line x1="394.90" y1="20.25" x2="396.50" y2="20.25" stroke="#b0b0b0" stroke-width="0.8"/>
<line x1="415.90" y1="74.25" x2="415.90" y2="72.65" stroke="#b0b0b0" stroke-width="0.8"/>
<line x1="436.90" y1="74.25" x2="436.90" y2="72.65" stroke="#b0b0b0" stroke-width="0.8"/>
<text x="393.10" y="77.43" font-size="6.9" text-anchor="end" fill="#262626">0</text>
<text x="393.10" y="59.43" font-size="6.9" text-anchor="end" fill="#262626">1</text>
<text x="393.10" y="41.43" font-size="6.9" text-anchor="end" fill="#262626">2</text>
<text x="393.10" y="23.43" font-size="6.9" text-anchor="end" fill="#262626">3</text>
<text x="394.90" y="82.52" font-size="6.9" text-anchor="middle" fill="#262626">0</text>
<text x="415.90" y="82.52" font-size="6.9" text-anchor="middle" fill="#262626">100</text>
<text x="436.90" y="82.52" font-size="6.9" text-anchor="middle" fill="#262626">200</text>
<text x="422.41" y="16.90" font-size="7.45" font-weight="bold" text-anchor="middle" fill="#000">150, 20 %</text>
<polyline points="394.9,74.2 395.1,74.2 395.3,74.2 395.5,74.2 395.7,74.2 395.9,74.2 396.2,74.2 396.4,74.2 396.6,74.2 396.8,74.2 397.0,74.2 397.2,74.2 397.4,74.2 397.6,74.2 397.8,74.2 398.0,74.2 398.3,74.2 398.5,74.2 398.7,74.2 398.9,74.2 399.1,74.2 399.3,74.2 399.5,74.2 399.7,74.2 399.9,74.2 400.1,74.2 400.4,74.2 400.6,74.2 400.8,74.2 401.0,74.0 401.2,73.3 401.4,72.3 401.6,71.2 401.8,70.1 402.0,69.1 402.2,67.9 402.5,66.7 402.7,65.5 402.9,64.4 403.1,63.4 403.3,62.4 403.5,61.5 403.7,60.6 403.9,59.8 404.1,59.0 404.3,58.3 404.6,58.0 404.8,58.1 405.0,58.1 405.2,58.1 405.4,58.2 405.6,58.2 405.8,58.3 406.0,58.3 406.2,58.4 406.4,58.5 406.7,58.6 406.9,58.7 407.1,58.8 407.3,58.9 407.5,59.0 407.7,59.1 407.9,59.2 408.1,59.4 408.3,59.5 408.5,59.6 408.8,59.7 409.0,59.8 409.2,59.9 409.4,59.9 409.6,60.0 409.8,60.1 410.0,60.2 410.2,60.3 410.4,60.3 410.6,60.4 410.9,60.5 411.1,60.6 411.3,60.6 411.5,60.7 411.7,60.8 411.9,60.8 412.1,60.9 412.3,61.0 412.5,61.1 412.8,61.1 413.0,61.2 413.2,61.3 413.4,61.3 413.6,61.4 413.8,61.5 414.0,61.6 414.2,61.6 414.4,61.7 414.6,61.8 414.8,61.8 415.1,61.9 415.3,62.0 415.5,62.0 415.7,62.1 415.9,62.2 416.1,62.3 416.3,62.3 416.5,62.4 416.7,62.5 416.9,62.6 417.2,62.6 417.4,62.7 417.6,62.8 417.8,62.9 418.0,62.9 419.0,63.3 420.1,63.7 421.1,64.1 422.2,64.4 423.2,64.8 424.3,65.1 425.3,65.5 426.4,65.8 427.4,66.1 428.5,66.4 429.5,66.7 430.6,67.0 431.6,67.3 432.7,67.6 433.8,67.8 434.8,68.1 435.8,68.3 436.9,68.5 437.9,68.7 439.0,68.8 440.0,69.0 441.1,69.1 442.1,69.3 443.2,69.4 444.2,69.6 445.3,69.7 446.3,69.8 447.4,69.9 448.4,70.0 449.5,70.2 450.5,70.3 451.3,70.4" fill="none" stroke="#0000ff" stroke-width="1.2" stroke-linejoin="round"/>
<polyline points="394.9,74.2 395.1,74.2 395.3,74.2 395.5,74.2 395.7,74.2 395.9,74.2 396.2,74.2 396.4,74.2 396.6,74.2 396.8,74.2 397.0,74.2 397.2,74.2 397.4,74.2 397.6,74.2 397.8,74.2 398.0,74.2 398.3,74.2 398.5,74.2 398.7,74.2 398.9,74.2 399.1,74.2 399.3,74.2 399.5,74.2 399.7,74.2 399.9,74.2 400.1,74.2 400.4,74.2 400.6,74.2 400.8,74.2 401.0,74.1 401.2,73.8 401.4,73.4 401.6,72.8 401.8,72.2 402.0,71.6 402.2,71.0 402.5,70.4 402.7,69.8 402.9,69.1 403.1,68.5 403.3,67.8 403.5,67.2 403.7,66.7 403.9,66.1 404.1,65.6 404.3,65.1 404.6,64.7 404.8,64.2 405.0,63.8 405.2,63.3 405.4,63.0 405.6,62.9 405.8,62.9 406.0,62.9 406.2,62.9 406.4,63.0 406.7,63.0 406.9,63.0 407.1,63.1 407.3,63.1 407.5,63.2 407.7,63.2 407.9,63.3 408.1,63.3 408.3,63.4 408.5,63.4 408.8,63.5 409.0,63.5 409.2,63.6 409.4,63.6 409.6,63.6 409.8,63.7 410.0,63.7 410.2,63.7 410.4,63.8 410.6,63.8 410.9,63.8 411.1,63.9 411.3,63.9 411.5,63.9 411.7,63.9 411.9,64.0 412.1,64.0 412.3,64.0 412.5,64.1 412.8,64.1 413.0,64.1 413.2,64.2 413.4,64.2 413.6,64.2 413.8,64.2 414.0,64.3 414.2,64.3 414.4,64.3 414.6,64.4 414.8,64.4 415.1,64.4 415.3,64.4 415.5,64.5 415.7,64.5 415.9,64.5 416.1,64.6 416.3,64.6 416.5,64.6 416.7,64.7 416.9,64.7 417.2,64.7 417.4,64.7 417.6,64.8 417.8,64.8 418.0,64.8 419.0,65.0 420.1,65.1 421.1,65.3 422.2,65.4 423.2,65.6 424.3,65.7 425.3,65.9 426.4,66.1 427.4,66.2 428.5,66.4 429.5,66.5 430.6,66.7 431.6,66.9 432.7,67.1 433.8,67.2 434.8,67.4 435.8,67.5 436.9,67.7 437.9,67.8 439.0,68.0 440.0,68.1 441.1,68.2 442.1,68.4 443.2,68.5 444.2,68.6 445.3,68.7 446.3,68.9 447.4,69.0 448.4,69.1 449.5,69.3 450.5,69.4 451.3,69.5" fill="none" stroke="#00ffff" stroke-width="1.2" stroke-linejoin="round"/>
<polyline points="394.9,74.2 395.1,74.2 395.3,74.2 395.5,74.2 395.7,74.2 395.9,74.2 396.2,74.2 396.4,74.2 396.6,74.2 396.8,74.2 397.0,74.2 397.2,74.2 397.4,74.2 397.6,74.2 397.8,74.2 398.0,74.2 398.3,74.2 398.5,74.2 398.7,74.2 398.9,74.2 399.1,74.2 399.3,74.2 399.5,74.2 399.7,74.2 399.9,74.2 400.1,74.2 400.4,74.2 400.6,74.2 400.8,74.2 401.0,74.0 401.2,73.3 401.4,72.4 401.6,71.4 401.8,70.3 402.0,69.3 402.2,68.2 402.5,67.1 402.7,65.9 402.9,64.9 403.1,63.9 403.3,62.9 403.5,62.0 403.7,61.2 403.9,60.5 404.1,59.7 404.3,59.0 404.6,58.8 404.8,58.8 405.0,58.8 405.2,58.8 405.4,58.8 405.6,58.9 405.8,58.9 406.0,58.9 406.2,59.0 406.4,59.0 406.7,59.1 406.9,59.2 407.1,59.2 407.3,59.3 407.5,59.4 407.7,59.4 407.9,59.5 408.1,59.6 408.3,59.6 408.5,59.7 408.8,59.8 409.0,59.8 409.2,59.9 409.4,60.0 409.6,60.0 409.8,60.1 410.0,60.2 410.2,60.2 410.4,60.3 410.6,60.3 410.9,60.4 411.1,60.5 411.3,60.6 411.5,60.6 411.7,60.7 411.9,60.8 412.1,60.8 412.3,60.9 412.5,61.0 412.8,61.1 413.0,61.1 413.2,61.2 413.4,61.3 413.6,61.4 413.8,61.4 414.0,61.5 414.2,61.6 414.4,61.7 414.6,61.7 414.8,61.8 415.1,61.9 415.3,62.0 415.5,62.0 415.7,62.1 415.9,62.2 416.1,62.3 416.3,62.3 416.5,62.4 416.7,62.5 416.9,62.6 417.2,62.6 417.4,62.7 417.6,62.8 417.8,62.9 418.0,62.9 419.0,63.3 420.1,63.7 421.1,64.1 422.2,64.4 423.2,64.8 424.3,65.1 425.3,65.5 426.4,65.8 427.4,66.1 428.5,66.4 429.5,66.7 430.6,67.0 431.6,67.3 432.7,67.6 433.8,67.8 434.8,68.1 435.8,68.3 436.9,68.5 437.9,68.7 439.0,68.8 440.0,69.0 441.1,69.1 442.1,69.3 443.2,69.4 444.2,69.6 445.3,69.7 446.3,69.8 447.4,69.9 448.4,70.0 449.5,70.2 450.5,70.3 451.3,70.4" fill="none" stroke="#00ff00" stroke-width="1.8" stroke-linejoin="round"/>
<polyline points="394.9,74.2 395.1,74.2 395.3,74.2 395.5,74.2 395.7,74.2 395.9,74.2 396.2,74.2 396.4,74.2 396.6,74.2 396.8,74.2 397.0,74.2 397.2,74.2 397.4,74.2 397.6,74.2 397.8,74.2 398.0,74.2 398.3,74.2 398.5,74.2 398.7,74.2 398.9,74.2 399.1,74.2 399.3,74.2 399.5,74.2 399.7,74.2 399.9,74.2 400.1,74.2 400.4,74.2 400.6,74.2 400.8,74.2 401.0,74.1 401.2,73.8 401.4,73.4 401.6,72.9 401.8,72.3 402.0,71.7 402.2,71.1 402.5,70.6 402.7,69.9 402.9,69.3 403.1,68.6 403.3,68.0 403.5,67.5 403.7,66.9 403.9,66.4 404.1,65.9 404.3,65.4 404.6,65.0 404.8,64.6 405.0,64.1 405.2,63.7 405.4,63.4 405.6,63.3 405.8,63.3 406.0,63.3 406.2,63.3 406.4,63.3 406.7,63.3 406.9,63.3 407.1,63.3 407.3,63.4 407.5,63.4 407.7,63.4 407.9,63.4 408.1,63.5 408.3,63.5 408.5,63.5 408.8,63.5 409.0,63.6 409.2,63.6 409.4,63.6 409.6,63.6 409.8,63.7 410.0,63.7 410.2,63.7 410.4,63.7 410.6,63.8 410.9,63.8 411.1,63.8 411.3,63.8 411.5,63.9 411.7,63.9 411.9,63.9 412.1,64.0 412.3,64.0 412.5,64.0 412.8,64.1 413.0,64.1 413.2,64.1 413.4,64.1 413.6,64.2 413.8,64.2 414.0,64.2 414.2,64.3 414.4,64.3 414.6,64.3 414.8,64.4 415.1,64.4 415.3,64.4 415.5,64.5 415.7,64.5 415.9,64.5 416.1,64.6 416.3,64.6 416.5,64.6 416.7,64.7 416.9,64.7 417.2,64.7 417.4,64.7 417.6,64.8 417.8,64.8 418.0,64.8 419.0,65.0 420.1,65.1 421.1,65.3 422.2,65.4 423.2,65.6 424.3,65.7 425.3,65.9 426.4,66.1 427.4,66.2 428.5,66.4 429.5,66.5 430.6,66.7 431.6,66.9 432.7,67.1 433.8,67.2 434.8,67.4 435.8,67.5 436.9,67.7 437.9,67.8 439.0,68.0 440.0,68.1 441.1,68.2 442.1,68.4 443.2,68.5 444.2,68.6 445.3,68.7 446.3,68.9 447.4,69.0 448.4,69.1 449.5,69.3 450.5,69.4 451.3,69.5" fill="none" stroke="#000000" stroke-width="1.8" stroke-linejoin="round" stroke-dasharray="5.5,4"/>
<line x1="468.50" y1="56.25" x2="523.52" y2="56.25" stroke="#eeeeee" stroke-width="1"/>
<line x1="468.50" y1="38.25" x2="523.52" y2="38.25" stroke="#eeeeee" stroke-width="1"/>
<line x1="468.50" y1="20.25" x2="523.52" y2="20.25" stroke="#eeeeee" stroke-width="1"/>
<line x1="489.50" y1="20.25" x2="489.50" y2="74.25" stroke="#eeeeee" stroke-width="1"/>
<line x1="510.50" y1="20.25" x2="510.50" y2="74.25" stroke="#eeeeee" stroke-width="1"/>
<line x1="468.50" y1="20.25" x2="468.50" y2="74.25" stroke="#b0b0b0" stroke-width="1.4"/>
<line x1="468.50" y1="74.25" x2="524.32" y2="74.25" stroke="#b0b0b0" stroke-width="1.4"/>
<line x1="468.50" y1="56.25" x2="470.10" y2="56.25" stroke="#b0b0b0" stroke-width="0.8"/>
<line x1="468.50" y1="38.25" x2="470.10" y2="38.25" stroke="#b0b0b0" stroke-width="0.8"/>
<line x1="468.50" y1="20.25" x2="470.10" y2="20.25" stroke="#b0b0b0" stroke-width="0.8"/>
<line x1="489.50" y1="74.25" x2="489.50" y2="72.65" stroke="#b0b0b0" stroke-width="0.8"/>
<line x1="510.50" y1="74.25" x2="510.50" y2="72.65" stroke="#b0b0b0" stroke-width="0.8"/>
<text x="466.70" y="77.43" font-size="6.9" text-anchor="end" fill="#262626">0</text>
<text x="466.70" y="59.43" font-size="6.9" text-anchor="end" fill="#262626">1</text>
<text x="466.70" y="41.43" font-size="6.9" text-anchor="end" fill="#262626">2</text>
<text x="466.70" y="23.43" font-size="6.9" text-anchor="end" fill="#262626">3</text>
<text x="468.50" y="82.52" font-size="6.9" text-anchor="middle" fill="#262626">0</text>
<text x="489.50" y="82.52" font-size="6.9" text-anchor="middle" fill="#262626">100</text>
<text x="510.50" y="82.52" font-size="6.9" text-anchor="middle" fill="#262626">200</text>
<text x="496.01" y="16.90" font-size="7.45" font-weight="bold" text-anchor="middle" fill="#000">150, 40 %</text>
<polyline points="468.5,74.2 468.7,74.2 468.9,74.2 469.1,74.2 469.3,74.2 469.6,74.2 469.8,74.2 470.0,74.2 470.2,74.2 470.4,74.2 470.6,74.2 470.8,74.2 471.0,74.2 471.2,74.2 471.4,74.2 471.6,74.2 471.9,74.2 472.1,74.2 472.3,74.2 472.5,74.2 472.7,74.2 472.9,74.2 473.1,74.2 473.3,74.2 473.5,74.2 473.8,74.2 474.0,74.2 474.2,74.2 474.4,74.2 474.6,74.2 474.8,73.9 475.0,73.5 475.2,73.1 475.4,72.5 475.6,71.8 475.9,71.1 476.1,70.4 476.3,69.7 476.5,68.9 476.7,68.0 476.9,67.0 477.1,65.9 477.3,64.7 477.5,63.5 477.7,62.3 477.9,61.2 478.2,60.1 478.4,59.1 478.6,58.0 478.8,56.9 479.0,55.9 479.2,55.0 479.4,54.2 479.6,53.5 479.8,53.0 480.1,52.6 480.3,52.2 480.5,51.9 480.7,51.6 480.9,51.5 481.1,51.4 481.3,51.4 481.5,51.5 481.7,51.6 481.9,51.7 482.1,51.9 482.4,52.1 482.6,52.3 482.8,52.5 483.0,52.7 483.2,52.8 483.4,53.0 483.6,53.1 483.8,53.3 484.0,53.5 484.2,53.7 484.5,53.8 484.7,54.0 484.9,54.2 485.1,54.4 485.3,54.6 485.5,54.7 485.7,54.9 485.9,55.1 486.1,55.3 486.4,55.5 486.6,55.7 486.8,55.9 487.0,56.0 487.2,56.2 487.4,56.4 487.6,56.6 487.8,56.8 488.0,56.9 488.2,57.1 488.4,57.3 488.7,57.4 488.9,57.6 489.1,57.8 489.3,57.9 489.5,58.0 489.7,58.2 489.9,58.3 490.1,58.5 490.3,58.6 490.6,58.8 490.8,58.9 491.0,59.0 491.2,59.2 491.4,59.3 491.6,59.4 492.6,60.1 493.7,60.7 494.8,61.3 495.8,61.9 496.9,62.5 497.9,63.0 498.9,63.5 500.0,64.0 501.1,64.4 502.1,64.9 503.1,65.3 504.2,65.7 505.2,66.1 506.3,66.5 507.4,66.8 508.4,67.2 509.4,67.5 510.5,67.8 511.6,68.0 512.6,68.3 513.6,68.5 514.7,68.8 515.8,69.0 516.8,69.2 517.9,69.4 518.9,69.6 520.0,69.8 521.0,70.0 522.0,70.2 523.1,70.3 524.1,70.5 524.9,70.6" fill="none" stroke="#0000ff" stroke-width="1.2" stroke-linejoin="round"/>
<polyline points="468.5,74.2 468.7,74.2 468.9,74.2 469.1,74.2 469.3,74.2 469.6,74.2 469.8,74.2 470.0,74.2 470.2,74.2 470.4,74.2 470.6,74.2 470.8,74.2 471.0,74.2 471.2,74.2 471.4,74.2 471.6,74.2 471.9,74.2 472.1,74.2 472.3,74.2 472.5,74.2 472.7,74.2 472.9,74.2 473.1,74.2 473.3,74.2 473.5,74.2 473.8,74.2 474.0,74.2 474.2,74.2 474.4,74.2 474.6,74.2 474.8,73.9 475.0,73.6 475.2,73.1 475.4,72.5 475.6,71.9 475.9,71.2 476.1,70.5 476.3,69.9 476.5,69.1 476.7,68.2 476.9,67.1 477.1,66.0 477.3,64.9 477.5,63.8 477.7,62.7 477.9,61.8 478.2,60.8 478.4,59.8 478.6,58.8 478.8,57.9 479.0,57.1 479.2,56.4 479.4,55.9 479.6,55.5 479.8,55.1 480.1,54.8 480.3,54.5 480.5,54.3 480.7,54.3 480.9,54.3 481.1,54.3 481.3,54.3 481.5,54.4 481.7,54.4 481.9,54.5 482.1,54.5 482.4,54.6 482.6,54.6 482.8,54.7 483.0,54.7 483.2,54.8 483.4,54.9 483.6,54.9 483.8,55.0 484.0,55.1 484.2,55.2 484.5,55.3 484.7,55.4 484.9,55.5 485.1,55.6 485.3,55.7 485.5,55.8 485.7,55.9 485.9,56.1 486.1,56.2 486.4,56.3 486.6,56.4 486.8,56.6 487.0,56.7 487.2,56.8 487.4,56.9 487.6,57.1 487.8,57.2 488.0,57.3 488.2,57.4 488.4,57.5 488.7,57.6 488.9,57.8 489.1,57.9 489.3,58.0 489.5,58.0 489.7,58.1 489.9,58.2 490.1,58.3 490.3,58.4 490.6,58.5 490.8,58.6 491.0,58.7 491.2,58.8 491.4,58.8 491.6,58.9 492.6,59.3 493.7,59.7 494.8,60.1 495.8,60.5 496.9,60.9 497.9,61.2 498.9,61.6 500.0,62.0 501.1,62.4 502.1,62.8 503.1,63.3 504.2,63.7 505.2,64.2 506.3,64.6 507.4,65.0 508.4,65.4 509.4,65.7 510.5,66.0 511.6,66.2 512.6,66.4 513.6,66.6 514.7,66.8 515.8,67.0 516.8,67.2 517.9,67.3 518.9,67.5 520.0,67.7 521.0,67.8 522.0,68.0 523.1,68.1 524.1,68.3 524.9,68.4" fill="none" stroke="#00ffff" stroke-width="1.2" stroke-linejoin="round"/>
<polyline points="468.5,74.2 468.7,74.2 468.9,74.2 469.1,74.2 469.3,74.2 469.6,74.2 469.8,74.2 470.0,74.2 470.2,74.2 470.4,74.2 470.6,74.2 470.8,74.2 471.0,74.2 471.2,74.2 471.4,74.2 471.6,74.2 471.9,74.2 472.1,74.2 472.3,74.2 472.5,74.2 472.7,74.2 472.9,74.2 473.1,74.2 473.3,74.2 473.5,74.2 473.8,74.2 474.0,74.2 474.2,74.2 474.4,74.2 474.6,74.2 474.8,73.9 475.0,73.6 475.2,73.1 475.4,72.5 475.6,71.9 475.9,71.2 476.1,70.4 476.3,69.7 476.5,69.0 476.7,68.1 476.9,67.1 477.1,66.0 477.3,64.8 477.5,63.6 477.7,62.5 477.9,61.4 478.2,60.4 478.4,59.3 478.6,58.3 478.8,57.2 479.0,56.2 479.2,55.3 479.4,54.5 479.6,53.8 479.8,53.4 480.1,53.0 480.3,52.6 480.5,52.3 480.7,52.0 480.9,51.8 481.1,51.8 481.3,51.8 481.5,51.8 481.7,51.9 481.9,52.0 482.1,52.1 482.4,52.3 482.6,52.4 482.8,52.6 483.0,52.7 483.2,52.8 483.4,53.0 483.6,53.1 483.8,53.2 484.0,53.4 484.2,53.6 484.5,53.7 484.7,53.9 484.9,54.1 485.1,54.3 485.3,54.4 485.5,54.6 485.7,54.8 485.9,55.0 486.1,55.2 486.4,55.4 486.6,55.6 486.8,55.8 487.0,56.0 487.2,56.2 487.4,56.3 487.6,56.5 487.8,56.7 488.0,56.9 488.2,57.1 488.4,57.3 488.7,57.4 488.9,57.6 489.1,57.7 489.3,57.9 489.5,58.0 489.7,58.2 489.9,58.3 490.1,58.5 490.3,58.6 490.6,58.8 490.8,58.9 491.0,59.0 491.2,59.2 491.4,59.3 491.6,59.4 492.6,60.1 493.7,60.7 494.8,61.3 495.8,61.9 496.9,62.5 497.9,63.0 498.9,63.5 500.0,64.0 501.1,64.4 502.1,64.9 503.1,65.3 504.2,65.7 505.2,66.1 506.3,66.5 507.4,66.8 508.4,67.2 509.4,67.5 510.5,67.8 511.6,68.0 512.6,68.3 513.6,68.5 514.7,68.8 515.8,69.0 516.8,69.2 517.9,69.4 518.9,69.6 520.0,69.8 521.0,70.0 522.0,70.2 523.1,70.3 524.1,70.5 524.9,70.6" fill="none" stroke="#00ff00" stroke-width="1.8" stroke-linejoin="round"/>
<polyline points="468.5,74.2 468.7,74.2 468.9,74.2 469.1,74.2 469.3,74.2 469.6,74.2 469.8,74.2 470.0,74.2 470.2,74.2 470.4,74.2 470.6,74.2 470.8,74.2 471.0,74.2 471.2,74.2 471.4,74.2 471.6,74.2 471.9,74.2 472.1,74.2 472.3,74.2 472.5,74.2 472.7,74.2 472.9,74.2 473.1,74.2 473.3,74.2 473.5,74.2 473.8,74.2 474.0,74.2 474.2,74.2 474.4,74.2 474.6,74.2 474.8,73.9 475.0,73.6 475.2,73.1 475.4,72.5 475.6,71.9 475.9,71.3 476.1,70.6 476.3,69.9 476.5,69.2 476.7,68.3 476.9,67.3 477.1,66.2 477.3,65.1 477.5,64.0 477.7,62.9 477.9,62.0 478.2,61.0 478.4,60.1 478.6,59.1 478.8,58.2 479.0,57.4 479.2,56.7 479.4,56.2 479.6,55.8 479.8,55.4 480.1,55.1 480.3,54.9 480.5,54.7 480.7,54.6 480.9,54.6 481.1,54.6 481.3,54.6 481.5,54.7 481.7,54.7 481.9,54.7 482.1,54.7 482.4,54.7 482.6,54.7 482.8,54.8 483.0,54.8 483.2,54.8 483.4,54.8 483.6,54.9 483.8,54.9 484.0,55.0 484.2,55.1 484.5,55.1 484.7,55.2 484.9,55.3 485.1,55.4 485.3,55.5 485.5,55.7 485.7,55.8 485.9,55.9 486.1,56.0 486.4,56.2 486.6,56.3 486.8,56.4 487.0,56.6 487.2,56.7 487.4,56.9 487.6,57.0 487.8,57.1 488.0,57.3 488.2,57.4 488.4,57.5 488.7,57.6 488.9,57.7 489.1,57.9 489.3,58.0 489.5,58.0 489.7,58.1 489.9,58.2 490.1,58.3 490.3,58.4 490.6,58.5 490.8,58.6 491.0,58.7 491.2,58.8 491.4,58.8 491.6,58.9 492.6,59.3 493.7,59.7 494.8,60.1 495.8,60.5 496.9,60.9 497.9,61.2 498.9,61.6 500.0,62.0 501.1,62.4 502.1,62.8 503.1,63.3 504.2,63.7 505.2,64.2 506.3,64.6 507.4,65.0 508.4,65.4 509.4,65.7 510.5,66.0 511.6,66.2 512.6,66.4 513.6,66.6 514.7,66.8 515.8,67.0 516.8,67.2 517.9,67.3 518.9,67.5 520.0,67.7 521.0,67.8 522.0,68.0 523.1,68.1 524.1,68.3 524.9,68.4" fill="none" stroke="#000000" stroke-width="1.8" stroke-linejoin="round" stroke-dasharray="5.5,4"/>
<line x1="542.10" y1="56.25" x2="597.12" y2="56.25" stroke="#eeeeee" stroke-width="1"/>
<line x1="542.10" y1="38.25" x2="597.12" y2="38.25" stroke="#eeeeee" stroke-width="1"/>
<line x1="542.10" y1="20.25" x2="597.12" y2="20.25" stroke="#eeeeee" stroke-width="1"/>
<line x1="563.10" y1="20.25" x2="563.10" y2="74.25" stroke="#eeeeee" stroke-width="1"/>
<line x1="584.10" y1="20.25" x2="584.10" y2="74.25" stroke="#eeeeee" stroke-width="1"/>
<line x1="542.10" y1="20.25" x2="542.10" y2="74.25" stroke="#b0b0b0" stroke-width="1.4"/>
<line x1="542.10" y1="74.25" x2="597.92" y2="74.25" stroke="#b0b0b0" stroke-width="1.4"/>
<line x1="542.10" y1="56.25" x2="543.70" y2="56.25" stroke="#b0b0b0" stroke-width="0.8"/>
<line x1="542.10" y1="38.25" x2="543.70" y2="38.25" stroke="#b0b0b0" stroke-width="0.8"/>
<line x1="542.10" y1="20.25" x2="543.70" y2="20.25" stroke="#b0b0b0" stroke-width="0.8"/>
<line x1="563.10" y1="74.25" x2="563.10" y2="72.65" stroke="#b0b0b0" stroke-width="0.8"/>
<line x1="584.10" y1="74.25" x2="584.10" y2="72.65" stroke="#b0b0b0" stroke-width="0.8"/>
<text x="540.30" y="77.43" font-size="6.9" text-anchor="end" fill="#262626">0</text>
<text x="540.30" y="59.43" font-size="6.9" text-anchor="end" fill="#262626">1</text>
<text x="540.30" y="41.43" font-size="6.9" text-anchor="end" fill="#262626">2</text>
<text x="540.30" y="23.43" font-size="6.9" text-anchor="end" fill="#262626">3</text>
<text x="542.10" y="82.52" font-size="6.9" text-anchor="middle" fill="#262626">0</text>
<text x="563.10" y="82.52" font-size="6.9" text-anchor="middle" fill="#262626">100</text>
<text x="584.10" y="82.52" font-size="6.9" text-anchor="middle" fill="#262626">200</text>
<text x="569.61" y="16.90" font-size="7.45" font-weight="bold" text-anchor="middle" fill="#000">150, 60 %</text>
<polyline points="542.1,74.2 542.3,74.2 542.5,74.2 542.7,74.2 542.9,74.2 543.1,74.2 543.4,74.2 543.6,74.2 543.8,74.2 544.0,74.2 544.2,74.2 544.4,74.2 544.6,74.2 544.8,74.2 545.0,74.2 545.2,74.2 545.5,74.2 545.7,74.2 545.9,74.2 546.1,74.2 546.3,74.2 546.5,74.2 546.7,74.2 546.9,74.2 547.1,74.2 547.4,74.2 547.6,74.2 547.8,74.2 548.0,74.2 548.2,74.2 548.4,74.2 548.6,74.1 548.8,73.7 549.0,73.1 549.2,72.3 549.5,71.3 549.7,70.3 549.9,69.2 550.1,68.1 550.3,67.0 550.5,65.6 550.7,64.1 550.9,62.3 551.1,60.5 551.3,58.6 551.6,56.9 551.8,55.3 552.0,53.7 552.2,52.1 552.4,50.4 552.6,48.9 552.8,47.5 553.0,46.3 553.2,45.4 553.4,44.8 553.6,44.1 553.9,43.6 554.1,43.1 554.3,42.9 554.5,42.8 554.7,42.8 554.9,42.9 555.1,43.0 555.3,43.2 555.5,43.4 555.8,43.6 556.0,43.9 556.2,44.2 556.4,44.4 556.6,44.7 556.8,44.9 557.0,45.1 557.2,45.4 557.4,45.6 557.6,45.9 557.9,46.2 558.1,46.5 558.3,46.7 558.5,47.0 558.7,47.3 558.9,47.6 559.1,47.9 559.3,48.3 559.5,48.6 559.7,48.9 560.0,49.2 560.2,49.5 560.4,49.8 560.6,50.1 560.8,50.5 561.0,50.8 561.2,51.1 561.4,51.4 561.6,51.7 561.8,52.0 562.1,52.2 562.3,52.5 562.5,52.8 562.7,53.1 562.9,53.3 563.1,53.5 563.3,53.8 563.5,54.0 563.7,54.3 563.9,54.5 564.1,54.7 564.4,54.9 564.6,55.2 564.8,55.4 565.0,55.6 565.2,55.9 566.2,57.0 567.3,58.0 568.4,59.1 569.4,60.0 570.5,60.9 571.5,61.8 572.6,62.6 573.6,63.3 574.6,63.9 575.7,64.5 576.8,65.1 577.8,65.7 578.9,66.2 579.9,66.7 581.0,67.2 582.0,67.6 583.1,68.0 584.1,68.3 585.1,68.6 586.2,68.9 587.2,69.2 588.3,69.5 589.4,69.7 590.4,70.0 591.5,70.2 592.5,70.4 593.6,70.6 594.6,70.8 595.6,70.9 596.7,71.1 597.8,71.2 598.5,71.3" fill="none" stroke="#0000ff" stroke-width="1.2" stroke-linejoin="round"/>
<polyline points="542.1,74.2 542.3,74.2 542.5,74.2 542.7,74.2 542.9,74.2 543.1,74.2 543.4,74.2 543.6,74.2 543.8,74.2 544.0,74.2 544.2,74.2 544.4,74.2 544.6,74.2 544.8,74.2 545.0,74.2 545.2,74.2 545.5,74.2 545.7,74.2 545.9,74.2 546.1,74.2 546.3,74.2 546.5,74.2 546.7,74.2 546.9,74.2 547.1,74.2 547.4,74.2 547.6,74.2 547.8,74.2 548.0,74.2 548.2,74.2 548.4,74.2 548.6,74.2 548.8,73.9 549.0,73.5 549.2,73.0 549.5,72.4 549.7,71.7 549.9,71.0 550.1,70.2 550.3,69.4 550.5,68.6 550.7,67.7 550.9,66.7 551.1,65.5 551.3,64.3 551.6,63.0 551.8,61.7 552.0,60.4 552.2,59.3 552.4,58.2 552.6,57.1 552.8,55.9 553.0,54.8 553.2,53.7 553.4,52.7 553.6,51.9 553.9,51.3 554.1,50.8 554.3,50.3 554.5,49.9 554.7,49.6 554.9,49.3 555.1,49.1 555.3,49.0 555.5,49.1 555.8,49.1 556.0,49.2 556.2,49.3 556.4,49.4 556.6,49.5 556.8,49.6 557.0,49.7 557.2,49.8 557.4,49.9 557.6,50.0 557.9,50.2 558.1,50.3 558.3,50.5 558.5,50.6 558.7,50.8 558.9,50.9 559.1,51.1 559.3,51.2 559.5,51.4 559.7,51.6 560.0,51.8 560.2,51.9 560.4,52.1 560.6,52.3 560.8,52.5 561.0,52.7 561.2,52.8 561.4,53.0 561.6,53.2 561.8,53.4 562.1,53.6 562.3,53.8 562.5,53.9 562.7,54.1 562.9,54.3 563.1,54.5 563.3,54.6 563.5,54.8 563.7,55.0 563.9,55.1 564.1,55.3 564.4,55.5 564.6,55.7 564.8,55.9 565.0,56.1 565.2,56.2 566.2,57.2 567.3,58.2 568.4,59.1 569.4,60.1 570.5,61.0 571.5,61.8 572.6,62.6 573.6,63.3 574.6,63.9 575.7,64.5 576.8,65.1 577.8,65.6 578.9,66.1 579.9,66.6 581.0,67.0 582.0,67.4 583.1,67.8 584.1,68.1 585.1,68.4 586.2,68.7 587.2,69.0 588.3,69.2 589.4,69.4 590.4,69.7 591.5,69.9 592.5,70.1 593.6,70.2 594.6,70.4 595.6,70.6 596.7,70.7 597.8,70.8 598.5,70.9" fill="none" stroke="#00ffff" stroke-width="1.2" stroke-linejoin="round"/>
<polyline points="542.1,74.2 542.3,74.2 542.5,74.2 542.7,74.2 542.9,74.2 543.1,74.2 543.4,74.2 543.6,74.2 543.8,74.2 544.0,74.2 544.2,74.2 544.4,74.2 544.6,74.2 544.8,74.2 545.0,74.2 545.2,74.2 545.5,74.2 545.7,74.2 545.9,74.2 546.1,74.2 546.3,74.2 546.5,74.2 546.7,74.2 546.9,74.2 547.1,74.2 547.4,74.2 547.6,74.2 547.8,74.2 548.0,74.2 548.2,74.2 548.4,74.2 548.6,74.1 548.8,73.7 549.0,73.1 549.2,72.3 549.5,71.4 549.7,70.3 549.9,69.3 550.1,68.2 550.3,67.1 550.5,65.7 550.7,64.2 550.9,62.4 551.1,60.6 551.3,58.8 551.6,57.1 551.8,55.5 552.0,53.9 552.2,52.3 552.4,50.7 552.6,49.2 552.8,47.8 553.0,46.6 553.2,45.7 553.4,45.1 553.6,44.5 553.9,43.9 554.1,43.5 554.3,43.2 554.5,43.1 554.7,43.1 554.9,43.2 555.1,43.3 555.3,43.5 555.5,43.6 555.8,43.8 556.0,44.0 556.2,44.3 556.4,44.5 556.6,44.7 556.8,44.9 557.0,45.1 557.2,45.3 557.4,45.6 557.6,45.8 557.9,46.1 558.1,46.4 558.3,46.6 558.5,46.9 558.7,47.2 558.9,47.5 559.1,47.8 559.3,48.1 559.5,48.5 559.7,48.8 560.0,49.1 560.2,49.4 560.4,49.7 560.6,50.1 560.8,50.4 561.0,50.7 561.2,51.0 561.4,51.3 561.6,51.6 561.8,51.9 562.1,52.2 562.3,52.5 562.5,52.8 562.7,53.1 562.9,53.3 563.1,53.5 563.3,53.8 563.5,54.0 563.7,54.3 563.9,54.5 564.1,54.7 564.4,54.9 564.6,55.2 564.8,55.4 565.0,55.6 565.2,55.9 566.2,57.0 567.3,58.0 568.4,59.1 569.4,60.0 570.5,60.9 571.5,61.8 572.6,62.6 573.6,63.3 574.6,63.9 575.7,64.5 576.8,65.1 577.8,65.7 578.9,66.2 579.9,66.7 581.0,67.2 582.0,67.6 583.1,68.0 584.1,68.3 585.1,68.6 586.2,68.9 587.2,69.2 588.3,69.5 589.4,69.7 590.4,70.0 591.5,70.2 592.5,70.4 593.6,70.6 594.6,70.8 595.6,70.9 596.7,71.1 597.8,71.2 598.5,71.3" fill="none" stroke="#00ff00" stroke-width="1.8" stroke-linejoin="round"/>
<polyline points="542.1,74.2 542.3,74.2 542.5,74.2 542.7,74.2 542.9,74.2 543.1,74.2 543.4,74.2 543.6,74.2 543.8,74.2 544.0,74.2 544.2,74.2 544.4,74.2 544.6,74.2 544.8,74.2 545.0,74.2 545.2,74.2 545.5,74.2 545.7,74.2 545.9,74.2 546.1,74.2 546.3,74.2 546.5,74.2 546.7,74.2 546.9,74.2 547.1,74.2 547.4,74.2 547.6,74.2 547.8,74.2 548.0,74.2 548.2,74.2 548.4,74.2 548.6,74.2 548.8,73.9 549.0,73.5 549.2,73.0 549.5,72.4 549.7,71.7 549.9,71.0 550.1,70.2 550.3,69.5 550.5,68.7 550.7,67.8 550.9,66.8 551.1,65.6 551.3,64.4 551.6,63.1 551.8,61.9 552.0,60.6 552.2,59.5 552.4,58.4 552.6,57.3 552.8,56.2 553.0,55.1 553.2,54.0 553.4,53.0 553.6,52.2 553.9,51.6 554.1,51.1 554.3,50.7 554.5,50.3 554.7,49.9 554.9,49.7 555.1,49.5 555.3,49.4 555.5,49.4 555.8,49.4 556.0,49.5 556.2,49.5 556.4,49.5 556.6,49.6 556.8,49.6 557.0,49.6 557.2,49.7 557.4,49.8 557.6,49.9 557.9,50.0 558.1,50.1 558.3,50.2 558.5,50.3 558.7,50.5 558.9,50.6 559.1,50.8 559.3,51.0 559.5,51.2 559.7,51.3 560.0,51.5 560.2,51.7 560.4,51.9 560.6,52.1 560.8,52.3 561.0,52.5 561.2,52.7 561.4,52.9 561.6,53.1 561.8,53.3 562.1,53.5 562.3,53.7 562.5,53.9 562.7,54.1 562.9,54.3 563.1,54.5 563.3,54.6 563.5,54.8 563.7,55.0 563.9,55.1 564.1,55.3 564.4,55.5 564.6,55.7 564.8,55.9 565.0,56.1 565.2,56.2 566.2,57.2 567.3,58.2 568.4,59.1 569.4,60.1 570.5,61.0 571.5,61.8 572.6,62.6 573.6,63.3 574.6,63.9 575.7,64.5 576.8,65.1 577.8,65.6 578.9,66.1 579.9,66.6 581.0,67.0 582.0,67.4 583.1,67.8 584.1,68.1 585.1,68.4 586.2,68.7 587.2,69.0 588.3,69.2 589.4,69.4 590.4,69.7 591.5,69.9 592.5,70.1 593.6,70.2 594.6,70.4 595.6,70.6 596.7,70.7 597.8,70.8 598.5,70.9" fill="none" stroke="#000000" stroke-width="1.8" stroke-linejoin="round" stroke-dasharray="5.5,4"/>
<line x1="615.40" y1="56.25" x2="670.42" y2="56.25" stroke="#eeeeee" stroke-width="1"/>
<line x1="615.40" y1="38.25" x2="670.42" y2="38.25" stroke="#eeeeee" stroke-width="1"/>
<line x1="615.40" y1="20.25" x2="670.42" y2="20.25" stroke="#eeeeee" stroke-width="1"/>
<line x1="636.40" y1="20.25" x2="636.40" y2="74.25" stroke="#eeeeee" stroke-width="1"/>
<line x1="657.40" y1="20.25" x2="657.40" y2="74.25" stroke="#eeeeee" stroke-width="1"/>
<line x1="615.40" y1="20.25" x2="615.40" y2="74.25" stroke="#b0b0b0" stroke-width="1.4"/>
<line x1="615.40" y1="74.25" x2="671.22" y2="74.25" stroke="#b0b0b0" stroke-width="1.4"/>
<line x1="615.40" y1="56.25" x2="617.00" y2="56.25" stroke="#b0b0b0" stroke-width="0.8"/>
<line x1="615.40" y1="38.25" x2="617.00" y2="38.25" stroke="#b0b0b0" stroke-width="0.8"/>
<line x1="615.40" y1="20.25" x2="617.00" y2="20.25" stroke="#b0b0b0" stroke-width="0.8"/>
<line x1="636.40" y1="74.25" x2="636.40" y2="72.65" stroke="#b0b0b0" stroke-width="0.8"/>
<line x1="657.40" y1="74.25" x2="657.40" y2="72.65" stroke="#b0b0b0" stroke-width="0.8"/>
<text x="613.60" y="77.43" font-size="6.9" text-anchor="end" fill="#262626">0</text>
<text x="613.60" y="59.43" font-size="6.9" text-anchor="end" fill="#262626">1</text>
<text x="613.60" y="41.43" font-size="6.9" text-anchor="end" fill="#262626">2</text>
<text x="613.60" y="23.43" font-size="6.9" text-anchor="end" fill="#262626">3</text>
<text x="615.40" y="82.52" font-size="6.9" text-anchor="middle" fill="#262626">0</text>
<text x="636.40" y="82.52" font-size="6.9" text-anchor="middle" fill="#262626">100</text>
<text x="657.40" y="82.52" font-size="6.9" text-anchor="middle" fill="#262626">200</text>
<text x="642.91" y="16.90" font-size="7.45" font-weight="bold" text-anchor="middle" fill="#000">150, 80 %</text>
<polyline points="615.4,74.2 615.6,74.2 615.8,74.2 616.0,74.2 616.2,74.2 616.4,74.2 616.7,74.2 616.9,74.2 617.1,74.2 617.3,74.2 617.5,74.2 617.7,74.2 617.9,74.2 618.1,74.2 618.3,74.2 618.5,74.2 618.8,74.2 619.0,74.2 619.2,74.2 619.4,74.2 619.6,74.2 619.8,74.2 620.0,74.2 620.2,74.2 620.4,74.2 620.6,74.2 620.9,74.2 621.1,74.2 621.3,74.1 621.5,73.7 621.7,73.1 621.9,72.3 622.1,71.3 622.3,70.2 622.5,69.0 622.8,67.8 623.0,66.6 623.2,65.4 623.4,63.9 623.6,62.2 623.8,60.3 624.0,58.3 624.2,56.3 624.4,54.3 624.6,52.5 624.9,50.8 625.1,49.0 625.3,47.3 625.5,45.5 625.7,43.8 625.9,42.2 626.1,40.9 626.3,39.8 626.5,39.0 626.7,38.3 626.9,37.7 627.2,37.1 627.4,36.7 627.6,36.4 627.8,36.3 628.0,36.3 628.2,36.5 628.4,36.7 628.6,36.9 628.8,37.2 629.0,37.6 629.3,38.0 629.5,38.4 629.7,38.8 629.9,39.2 630.1,39.5 630.3,39.9 630.5,40.2 630.7,40.6 630.9,41.0 631.1,41.5 631.4,41.9 631.6,42.3 631.8,42.8 632.0,43.3 632.2,43.8 632.4,44.2 632.6,44.7 632.8,45.2 633.0,45.7 633.2,46.2 633.5,46.7 633.7,47.2 633.9,47.7 634.1,48.2 634.3,48.7 634.5,49.1 634.7,49.6 634.9,50.0 635.1,50.4 635.4,50.9 635.6,51.3 635.8,51.6 636.0,52.0 636.2,52.3 636.4,52.7 636.6,53.0 636.8,53.3 637.0,53.5 637.2,53.8 637.4,54.1 637.7,54.4 637.9,54.7 638.1,55.0 638.3,55.3 638.5,55.5 639.5,56.9 640.6,58.1 641.6,59.3 642.7,60.4 643.8,61.4 644.8,62.3 645.9,63.1 646.9,63.8 647.9,64.5 649.0,65.1 650.0,65.6 651.1,66.2 652.1,66.7 653.2,67.1 654.2,67.5 655.3,67.9 656.4,68.3 657.4,68.7 658.4,69.0 659.5,69.4 660.5,69.7 661.6,70.0 662.6,70.3 663.7,70.7 664.8,70.9 665.8,71.2 666.9,71.4 667.9,71.7 668.9,71.8 670.0,72.0 671.0,72.1 671.8,72.1" fill="none" stroke="#0000ff" stroke-width="1.2" stroke-linejoin="round"/>
<polyline points="615.4,74.2 615.6,74.2 615.8,74.2 616.0,74.2 616.2,74.2 616.4,74.2 616.7,74.2 616.9,74.2 617.1,74.2 617.3,74.2 617.5,74.2 617.7,74.2 617.9,74.2 618.1,74.2 618.3,74.2 618.5,74.2 618.8,74.2 619.0,74.2 619.2,74.2 619.4,74.2 619.6,74.2 619.8,74.2 620.0,74.2 620.2,74.2 620.4,74.2 620.6,74.2 620.9,74.2 621.1,74.2 621.3,74.2 621.5,74.1 621.7,73.8 621.9,73.3 622.1,72.6 622.3,71.8 622.5,70.9 622.8,69.9 623.0,69.0 623.2,68.0 623.4,66.9 623.6,65.6 623.8,64.1 624.0,62.5 624.2,60.9 624.4,59.3 624.6,57.9 624.9,56.5 625.1,55.1 625.3,53.7 625.5,52.3 625.7,51.0 625.9,49.8 626.1,48.8 626.3,48.1 626.5,47.5 626.7,47.0 626.9,46.5 627.2,46.1 627.4,45.9 627.6,45.8 627.8,45.8 628.0,45.9 628.2,46.0 628.4,46.1 628.6,46.2 628.8,46.3 629.0,46.5 629.3,46.6 629.5,46.8 629.7,46.9 629.9,47.1 630.1,47.2 630.3,47.4 630.5,47.5 630.7,47.7 630.9,47.8 631.1,48.0 631.4,48.2 631.6,48.3 631.8,48.5 632.0,48.7 632.2,48.8 632.4,49.0 632.6,49.2 632.8,49.4 633.0,49.5 633.2,49.7 633.5,49.9 633.7,50.1 633.9,50.3 634.1,50.5 634.3,50.7 634.5,50.9 634.7,51.1 634.9,51.3 635.1,51.5 635.4,51.7 635.6,51.9 635.8,52.1 636.0,52.3 636.2,52.5 636.4,52.7 636.6,52.9 636.8,53.1 637.0,53.3 637.2,53.5 637.4,53.7 637.7,53.9 637.9,54.2 638.1,54.4 638.3,54.6 638.5,54.9 639.5,56.1 640.6,57.4 641.6,58.6 642.7,59.9 643.8,61.1 644.8,62.1 645.9,63.1 646.9,63.8 647.9,64.4 649.0,65.0 650.0,65.6 651.1,66.1 652.1,66.5 653.2,67.0 654.2,67.4 655.3,67.8 656.4,68.1 657.4,68.5 658.4,68.8 659.5,69.2 660.5,69.5 661.6,69.8 662.6,70.2 663.7,70.5 664.8,70.7 665.8,71.0 666.9,71.2 667.9,71.5 668.9,71.6 670.0,71.8 671.0,71.9 671.8,72.0" fill="none" stroke="#00ffff" stroke-width="1.2" stroke-linejoin="round"/>
<polyline points="615.4,74.2 615.6,74.2 615.8,74.2 616.0,74.2 616.2,74.2 616.4,74.2 616.7,74.2 616.9,74.2 617.1,74.2 617.3,74.2 617.5,74.2 617.7,74.2 617.9,74.2 618.1,74.2 618.3,74.2 618.5,74.2 618.8,74.2 619.0,74.2 619.2,74.2 619.4,74.2 619.6,74.2 619.8,74.2 620.0,74.2 620.2,74.2 620.4,74.2 620.6,74.2 620.9,74.2 621.1,74.2 621.3,74.1 621.5,73.7 621.7,73.1 621.9,72.3 622.1,71.3 622.3,70.3 622.5,69.1 622.8,67.9 623.0,66.7 623.2,65.5 623.4,64.1 623.6,62.4 623.8,60.5 624.0,58.6 624.2,56.6 624.4,54.6 624.6,52.8 624.9,51.1 625.1,49.4 625.3,47.6 625.5,45.9 625.7,44.2 625.9,42.7 626.1,41.4 626.3,40.3 626.5,39.5 626.7,38.8 626.9,38.2 627.2,37.6 627.4,37.2 627.6,36.9 627.8,36.8 628.0,36.8 628.2,37.0 628.4,37.1 628.6,37.3 628.8,37.6 629.0,37.9 629.3,38.2 629.5,38.5 629.7,38.9 629.9,39.2 630.1,39.5 630.3,39.8 630.5,40.2 630.7,40.5 630.9,40.9 631.1,41.3 631.4,41.7 631.6,42.2 631.8,42.6 632.0,43.1 632.2,43.6 632.4,44.1 632.6,44.6 632.8,45.1 633.0,45.6 633.2,46.1 633.5,46.6 633.7,47.1 633.9,47.6 634.1,48.1 634.3,48.6 634.5,49.0 634.7,49.5 634.9,50.0 635.1,50.4 635.4,50.8 635.6,51.2 635.8,51.6 636.0,52.0 636.2,52.3 636.4,52.7 636.6,53.0 636.8,53.3 637.0,53.5 637.2,53.8 637.4,54.1 637.7,54.4 637.9,54.7 638.1,55.0 638.3,55.3 638.5,55.5 639.5,56.9 640.6,58.1 641.6,59.3 642.7,60.4 643.8,61.4 644.8,62.3 645.9,63.1 646.9,63.8 647.9,64.5 649.0,65.1 650.0,65.6 651.1,66.2 652.1,66.7 653.2,67.1 654.2,67.5 655.3,67.9 656.4,68.3 657.4,68.7 658.4,69.0 659.5,69.4 660.5,69.7 661.6,70.0 662.6,70.3 663.7,70.7 664.8,70.9 665.8,71.2 666.9,71.4 667.9,71.7 668.9,71.8 670.0,72.0 671.0,72.1 671.8,72.1" fill="none" stroke="#00ff00" stroke-width="1.8" stroke-linejoin="round"/>
<polyline points="615.4,74.2 615.6,74.2 615.8,74.2 616.0,74.2 616.2,74.2 616.4,74.2 616.7,74.2 616.9,74.2 617.1,74.2 617.3,74.2 617.5,74.2 617.7,74.2 617.9,74.2 618.1,74.2 618.3,74.2 618.5,74.2 618.8,74.2 619.0,74.2 619.2,74.2 619.4,74.2 619.6,74.2 619.8,74.2 620.0,74.2 620.2,74.2 620.4,74.2 620.6,74.2 620.9,74.2 621.1,74.2 621.3,74.2 621.5,74.1 621.7,73.8 621.9,73.3 622.1,72.6 622.3,71.8 622.5,70.9 622.8,70.0 623.0,69.0 623.2,68.1 623.4,67.0 623.6,65.7 623.8,64.2 624.0,62.7 624.2,61.1 624.4,59.5 624.6,58.1 624.9,56.7 625.1,55.4 625.3,53.9 625.5,52.6 625.7,51.2 625.9,50.1 626.1,49.1 626.3,48.4 626.5,47.9 626.7,47.3 626.9,46.9 627.2,46.5 627.4,46.3 627.6,46.2 627.8,46.2 628.0,46.2 628.2,46.3 628.4,46.3 628.6,46.4 628.8,46.5 629.0,46.6 629.3,46.8 629.5,46.9 629.7,47.0 629.9,47.1 630.1,47.2 630.3,47.4 630.5,47.5 630.7,47.6 630.9,47.8 631.1,47.9 631.4,48.1 631.6,48.2 631.8,48.4 632.0,48.5 632.2,48.7 632.4,48.9 632.6,49.1 632.8,49.3 633.0,49.4 633.2,49.6 633.5,49.8 633.7,50.0 633.9,50.2 634.1,50.4 634.3,50.6 634.5,50.8 634.7,51.0 634.9,51.2 635.1,51.4 635.4,51.6 635.6,51.8 635.8,52.0 636.0,52.3 636.2,52.5 636.4,52.7 636.6,52.9 636.8,53.1 637.0,53.3 637.2,53.5 637.4,53.7 637.7,53.9 637.9,54.2 638.1,54.4 638.3,54.6 638.5,54.9 639.5,56.1 640.6,57.4 641.6,58.6 642.7,59.9 643.8,61.1 644.8,62.1 645.9,63.1 646.9,63.8 647.9,64.4 649.0,65.0 650.0,65.6 651.1,66.1 652.1,66.5 653.2,67.0 654.2,67.4 655.3,67.8 656.4,68.1 657.4,68.5 658.4,68.8 659.5,69.2 660.5,69.5 661.6,69.8 662.6,70.2 663.7,70.5 664.8,70.7 665.8,71.0 666.9,71.2 667.9,71.5 668.9,71.6 670.0,71.8 671.0,71.9 671.8,72.0" fill="none" stroke="#000000" stroke-width="1.8" stroke-linejoin="round" stroke-dasharray="5.5,4"/>
<line x1="394.90" y1="136.25" x2="449.92" y2="136.25" stroke="#eeeeee" stroke-width="1"/>
<line x1="394.90" y1="118.25" x2="449.92" y2="118.25" stroke="#eeeeee" stroke-width="1"/>
<line x1="394.90" y1="100.25" x2="449.92" y2="100.25" stroke="#eeeeee" stroke-width="1"/>
<line x1="415.90" y1="100.25" x2="415.90" y2="154.25" stroke="#eeeeee" stroke-width="1"/>
<line x1="436.90" y1="100.25" x2="436.90" y2="154.25" stroke="#eeeeee" stroke-width="1"/>
<line x1="394.90" y1="100.25" x2="394.90" y2="154.25" stroke="#b0b0b0" stroke-width="1.4"/>
<line x1="394.90" y1="154.25" x2="450.72" y2="154.25" stroke="#b0b0b0" stroke-width="1.4"/>
<line x1="394.90" y1="136.25" x2="396.50" y2="136.25" stroke="#b0b0b0" stroke-width="0.8"/>
<line x1="394.90" y1="118.25" x2="396.50" y2="118.25" stroke="#b0b0b0" stroke-width="0.8"/>
<line x1="394.90" y1="100.25" x2="396.50" y2="100.25" stroke="#b0b0b0" stroke-width="0.8"/>
<line x1="415.90" y1="154.25" x2="415.90" y2="152.65" stroke="#b0b0b0" stroke-width="0.8"/>
<line x1="436.90" y1="154.25" x2="436.90" y2="152.65" stroke="#b0b0b0" stroke-width="0.8"/>
<text x="393.10" y="157.43" font-size="6.9" text-anchor="end" fill="#262626">0</text>
<text x="393.10" y="139.43" font-size="6.9" text-anchor="end" fill="#262626">1</text>
<text x="393.10" y="121.43" font-size="6.9" text-anchor="end" fill="#262626">2</text>
<text x="393.10" y="103.43" font-size="6.9" text-anchor="end" fill="#262626">3</text>
<text x="394.90" y="162.52" font-size="6.9" text-anchor="middle" fill="#262626">0</text>
<text x="415.90" y="162.52" font-size="6.9" text-anchor="middle" fill="#262626">100</text>
<text x="436.90" y="162.52" font-size="6.9" text-anchor="middle" fill="#262626">200</text>
<text x="422.41" y="96.90" font-size="7.45" font-weight="bold" text-anchor="middle" fill="#000">200, 20 %</text>
<polyline points="394.9,154.2 395.1,154.2 395.3,154.2 395.5,154.2 395.7,154.2 395.9,154.2 396.2,154.2 396.4,154.2 396.6,154.2 396.8,154.2 397.0,154.2 397.2,154.2 397.4,154.2 397.6,154.2 397.8,154.2 398.0,154.2 398.3,154.2 398.5,154.2 398.7,154.2 398.9,154.2 399.1,154.2 399.3,154.2 399.5,154.2 399.7,154.2 399.9,154.2 400.1,154.2 400.4,154.2 400.6,154.2 400.8,153.9 401.0,153.1 401.2,152.0 401.4,150.9 401.6,149.8 401.8,148.6 402.0,147.3 402.2,146.1 402.5,145.0 402.7,144.0 402.9,143.0 403.1,142.2 403.3,141.3 403.5,140.5 403.7,140.2 403.9,140.2 404.1,140.2 404.3,140.3 404.6,140.3 404.8,140.4 405.0,140.5 405.2,140.6 405.4,140.7 405.6,140.8 405.8,140.9 406.0,141.0 406.2,141.2 406.4,141.3 406.7,141.4 406.9,141.6 407.1,141.7 407.3,141.9 407.5,142.0 407.7,142.1 407.9,142.3 408.1,142.4 408.3,142.5 408.5,142.6 408.8,142.8 409.0,142.9 409.2,142.9 409.4,143.0 409.6,143.1 409.8,143.1 410.0,143.2 410.2,143.3 410.4,143.3 410.6,143.4 410.9,143.4 411.1,143.5 411.3,143.5 411.5,143.5 411.7,143.6 411.9,143.6 412.1,143.7 412.3,143.7 412.5,143.7 412.8,143.8 413.0,143.8 413.2,143.8 413.4,143.9 413.6,143.9 413.8,143.9 414.0,144.0 414.2,144.0 414.4,144.1 414.6,144.1 414.8,144.1 415.1,144.2 415.3,144.2 415.5,144.3 415.7,144.3 415.9,144.3 416.1,144.4 416.3,144.4 416.5,144.5 416.7,144.6 416.9,144.6 417.2,144.7 417.4,144.7 417.6,144.8 417.8,144.8 418.0,144.9 419.0,145.2 420.1,145.5 421.1,145.8 422.2,146.1 423.2,146.4 424.3,146.7 425.3,147.0 426.4,147.2 427.4,147.4 428.5,147.7 429.5,147.9 430.6,148.0 431.6,148.2 432.7,148.4 433.8,148.6 434.8,148.7 435.8,148.9 436.9,149.0 437.9,149.2 439.0,149.3 440.0,149.4 441.1,149.5 442.1,149.6 443.2,149.7 444.2,149.8 445.3,149.9 446.3,150.0 447.4,150.1 448.4,150.3 449.5,150.4 450.5,150.5 451.3,150.5" fill="none" stroke="#0000ff" stroke-width="1.2" stroke-linejoin="round"/>
<polyline points="394.9,154.2 395.1,154.2 395.3,154.2 395.5,154.2 395.7,154.2 395.9,154.2 396.2,154.2 396.4,154.2 396.6,154.2 396.8,154.2 397.0,154.2 397.2,154.2 397.4,154.2 397.6,154.2 397.8,154.2 398.0,154.2 398.3,154.2 398.5,154.2 398.7,154.2 398.9,154.2 399.1,154.2 399.3,154.2 399.5,154.2 399.7,154.2 399.9,154.2 400.1,154.2 400.4,154.2 400.6,154.2 400.8,154.2 401.0,154.0 401.2,153.5 401.4,152.7 401.6,151.9 401.8,151.1 402.0,150.3 402.2,149.4 402.5,148.5 402.7,147.6 402.9,146.8 403.1,146.1 403.3,145.4 403.5,144.7 403.7,144.1 403.9,143.5 404.1,142.9 404.3,142.7 404.6,142.7 404.8,142.8 405.0,142.8 405.2,142.8 405.4,142.9 405.6,143.0 405.8,143.1 406.0,143.2 406.2,143.3 406.4,143.4 406.7,143.5 406.9,143.6 407.1,143.7 407.3,143.8 407.5,143.9 407.7,144.0 407.9,144.1 408.1,144.2 408.3,144.3 408.5,144.4 408.8,144.5 409.0,144.6 409.2,144.6 409.4,144.7 409.6,144.7 409.8,144.7 410.0,144.8 410.2,144.8 410.4,144.8 410.6,144.8 410.9,144.9 411.1,144.9 411.3,144.9 411.5,144.9 411.7,144.9 411.9,144.9 412.1,145.0 412.3,145.0 412.5,145.0 412.8,145.0 413.0,145.0 413.2,145.0 413.4,145.0 413.6,145.1 413.8,145.1 414.0,145.1 414.2,145.1 414.4,145.1 414.6,145.1 414.8,145.1 415.1,145.2 415.3,145.2 415.5,145.2 415.7,145.2 415.9,145.2 416.1,145.3 416.3,145.3 416.5,145.3 416.7,145.4 416.9,145.4 417.2,145.4 417.4,145.5 417.6,145.5 417.8,145.5 418.0,145.6 419.0,145.8 420.1,146.0 421.1,146.2 422.2,146.4 423.2,146.7 424.3,146.9 425.3,147.1 426.4,147.3 427.4,147.5 428.5,147.7 429.5,147.9 430.6,148.1 431.6,148.2 432.7,148.4 433.8,148.6 434.8,148.7 435.8,148.9 436.9,149.0 437.9,149.2 439.0,149.3 440.0,149.4 441.1,149.5 442.1,149.6 443.2,149.7 444.2,149.8 445.3,149.9 446.3,150.0 447.4,150.1 448.4,150.3 449.5,150.4 450.5,150.5 451.3,150.5" fill="none" stroke="#00ffff" stroke-width="1.2" stroke-linejoin="round"/>
<polyline points="394.9,154.2 395.1,154.2 395.3,154.2 395.5,154.2 395.7,154.2 395.9,154.2 396.2,154.2 396.4,154.2 396.6,154.2 396.8,154.2 397.0,154.2 397.2,154.2 397.4,154.2 397.6,154.2 397.8,154.2 398.0,154.2 398.3,154.2 398.5,154.2 398.7,154.2 398.9,154.2 399.1,154.2 399.3,154.2 399.5,154.2 399.7,154.2 399.9,154.2 400.1,154.2 400.4,154.2 400.6,154.2 400.8,153.9 401.0,153.2 401.2,152.1 401.4,151.0 401.6,150.0 401.8,148.8 402.0,147.6 402.2,146.4 402.5,145.4 402.7,144.4 402.9,143.5 403.1,142.6 403.3,141.8 403.5,141.1 403.7,140.8 403.9,140.8 404.1,140.8 404.3,140.8 404.6,140.9 404.8,140.9 405.0,141.0 405.2,141.0 405.4,141.1 405.6,141.2 405.8,141.3 406.0,141.4 406.2,141.5 406.4,141.6 406.7,141.7 406.9,141.8 407.1,141.9 407.3,142.1 407.5,142.2 407.7,142.3 407.9,142.4 408.1,142.5 408.3,142.6 408.5,142.7 408.8,142.8 409.0,142.9 409.2,143.0 409.4,143.0 409.6,143.1 409.8,143.1 410.0,143.2 410.2,143.2 410.4,143.3 410.6,143.3 410.9,143.4 411.1,143.4 411.3,143.5 411.5,143.5 411.7,143.6 411.9,143.6 412.1,143.6 412.3,143.7 412.5,143.7 412.8,143.8 413.0,143.8 413.2,143.8 413.4,143.9 413.6,143.9 413.8,143.9 414.0,144.0 414.2,144.0 414.4,144.0 414.6,144.1 414.8,144.1 415.1,144.2 415.3,144.2 415.5,144.3 415.7,144.3 415.9,144.3 416.1,144.4 416.3,144.4 416.5,144.5 416.7,144.6 416.9,144.6 417.2,144.7 417.4,144.7 417.6,144.8 417.8,144.8 418.0,144.9 419.0,145.2 420.1,145.5 421.1,145.8 422.2,146.1 423.2,146.4 424.3,146.7 425.3,147.0 426.4,147.2 427.4,147.4 428.5,147.7 429.5,147.9 430.6,148.0 431.6,148.2 432.7,148.4 433.8,148.6 434.8,148.7 435.8,148.9 436.9,149.0 437.9,149.2 439.0,149.3 440.0,149.4 441.1,149.5 442.1,149.6 443.2,149.7 444.2,149.8 445.3,149.9 446.3,150.0 447.4,150.1 448.4,150.3 449.5,150.4 450.5,150.5 451.3,150.5" fill="none" stroke="#00ff00" stroke-width="1.8" stroke-linejoin="round"/>
<polyline points="394.9,154.2 395.1,154.2 395.3,154.2 395.5,154.2 395.7,154.2 395.9,154.2 396.2,154.2 396.4,154.2 396.6,154.2 396.8,154.2 397.0,154.2 397.2,154.2 397.4,154.2 397.6,154.2 397.8,154.2 398.0,154.2 398.3,154.2 398.5,154.2 398.7,154.2 398.9,154.2 399.1,154.2 399.3,154.2 399.5,154.2 399.7,154.2 399.9,154.2 400.1,154.2 400.4,154.2 400.6,154.2 400.8,154.2 401.0,154.0 401.2,153.5 401.4,152.8 401.6,152.0 401.8,151.2 402.0,150.4 402.2,149.6 402.5,148.7 402.7,147.8 402.9,147.1 403.1,146.3 403.3,145.6 403.5,145.0 403.7,144.4 403.9,143.8 404.1,143.3 404.3,143.1 404.6,143.1 404.8,143.1 405.0,143.1 405.2,143.2 405.4,143.2 405.6,143.3 405.8,143.4 406.0,143.4 406.2,143.5 406.4,143.6 406.7,143.7 406.9,143.8 407.1,143.9 407.3,143.9 407.5,144.0 407.7,144.1 407.9,144.2 408.1,144.3 408.3,144.4 408.5,144.4 408.8,144.5 409.0,144.6 409.2,144.6 409.4,144.7 409.6,144.7 409.8,144.7 410.0,144.8 410.2,144.8 410.4,144.8 410.6,144.8 410.9,144.9 411.1,144.9 411.3,144.9 411.5,144.9 411.7,144.9 411.9,144.9 412.1,145.0 412.3,145.0 412.5,145.0 412.8,145.0 413.0,145.0 413.2,145.0 413.4,145.0 413.6,145.1 413.8,145.1 414.0,145.1 414.2,145.1 414.4,145.1 414.6,145.1 414.8,145.1 415.1,145.2 415.3,145.2 415.5,145.2 415.7,145.2 415.9,145.2 416.1,145.3 416.3,145.3 416.5,145.3 416.7,145.4 416.9,145.4 417.2,145.4 417.4,145.5 417.6,145.5 417.8,145.5 418.0,145.6 419.0,145.8 420.1,146.0 421.1,146.2 422.2,146.4 423.2,146.7 424.3,146.9 425.3,147.1 426.4,147.3 427.4,147.5 428.5,147.7 429.5,147.9 430.6,148.1 431.6,148.2 432.7,148.4 433.8,148.6 434.8,148.7 435.8,148.9 436.9,149.0 437.9,149.2 439.0,149.3 440.0,149.4 441.1,149.5 442.1,149.6 443.2,149.7 444.2,149.8 445.3,149.9 446.3,150.0 447.4,150.1 448.4,150.3 449.5,150.4 450.5,150.5 451.3,150.5" fill="none" stroke="#000000" stroke-width="1.8" stroke-linejoin="round" stroke-dasharray="5.5,4"/>
<line x1="468.50" y1="136.25" x2="523.52" y2="136.25" stroke="#eeeeee" stroke-width="1"/>
<line x1="468.50" y1="118.25" x2="523.52" y2="118.25" stroke="#eeeeee" stroke-width="1"/>
<line x1="468.50" y1="100.25" x2="523.52" y2="100.25" stroke="#eeeeee" stroke-width="1"/>
<line x1="489.50" y1="100.25" x2="489.50" y2="154.25" stroke="#eeeeee" stroke-width="1"/>
<line x1="510.50" y1="100.25" x2="510.50" y2="154.25" stroke="#eeeeee" stroke-width="1"/>
<line x1="468.50" y1="100.25" x2="468.50" y2="154.25" stroke="#b0b0b0" stroke-width="1.4"/>
<line x1="468.50" y1="154.25" x2="524.32" y2="154.25" stroke="#b0b0b0" stroke-width="1.4"/>
<line x1="468.50" y1="136.25" x2="470.10" y2="136.25" stroke="#b0b0b0" stroke-width="0.8"/>
<line x1="468.50" y1="118.25" x2="470.10" y2="118.25" stroke="#b0b0b0" stroke-width="0.8"/>
<line x1="468.50" y1="100.25" x2="470.10" y2="100.25" stroke="#b0b0b0" stroke-width="0.8"/>
<line x1="489.50" y1="154.25" x2="489.50" y2="152.65" stroke="#b0b0b0" stroke-width="0.8"/>
<line x1="510.50" y1="154.25" x2="510.50" y2="152.65" stroke="#b0b0b0" stroke-width="0.8"/>
<text x="466.70" y="157.43" font-size="6.9" text-anchor="end" fill="#262626">0</text>
<text x="466.70" y="139.43" font-size="6.9" text-anchor="end" fill="#262626">1</text>
<text x="466.70" y="121.43" font-size="6.9" text-anchor="end" fill="#262626">2</text>
<text x="466.70" y="103.43" font-size="6.9" text-anchor="end" fill="#262626">3</text>
<text x="468.50" y="162.52" font-size="6.9" text-anchor="middle" fill="#262626">0</text>
<text x="489.50" y="162.52" font-size="6.9" text-anchor="middle" fill="#262626">100</text>
<text x="510.50" y="162.52" font-size="6.9" text-anchor="middle" fill="#262626">200</text>
<text x="496.01" y="96.90" font-size="7.45" font-weight="bold" text-anchor="middle" fill="#000">200, 40 %</text>
<polyline points="468.5,154.2 468.7,154.2 468.9,154.2 469.1,154.2 469.3,154.2 469.6,154.2 469.8,154.2 470.0,154.2 470.2,154.2 470.4,154.2 470.6,154.2 470.8,154.2 471.0,154.2 471.2,154.2 471.4,154.2 471.6,154.2 471.9,154.2 472.1,154.2 472.3,154.2 472.5,154.2 472.7,154.2 472.9,154.2 473.1,154.2 473.3,154.2 473.5,154.2 473.8,154.2 474.0,154.2 474.2,154.1 474.4,153.7 474.6,153.1 474.8,152.4 475.0,151.5 475.2,150.5 475.4,149.6 475.6,148.6 475.9,147.4 476.1,146.0 476.3,144.4 476.5,142.8 476.7,141.2 476.9,139.8 477.1,138.4 477.3,137.0 477.5,135.5 477.7,134.2 477.9,132.9 478.2,132.0 478.4,131.3 478.6,130.7 478.8,130.2 479.0,129.8 479.2,129.5 479.4,129.4 479.6,129.4 479.8,129.5 480.1,129.5 480.3,129.6 480.5,129.7 480.7,129.9 480.9,130.0 481.1,130.2 481.3,130.3 481.5,130.5 481.7,130.7 481.9,130.9 482.1,131.1 482.4,131.3 482.6,131.5 482.8,131.7 483.0,131.9 483.2,132.1 483.4,132.3 483.6,132.5 483.8,132.7 484.0,132.9 484.2,133.2 484.5,133.4 484.7,133.7 484.9,133.9 485.1,134.2 485.3,134.4 485.5,134.7 485.7,135.0 485.9,135.3 486.1,135.5 486.4,135.8 486.6,136.1 486.8,136.4 487.0,136.6 487.2,136.9 487.4,137.2 487.6,137.4 487.8,137.7 488.0,138.0 488.2,138.2 488.4,138.4 488.7,138.7 488.9,138.9 489.1,139.1 489.3,139.3 489.5,139.5 489.7,139.7 489.9,139.8 490.1,140.0 490.3,140.2 490.6,140.4 490.8,140.5 491.0,140.7 491.2,140.9 491.4,141.0 491.6,141.2 492.6,142.0 493.7,142.8 494.8,143.5 495.8,144.1 496.9,144.7 497.9,145.3 498.9,145.9 500.0,146.3 501.1,146.8 502.1,147.2 503.1,147.6 504.2,148.0 505.2,148.3 506.3,148.6 507.4,148.9 508.4,149.2 509.4,149.5 510.5,149.8 511.6,150.0 512.6,150.2 513.6,150.4 514.7,150.7 515.8,150.9 516.8,151.1 517.9,151.3 518.9,151.4 520.0,151.6 521.0,151.8 522.0,151.9 523.1,152.0 524.1,152.1 524.9,152.1" fill="none" stroke="#0000ff" stroke-width="1.2" stroke-linejoin="round"/>
<polyline points="468.5,154.2 468.7,154.2 468.9,154.2 469.1,154.2 469.3,154.2 469.6,154.2 469.8,154.2 470.0,154.2 470.2,154.2 470.4,154.2 470.6,154.2 470.8,154.2 471.0,154.2 471.2,154.2 471.4,154.2 471.6,154.2 471.9,154.2 472.1,154.2 472.3,154.2 472.5,154.2 472.7,154.2 472.9,154.2 473.1,154.2 473.3,154.2 473.5,154.2 473.8,154.2 474.0,154.2 474.2,154.2 474.4,154.2 474.6,153.9 474.8,153.6 475.0,153.1 475.2,152.6 475.4,151.9 475.6,151.3 475.9,150.7 476.1,150.0 476.3,149.2 476.5,148.3 476.7,147.3 476.9,146.2 477.1,145.2 477.3,144.1 477.5,143.2 477.7,142.3 477.9,141.3 478.2,140.4 478.4,139.5 478.6,138.6 478.8,138.0 479.0,137.4 479.2,137.1 479.4,136.7 479.6,136.4 479.8,136.1 480.1,136.0 480.3,135.9 480.5,135.9 480.7,136.0 480.9,136.1 481.1,136.2 481.3,136.4 481.5,136.6 481.7,136.7 481.9,137.0 482.1,137.2 482.4,137.4 482.6,137.6 482.8,137.7 483.0,137.9 483.2,138.1 483.4,138.2 483.6,138.3 483.8,138.4 484.0,138.5 484.2,138.6 484.5,138.8 484.7,138.9 484.9,139.0 485.1,139.1 485.3,139.2 485.5,139.3 485.7,139.4 485.9,139.5 486.1,139.6 486.4,139.7 486.6,139.8 486.8,139.9 487.0,140.0 487.2,140.1 487.4,140.2 487.6,140.3 487.8,140.4 488.0,140.5 488.2,140.5 488.4,140.6 488.7,140.7 488.9,140.8 489.1,140.9 489.3,141.0 489.5,141.1 489.7,141.2 489.9,141.3 490.1,141.4 490.3,141.5 490.6,141.6 490.8,141.7 491.0,141.8 491.2,141.9 491.4,142.0 491.6,142.1 492.6,142.5 493.7,143.0 494.8,143.5 495.8,143.9 496.9,144.4 497.9,144.8 498.9,145.2 500.0,145.6 501.1,146.0 502.1,146.4 503.1,146.8 504.2,147.2 505.2,147.6 506.3,148.0 507.4,148.3 508.4,148.7 509.4,148.9 510.5,149.2 511.6,149.4 512.6,149.7 513.6,149.9 514.7,150.1 515.8,150.3 516.8,150.5 517.9,150.7 518.9,150.9 520.0,151.0 521.0,151.2 522.0,151.3 523.1,151.4 524.1,151.6 524.9,151.6" fill="none" stroke="#00ffff" stroke-width="1.2" stroke-linejoin="round"/>
<polyline points="468.5,154.2 468.7,154.2 468.9,154.2 469.1,154.2 469.3,154.2 469.6,154.2 469.8,154.2 470.0,154.2 470.2,154.2 470.4,154.2 470.6,154.2 470.8,154.2 471.0,154.2 471.2,154.2 471.4,154.2 471.6,154.2 471.9,154.2 472.1,154.2 472.3,154.2 472.5,154.2 472.7,154.2 472.9,154.2 473.1,154.2 473.3,154.2 473.5,154.2 473.8,154.2 474.0,154.2 474.2,154.1 474.4,153.7 474.6,153.1 474.8,152.4 475.0,151.5 475.2,150.6 475.4,149.6 475.6,148.7 475.9,147.5 476.1,146.1 476.3,144.6 476.5,143.0 476.7,141.4 476.9,140.0 477.1,138.6 477.3,137.2 477.5,135.8 477.7,134.4 477.9,133.3 478.2,132.3 478.4,131.6 478.6,131.1 478.8,130.6 479.0,130.1 479.2,129.9 479.4,129.8 479.6,129.8 479.8,129.8 480.1,129.9 480.3,130.0 480.5,130.0 480.7,130.2 480.9,130.3 481.1,130.4 481.3,130.6 481.5,130.7 481.7,130.9 481.9,131.1 482.1,131.2 482.4,131.4 482.6,131.6 482.8,131.8 483.0,131.9 483.2,132.1 483.4,132.3 483.6,132.5 483.8,132.7 484.0,132.9 484.2,133.1 484.5,133.3 484.7,133.6 484.9,133.8 485.1,134.1 485.3,134.4 485.5,134.6 485.7,134.9 485.9,135.2 486.1,135.5 486.4,135.7 486.6,136.0 486.8,136.3 487.0,136.6 487.2,136.9 487.4,137.1 487.6,137.4 487.8,137.7 488.0,137.9 488.2,138.2 488.4,138.4 488.7,138.7 488.9,138.9 489.1,139.1 489.3,139.3 489.5,139.5 489.7,139.7 489.9,139.8 490.1,140.0 490.3,140.2 490.6,140.4 490.8,140.5 491.0,140.7 491.2,140.9 491.4,141.0 491.6,141.2 492.6,142.0 493.7,142.8 494.8,143.5 495.8,144.1 496.9,144.7 497.9,145.3 498.9,145.9 500.0,146.3 501.1,146.8 502.1,147.2 503.1,147.6 504.2,148.0 505.2,148.3 506.3,148.6 507.4,148.9 508.4,149.2 509.4,149.5 510.5,149.8 511.6,150.0 512.6,150.2 513.6,150.4 514.7,150.7 515.8,150.9 516.8,151.1 517.9,151.3 518.9,151.4 520.0,151.6 521.0,151.8 522.0,151.9 523.1,152.0 524.1,152.1 524.9,152.1" fill="none" stroke="#00ff00" stroke-width="1.8" stroke-linejoin="round"/>
<polyline points="468.5,154.2 468.7,154.2 468.9,154.2 469.1,154.2 469.3,154.2 469.6,154.2 469.8,154.2 470.0,154.2 470.2,154.2 470.4,154.2 470.6,154.2 470.8,154.2 471.0,154.2 471.2,154.2 471.4,154.2 471.6,154.2 471.9,154.2 472.1,154.2 472.3,154.2 472.5,154.2 472.7,154.2 472.9,154.2 473.1,154.2 473.3,154.2 473.5,154.2 473.8,154.2 474.0,154.2 474.2,154.2 474.4,154.2 474.6,153.9 474.8,153.6 475.0,153.1 475.2,152.6 475.4,152.0 475.6,151.4 475.9,150.7 476.1,150.1 476.3,149.3 476.5,148.4 476.7,147.4 476.9,146.4 477.1,145.3 477.3,144.3 477.5,143.4 477.7,142.5 477.9,141.6 478.2,140.6 478.4,139.8 478.6,139.0 478.8,138.3 479.0,137.8 479.2,137.4 479.4,137.0 479.6,136.7 479.8,136.5 480.1,136.3 480.3,136.2 480.5,136.3 480.7,136.3 480.9,136.4 481.1,136.5 481.3,136.6 481.5,136.8 481.7,136.9 481.9,137.1 482.1,137.3 482.4,137.5 482.6,137.6 482.8,137.8 483.0,137.9 483.2,138.1 483.4,138.2 483.6,138.3 483.8,138.4 484.0,138.5 484.2,138.6 484.5,138.7 484.7,138.8 484.9,138.9 485.1,139.0 485.3,139.1 485.5,139.2 485.7,139.3 485.9,139.5 486.1,139.6 486.4,139.7 486.6,139.8 486.8,139.9 487.0,139.9 487.2,140.0 487.4,140.1 487.6,140.2 487.8,140.3 488.0,140.4 488.2,140.5 488.4,140.6 488.7,140.7 488.9,140.8 489.1,140.9 489.3,141.0 489.5,141.1 489.7,141.2 489.9,141.3 490.1,141.4 490.3,141.5 490.6,141.6 490.8,141.7 491.0,141.8 491.2,141.9 491.4,142.0 491.6,142.1 492.6,142.5 493.7,143.0 494.8,143.5 495.8,143.9 496.9,144.4 497.9,144.8 498.9,145.2 500.0,145.6 501.1,146.0 502.1,146.4 503.1,146.8 504.2,147.2 505.2,147.6 506.3,148.0 507.4,148.3 508.4,148.7 509.4,148.9 510.5,149.2 511.6,149.4 512.6,149.7 513.6,149.9 514.7,150.1 515.8,150.3 516.8,150.5 517.9,150.7 518.9,150.9 520.0,151.0 521.0,151.2 522.0,151.3 523.1,151.4 524.1,151.6 524.9,151.6" fill="none" stroke="#000000" stroke-width="1.8" stroke-linejoin="round" stroke-dasharray="5.5,4"/>
<line x1="542.10" y1="136.25" x2="597.12" y2="136.25" stroke="#eeeeee" stroke-width="1"/>
<line x1="542.10" y1="118.25" x2="597.12" y2="118.25" stroke="#eeeeee" stroke-width="1"/>
<line x1="542.10" y1="100.25" x2="597.12" y2="100.25" stroke="#eeeeee" stroke-width="1"/>
<line x1="563.10" y1="100.25" x2="563.10" y2="154.25" stroke="#eeeeee" stroke-width="1"/>
<line x1="584.10" y1="100.25" x2="584.10" y2="154.25" stroke="#eeeeee" stroke-width="1"/>
<line x1="542.10" y1="100.25" x2="542.10" y2="154.25" stroke="#b0b0b0" stroke-width="1.4"/>
<line x1="542.10" y1="154.25" x2="597.92" y2="154.25" stroke="#b0b0b0" stroke-width="1.4"/>
<line x1="542.10" y1="136.25" x2="543.70" y2="136.25" stroke="#b0b0b0" stroke-width="0.8"/>
<line x1="542.10" y1="118.25" x2="543.70" y2="118.25" stroke="#b0b0b0" stroke-width="0.8"/>
<line x1="542.10" y1="100.25" x2="543.70" y2="100.25" stroke="#b0b0b0" stroke-width="0.8"/>
<line x1="563.10" y1="154.25" x2="563.10" y2="152.65" stroke="#b0b0b0" stroke-width="0.8"/>
<line x1="584.10" y1="154.25" x2="584.10" y2="152.65" stroke="#b0b0b0" stroke-width="0.8"/>
<text x="540.30" y="157.43" font-size="6.9" text-anchor="end" fill="#262626">0</text>
<text x="540.30" y="139.43" font-size="6.9" text-anchor="end" fill="#262626">1</text>
<text x="540.30" y="121.43" font-size="6.9" text-anchor="end" fill="#262626">2</text>
<text x="540.30" y="103.43" font-size="6.9" text-anchor="end" fill="#262626">3</text>
<text x="542.10" y="162.52" font-size="6.9" text-anchor="middle" fill="#262626">0</text>
<text x="563.10" y="162.52" font-size="6.9" text-anchor="middle" fill="#262626">100</text>
<text x="584.10" y="162.52" font-size="6.9" text-anchor="middle" fill="#262626">200</text>
<text x="569.61" y="96.90" font-size="7.45" font-weight="bold" text-anchor="middle" fill="#000">200, 60 %</text>
<polyline points="542.1,154.2 542.3,154.2 542.5,154.2 542.7,154.2 542.9,154.2 543.1,154.2 543.4,154.2 543.6,154.2 543.8,154.2 544.0,154.2 544.2,154.2 544.4,154.2 544.6,154.2 544.8,154.2 545.0,154.2 545.2,154.2 545.5,154.2 545.7,154.2 545.9,154.2 546.1,154.2 546.3,154.2 546.5,154.2 546.7,154.2 546.9,154.2 547.1,154.2 547.4,154.2 547.6,154.2 547.8,154.2 548.0,154.1 548.2,153.6 548.4,152.8 548.6,151.8 548.8,150.7 549.0,149.5 549.2,148.3 549.5,147.0 549.7,145.4 549.9,143.6 550.1,141.6 550.3,139.6 550.5,137.6 550.7,135.9 550.9,134.1 551.1,132.3 551.3,130.6 551.6,129.0 551.8,127.7 552.0,126.8 552.2,126.1 552.4,125.4 552.6,124.9 552.8,124.5 553.0,124.4 553.2,124.4 553.4,124.5 553.6,124.7 553.9,125.0 554.1,125.3 554.3,125.6 554.5,126.0 554.7,126.5 554.9,126.9 555.1,127.4 555.3,127.9 555.5,128.3 555.8,128.8 556.0,129.3 556.2,129.7 556.4,130.1 556.6,130.5 556.8,130.8 557.0,131.2 557.2,131.5 557.4,131.8 557.6,132.1 557.9,132.4 558.1,132.7 558.3,133.0 558.5,133.3 558.7,133.6 558.9,133.9 559.1,134.2 559.3,134.5 559.5,134.7 559.7,135.0 560.0,135.3 560.2,135.6 560.4,135.8 560.6,136.1 560.8,136.4 561.0,136.6 561.2,136.9 561.4,137.1 561.6,137.4 561.8,137.6 562.1,137.8 562.3,138.1 562.5,138.3 562.7,138.5 562.9,138.7 563.1,138.9 563.3,139.2 563.5,139.4 563.7,139.6 563.9,139.8 564.1,140.0 564.4,140.2 564.6,140.4 564.8,140.6 565.0,140.8 565.2,141.0 566.2,141.9 567.3,142.8 568.4,143.7 569.4,144.5 570.5,145.2 571.5,145.9 572.6,146.5 573.6,147.1 574.6,147.5 575.7,147.9 576.8,148.4 577.8,148.7 578.9,149.1 579.9,149.4 581.0,149.7 582.0,150.0 583.1,150.2 584.1,150.5 585.1,150.7 586.2,150.9 587.2,151.1 588.3,151.3 589.4,151.5 590.4,151.7 591.5,151.9 592.5,152.1 593.6,152.2 594.6,152.3 595.6,152.5 596.7,152.6 597.8,152.6 598.5,152.7" fill="none" stroke="#0000ff" stroke-width="1.2" stroke-linejoin="round"/>
<polyline points="542.1,154.2 542.3,154.2 542.5,154.2 542.7,154.2 542.9,154.2 543.1,154.2 543.4,154.2 543.6,154.2 543.8,154.2 544.0,154.2 544.2,154.2 544.4,154.2 544.6,154.2 544.8,154.2 545.0,154.2 545.2,154.2 545.5,154.2 545.7,154.2 545.9,154.2 546.1,154.2 546.3,154.2 546.5,154.2 546.7,154.2 546.9,154.2 547.1,154.2 547.4,154.2 547.6,154.2 547.8,154.2 548.0,154.1 548.2,153.7 548.4,153.1 548.6,152.2 548.8,151.3 549.0,150.3 549.2,149.2 549.5,148.1 549.7,147.0 549.9,145.5 550.1,143.8 550.3,142.1 550.5,140.3 550.7,138.6 550.9,137.1 551.1,135.5 551.3,134.0 551.6,132.4 551.8,131.0 552.0,129.7 552.2,128.7 552.4,128.0 552.6,127.4 552.8,126.8 553.0,126.4 553.2,126.1 553.4,126.0 553.6,126.0 553.9,126.1 554.1,126.3 554.3,126.5 554.5,126.8 554.7,127.1 554.9,127.5 555.1,127.8 555.3,128.2 555.5,128.6 555.8,129.0 556.0,129.4 556.2,129.8 556.4,130.2 556.6,130.5 556.8,130.8 557.0,131.1 557.2,131.4 557.4,131.7 557.6,132.0 557.9,132.3 558.1,132.6 558.3,132.9 558.5,133.2 558.7,133.5 558.9,133.8 559.1,134.1 559.3,134.3 559.5,134.6 559.7,134.9 560.0,135.2 560.2,135.5 560.4,135.8 560.6,136.0 560.8,136.3 561.0,136.6 561.2,136.8 561.4,137.1 561.6,137.3 561.8,137.6 562.1,137.8 562.3,138.1 562.5,138.3 562.7,138.5 562.9,138.7 563.1,138.9 563.3,139.2 563.5,139.4 563.7,139.6 563.9,139.8 564.1,140.0 564.4,140.2 564.6,140.4 564.8,140.6 565.0,140.8 565.2,141.0 566.2,141.9 567.3,142.8 568.4,143.7 569.4,144.5 570.5,145.2 571.5,145.9 572.6,146.5 573.6,147.1 574.6,147.5 575.7,147.9 576.8,148.4 577.8,148.7 578.9,149.1 579.9,149.4 581.0,149.7 582.0,150.0 583.1,150.2 584.1,150.5 585.1,150.7 586.2,150.9 587.2,151.1 588.3,151.3 589.4,151.5 590.4,151.7 591.5,151.9 592.5,152.1 593.6,152.2 594.6,152.3 595.6,152.5 596.7,152.6 597.8,152.6 598.5,152.7" fill="none" stroke="#00ffff" stroke-width="1.2" stroke-linejoin="round"/>
<polyline points="542.1,154.2 542.3,154.2 542.5,154.2 542.7,154.2 542.9,154.2 543.1,154.2 543.4,154.2 543.6,154.2 543.8,154.2 544.0,154.2 544.2,154.2 544.4,154.2 544.6,154.2 544.8,154.2 545.0,154.2 545.2,154.2 545.5,154.2 545.7,154.2 545.9,154.2 546.1,154.2 546.3,154.2 546.5,154.2 546.7,154.2 546.9,154.2 547.1,154.2 547.4,154.2 547.6,154.2 547.8,154.2 548.0,154.1 548.2,153.6 548.4,152.8 548.6,151.9 548.8,150.8 549.0,149.6 549.2,148.4 549.5,147.2 549.7,145.6 549.9,143.8 550.1,141.8 550.3,139.8 550.5,137.9 550.7,136.2 550.9,134.5 551.1,132.7 551.3,131.0 551.6,129.5 551.8,128.2 552.0,127.3 552.2,126.6 552.4,125.9 552.6,125.4 552.8,125.0 553.0,124.9 553.2,124.9 553.4,125.1 553.6,125.2 553.9,125.5 554.1,125.7 554.3,126.1 554.5,126.4 554.7,126.8 554.9,127.2 555.1,127.6 555.3,128.1 555.5,128.5 555.8,128.9 556.0,129.4 556.2,129.8 556.4,130.2 556.6,130.5 556.8,130.8 557.0,131.1 557.2,131.4 557.4,131.7 557.6,132.0 557.9,132.3 558.1,132.6 558.3,132.9 558.5,133.2 558.7,133.5 558.9,133.8 559.1,134.1 559.3,134.4 559.5,134.7 559.7,135.0 560.0,135.2 560.2,135.5 560.4,135.8 560.6,136.1 560.8,136.3 561.0,136.6 561.2,136.9 561.4,137.1 561.6,137.4 561.8,137.6 562.1,137.8 562.3,138.1 562.5,138.3 562.7,138.5 562.9,138.7 563.1,138.9 563.3,139.2 563.5,139.4 563.7,139.6 563.9,139.8 564.1,140.0 564.4,140.2 564.6,140.4 564.8,140.6 565.0,140.8 565.2,141.0 566.2,141.9 567.3,142.8 568.4,143.7 569.4,144.5 570.5,145.2 571.5,145.9 572.6,146.5 573.6,147.1 574.6,147.5 575.7,147.9 576.8,148.4 577.8,148.7 578.9,149.1 579.9,149.4 581.0,149.7 582.0,150.0 583.1,150.2 584.1,150.5 585.1,150.7 586.2,150.9 587.2,151.1 588.3,151.3 589.4,151.5 590.4,151.7 591.5,151.9 592.5,152.1 593.6,152.2 594.6,152.3 595.6,152.5 596.7,152.6 597.8,152.6 598.5,152.7" fill="none" stroke="#00ff00" stroke-width="1.8" stroke-linejoin="round"/>
<polyline points="542.1,154.2 542.3,154.2 542.5,154.2 542.7,154.2 542.9,154.2 543.1,154.2 543.4,154.2 543.6,154.2 543.8,154.2 544.0,154.2 544.2,154.2 544.4,154.2 544.6,154.2 544.8,154.2 545.0,154.2 545.2,154.2 545.5,154.2 545.7,154.2 545.9,154.2 546.1,154.2 546.3,154.2 546.5,154.2 546.7,154.2 546.9,154.2 547.1,154.2 547.4,154.2 547.6,154.2 547.8,154.2 548.0,154.1 548.2,153.7 548.4,153.1 548.6,152.3 548.8,151.3 549.0,150.3 549.2,149.3 549.5,148.2 549.7,147.0 549.9,145.6 550.1,144.0 550.3,142.2 550.5,140.5 550.7,138.8 550.9,137.3 551.1,135.8 551.3,134.2 551.6,132.7 551.8,131.3 552.0,130.0 552.2,129.0 552.4,128.3 552.6,127.7 552.8,127.2 553.0,126.8 553.2,126.5 553.4,126.3 553.6,126.4 553.9,126.5 554.1,126.6 554.3,126.8 554.5,127.1 554.7,127.4 554.9,127.7 555.1,128.0 555.3,128.4 555.5,128.8 555.8,129.2 556.0,129.5 556.2,129.9 556.4,130.2 556.6,130.6 556.8,130.8 557.0,131.1 557.2,131.4 557.4,131.7 557.6,132.0 557.9,132.3 558.1,132.6 558.3,132.8 558.5,133.1 558.7,133.4 558.9,133.7 559.1,134.0 559.3,134.3 559.5,134.6 559.7,134.9 560.0,135.2 560.2,135.4 560.4,135.7 560.6,136.0 560.8,136.3 561.0,136.5 561.2,136.8 561.4,137.1 561.6,137.3 561.8,137.6 562.1,137.8 562.3,138.1 562.5,138.3 562.7,138.5 562.9,138.7 563.1,138.9 563.3,139.2 563.5,139.4 563.7,139.6 563.9,139.8 564.1,140.0 564.4,140.2 564.6,140.4 564.8,140.6 565.0,140.8 565.2,141.0 566.2,141.9 567.3,142.8 568.4,143.7 569.4,144.5 570.5,145.2 571.5,145.9 572.6,146.5 573.6,147.1 574.6,147.5 575.7,147.9 576.8,148.4 577.8,148.7 578.9,149.1 579.9,149.4 581.0,149.7 582.0,150.0 583.1,150.2 584.1,150.5 585.1,150.7 586.2,150.9 587.2,151.1 588.3,151.3 589.4,151.5 590.4,151.7 591.5,151.9 592.5,152.1 593.6,152.2 594.6,152.3 595.6,152.5 596.7,152.6 597.8,152.6 598.5,152.7" fill="none" stroke="#000000" stroke-width="1.8" stroke-linejoin="round" stroke-dasharray="5.5,4"/>
<line x1="615.40" y1="136.25" x2="670.42" y2="136.25" stroke="#eeeeee" stroke-width="1"/>
<line x1="615.40" y1="118.25" x2="670.42" y2="118.25" stroke="#eeeeee" stroke-width="1"/>
<line x1="615.40" y1="100.25" x2="670.42" y2="100.25" stroke="#eeeeee" stroke-width="1"/>
<line x1="636.40" y1="100.25" x2="636.40" y2="154.25" stroke="#eeeeee" stroke-width="1"/>
<line x1="657.40" y1="100.25" x2="657.40" y2="154.25" stroke="#eeeeee" stroke-width="1"/>
<line x1="615.40" y1="100.25" x2="615.40" y2="154.25" stroke="#b0b0b0" stroke-width="1.4"/>
<line x1="615.40" y1="154.25" x2="671.22" y2="154.25" stroke="#b0b0b0" stroke-width="1.4"/>
<line x1="615.40" y1="136.25" x2="617.00" y2="136.25" stroke="#b0b0b0" stroke-width="0.8"/>
<line x1="615.40" y1="118.25" x2="617.00" y2="118.25" stroke="#b0b0b0" stroke-width="0.8"/>
<line x1="615.40" y1="100.25" x2="617.00" y2="100.25" stroke="#b0b0b0" stroke-width="0.8"/>
<line x1="636.40" y1="154.25" x2="636.40" y2="152.65" stroke="#b0b0b0" stroke-width="0.8"/>
<line x1="657.40" y1="154.25" x2="657.40" y2="152.65" stroke="#b0b0b0" stroke-width="0.8"/>
<text x="613.60" y="157.43" font-size="6.9" text-anchor="end" fill="#262626">0</text>
<text x="613.60" y="139.43" font-size="6.9" text-anchor="end" fill="#262626">1</text>
<text x="613.60" y="121.43" font-size="6.9" text-anchor="end" fill="#262626">2</text>
<text x="613.60" y="103.43" font-size="6.9" text-anchor="end" fill="#262626">3</text>
<text x="615.40" y="162.52" font-size="6.9" text-anchor="middle" fill="#262626">0</text>
<text x="636.40" y="162.52" font-size="6.9" text-anchor="middle" fill="#262626">100</text>
<text x="657.40" y="162.52" font-size="6.9" text-anchor="middle" fill="#262626">200</text>
<text x="642.91" y="96.90" font-size="7.45" font-weight="bold" text-anchor="middle" fill="#000">200, 80 %</text>
<polyline points="615.4,154.2 615.6,154.2 615.8,154.2 616.0,154.2 616.2,154.2 616.4,154.2 616.7,154.2 616.9,154.2 617.1,154.2 617.3,154.2 617.5,154.2 617.7,154.2 617.9,154.2 618.1,154.2 618.3,154.2 618.5,154.2 618.8,154.2 619.0,154.2 619.2,154.2 619.4,154.2 619.6,154.2 619.8,154.2 620.0,154.2 620.2,154.2 620.4,154.2 620.6,154.2 620.9,154.2 621.1,154.2 621.3,153.9 621.5,153.0 621.7,151.6 621.9,149.8 622.1,147.9 622.3,146.0 622.5,144.2 622.8,142.4 623.0,140.4 623.2,138.4 623.4,136.2 623.6,134.2 623.8,132.3 624.0,130.5 624.2,128.7 624.4,127.0 624.6,125.4 624.9,123.9 625.1,122.5 625.3,121.1 625.5,119.6 625.7,118.3 625.9,117.4 626.1,117.0 626.3,117.0 626.5,117.1 626.7,117.3 626.9,117.5 627.2,117.7 627.4,118.0 627.6,118.4 627.8,118.7 628.0,119.2 628.2,119.6 628.4,120.0 628.6,120.5 628.8,120.9 629.0,121.4 629.3,121.9 629.5,122.3 629.7,122.8 629.9,123.2 630.1,123.7 630.3,124.1 630.5,124.5 630.7,125.0 630.9,125.4 631.1,125.9 631.4,126.5 631.6,127.0 631.8,127.5 632.0,128.1 632.2,128.6 632.4,129.2 632.6,129.8 632.8,130.3 633.0,130.9 633.2,131.5 633.5,132.0 633.7,132.6 633.9,133.1 634.1,133.7 634.3,134.2 634.5,134.7 634.7,135.2 634.9,135.7 635.1,136.2 635.4,136.6 635.6,137.0 635.8,137.4 636.0,137.8 636.2,138.1 636.4,138.4 636.6,138.7 636.8,139.0 637.0,139.3 637.2,139.5 637.4,139.8 637.7,140.1 637.9,140.3 638.1,140.6 638.3,140.9 638.5,141.1 639.5,142.3 640.6,143.4 641.6,144.4 642.7,145.4 643.8,146.2 644.8,146.9 645.9,147.6 646.9,148.1 647.9,148.6 649.0,149.1 650.0,149.5 651.1,149.9 652.1,150.2 653.2,150.5 654.2,150.8 655.3,151.1 656.4,151.3 657.4,151.6 658.4,151.7 659.5,151.9 660.5,152.1 661.6,152.3 662.6,152.5 663.7,152.6 664.8,152.8 665.8,152.9 666.9,153.0 667.9,153.1 668.9,153.2 670.0,153.3 671.0,153.3 671.8,153.4" fill="none" stroke="#0000ff" stroke-width="1.2" stroke-linejoin="round"/>
<polyline points="615.4,154.2 615.6,154.2 615.8,154.2 616.0,154.2 616.2,154.2 616.4,154.2 616.7,154.2 616.9,154.2 617.1,154.2 617.3,154.2 617.5,154.2 617.7,154.2 617.9,154.2 618.1,154.2 618.3,154.2 618.5,154.2 618.8,154.2 619.0,154.2 619.2,154.2 619.4,154.2 619.6,154.2 619.8,154.2 620.0,154.2 620.2,154.2 620.4,154.2 620.6,154.2 620.9,154.2 621.1,154.2 621.3,154.2 621.5,153.9 621.7,153.1 621.9,151.8 622.1,150.2 622.3,148.4 622.5,146.6 622.8,144.9 623.0,143.3 623.2,141.5 623.4,139.6 623.6,137.6 623.8,135.7 624.0,134.0 624.2,132.3 624.4,130.7 624.6,129.1 624.9,127.6 625.1,126.2 625.3,124.9 625.5,123.7 625.7,122.3 625.9,121.1 626.1,120.2 626.3,119.9 626.5,119.9 626.7,119.9 626.9,120.0 627.2,120.2 627.4,120.3 627.6,120.5 627.8,120.7 628.0,120.9 628.2,121.1 628.4,121.4 628.6,121.6 628.8,121.9 629.0,122.2 629.3,122.5 629.5,122.8 629.7,123.1 629.9,123.4 630.1,123.7 630.3,124.0 630.5,124.3 630.7,124.7 630.9,125.1 631.1,125.5 631.4,126.0 631.6,126.5 631.8,127.0 632.0,127.5 632.2,128.0 632.4,128.6 632.6,129.1 632.8,129.7 633.0,130.3 633.2,130.9 633.5,131.4 633.7,132.0 633.9,132.6 634.1,133.2 634.3,133.7 634.5,134.2 634.7,134.8 634.9,135.3 635.1,135.8 635.4,136.2 635.6,136.6 635.8,137.0 636.0,137.4 636.2,137.8 636.4,138.1 636.6,138.3 636.8,138.6 637.0,138.9 637.2,139.1 637.4,139.4 637.7,139.7 637.9,139.9 638.1,140.2 638.3,140.4 638.5,140.6 639.5,141.8 640.6,142.8 641.6,143.8 642.7,144.7 643.8,145.5 644.8,146.2 645.9,146.8 646.9,147.4 647.9,147.9 649.0,148.4 650.0,148.9 651.1,149.3 652.1,149.7 653.2,150.1 654.2,150.4 655.3,150.7 656.4,151.0 657.4,151.2 658.4,151.4 659.5,151.6 660.5,151.8 661.6,152.0 662.6,152.2 663.7,152.4 664.8,152.5 665.8,152.7 666.9,152.8 667.9,152.9 668.9,153.0 670.0,153.1 671.0,153.2 671.8,153.2" fill="none" stroke="#00ffff" stroke-width="1.2" stroke-linejoin="round"/>
<polyline points="615.4,154.2 615.6,154.2 615.8,154.2 616.0,154.2 616.2,154.2 616.4,154.2 616.7,154.2 616.9,154.2 617.1,154.2 617.3,154.2 617.5,154.2 617.7,154.2 617.9,154.2 618.1,154.2 618.3,154.2 618.5,154.2 618.8,154.2 619.0,154.2 619.2,154.2 619.4,154.2 619.6,154.2 619.8,154.2 620.0,154.2 620.2,154.2 620.4,154.2 620.6,154.2 620.9,154.2 621.1,154.2 621.3,153.9 621.5,153.0 621.7,151.6 621.9,149.9 622.1,148.1 622.3,146.2 622.5,144.4 622.8,142.6 623.0,140.7 623.2,138.7 623.4,136.6 623.6,134.6 623.8,132.7 624.0,130.9 624.2,129.2 624.4,127.5 624.6,125.9 624.9,124.4 625.1,123.1 625.3,121.7 625.5,120.3 625.7,119.0 625.9,118.1 626.1,117.7 626.3,117.7 626.5,117.8 626.7,118.0 626.9,118.1 627.2,118.4 627.4,118.6 627.6,118.9 627.8,119.2 628.0,119.6 628.2,120.0 628.4,120.4 628.6,120.8 628.8,121.2 629.0,121.6 629.3,122.0 629.5,122.5 629.7,122.9 629.9,123.3 630.1,123.7 630.3,124.0 630.5,124.5 630.7,124.9 630.9,125.4 631.1,125.8 631.4,126.4 631.6,126.9 631.8,127.4 632.0,128.0 632.2,128.5 632.4,129.1 632.6,129.6 632.8,130.2 633.0,130.8 633.2,131.4 633.5,131.9 633.7,132.5 633.9,133.0 634.1,133.6 634.3,134.1 634.5,134.7 634.7,135.2 634.9,135.7 635.1,136.1 635.4,136.6 635.6,137.0 635.8,137.4 636.0,137.8 636.2,138.1 636.4,138.4 636.6,138.7 636.8,139.0 637.0,139.3 637.2,139.5 637.4,139.8 637.7,140.1 637.9,140.3 638.1,140.6 638.3,140.9 638.5,141.1 639.5,142.3 640.6,143.4 641.6,144.4 642.7,145.4 643.8,146.2 644.8,146.9 645.9,147.6 646.9,148.1 647.9,148.6 649.0,149.1 650.0,149.5 651.1,149.9 652.1,150.2 653.2,150.5 654.2,150.8 655.3,151.1 656.4,151.3 657.4,151.6 658.4,151.7 659.5,151.9 660.5,152.1 661.6,152.3 662.6,152.5 663.7,152.6 664.8,152.8 665.8,152.9 666.9,153.0 667.9,153.1 668.9,153.2 670.0,153.3 671.0,153.3 671.8,153.4" fill="none" stroke="#00ff00" stroke-width="1.8" stroke-linejoin="round"/>
<polyline points="615.4,154.2 615.6,154.2 615.8,154.2 616.0,154.2 616.2,154.2 616.4,154.2 616.7,154.2 616.9,154.2 617.1,154.2 617.3,154.2 617.5,154.2 617.7,154.2 617.9,154.2 618.1,154.2 618.3,154.2 618.5,154.2 618.8,154.2 619.0,154.2 619.2,154.2 619.4,154.2 619.6,154.2 619.8,154.2 620.0,154.2 620.2,154.2 620.4,154.2 620.6,154.2 620.9,154.2 621.1,154.2 621.3,154.2 621.5,153.9 621.7,153.1 621.9,151.8 622.1,150.2 622.3,148.5 622.5,146.7 622.8,145.0 623.0,143.4 623.2,141.6 623.4,139.7 623.6,137.8 623.8,135.9 624.0,134.2 624.2,132.5 624.4,130.9 624.6,129.4 624.9,127.9 625.1,126.5 625.3,125.2 625.5,124.0 625.7,122.7 625.9,121.4 626.1,120.6 626.3,120.2 626.5,120.2 626.7,120.3 626.9,120.4 627.2,120.5 627.4,120.6 627.6,120.8 627.8,120.9 628.0,121.1 628.2,121.3 628.4,121.6 628.6,121.8 628.8,122.1 629.0,122.3 629.3,122.6 629.5,122.8 629.7,123.1 629.9,123.4 630.1,123.7 630.3,123.9 630.5,124.3 630.7,124.6 630.9,125.0 631.1,125.4 631.4,125.9 631.6,126.4 631.8,126.9 632.0,127.4 632.2,127.9 632.4,128.5 632.6,129.0 632.8,129.6 633.0,130.2 633.2,130.8 633.5,131.4 633.7,132.0 633.9,132.5 634.1,133.1 634.3,133.7 634.5,134.2 634.7,134.7 634.9,135.2 635.1,135.7 635.4,136.2 635.6,136.6 635.8,137.0 636.0,137.4 636.2,137.8 636.4,138.1 636.6,138.3 636.8,138.6 637.0,138.9 637.2,139.1 637.4,139.4 637.7,139.7 637.9,139.9 638.1,140.2 638.3,140.4 638.5,140.6 639.5,141.8 640.6,142.8 641.6,143.8 642.7,144.7 643.8,145.5 644.8,146.2 645.9,146.8 646.9,147.4 647.9,147.9 649.0,148.4 650.0,148.9 651.1,149.3 652.1,149.7 653.2,150.1 654.2,150.4 655.3,150.7 656.4,151.0 657.4,151.2 658.4,151.4 659.5,151.6 660.5,151.8 661.6,152.0 662.6,152.2 663.7,152.4 664.8,152.5 665.8,152.7 666.9,152.8 667.9,152.9 668.9,153.0 670.0,153.1 671.0,153.2 671.8,153.2" fill="none" stroke="#000000" stroke-width="1.8" stroke-linejoin="round" stroke-dasharray="5.5,4"/>
<line x1="394.90" y1="216.25" x2="449.92" y2="216.25" stroke="#eeeeee" stroke-width="1"/>
<line x1="394.90" y1="198.25" x2="449.92" y2="198.25" stroke="#eeeeee" stroke-width="1"/>
<line x1="394.90" y1="180.25" x2="449.92" y2="180.25" stroke="#eeeeee" stroke-width="1"/>
<line x1="415.90" y1="180.25" x2="415.90" y2="234.25" stroke="#eeeeee" stroke-width="1"/>
<line x1="436.90" y1="180.25" x2="436.90" y2="234.25" stroke="#eeeeee" stroke-width="1"/>
<line x1="394.90" y1="180.25" x2="394.90" y2="234.25" stroke="#b0b0b0" stroke-width="1.4"/>
<line x1="394.90" y1="234.25" x2="450.72" y2="234.25" stroke="#b0b0b0" stroke-width="1.4"/>
<line x1="394.90" y1="216.25" x2="396.50" y2="216.25" stroke="#b0b0b0" stroke-width="0.8"/>
<line x1="394.90" y1="198.25" x2="396.50" y2="198.25" stroke="#b0b0b0" stroke-width="0.8"/>
<line x1="394.90" y1="180.25" x2="396.50" y2="180.25" stroke="#b0b0b0" stroke-width="0.8"/>
<line x1="415.90" y1="234.25" x2="415.90" y2="232.65" stroke="#b0b0b0" stroke-width="0.8"/>
<line x1="436.90" y1="234.25" x2="436.90" y2="232.65" stroke="#b0b0b0" stroke-width="0.8"/>
<text x="393.10" y="237.43" font-size="6.9" text-anchor="end" fill="#262626">0</text>
<text x="393.10" y="219.43" font-size="6.9" text-anchor="end" fill="#262626">1</text>
<text x="393.10" y="201.43" font-size="6.9" text-anchor="end" fill="#262626">2</text>
<text x="393.10" y="183.43" font-size="6.9" text-anchor="end" fill="#262626">3</text>
<text x="394.90" y="242.52" font-size="6.9" text-anchor="middle" fill="#262626">0</text>
<text x="415.90" y="242.52" font-size="6.9" text-anchor="middle" fill="#262626">100</text>
<text x="436.90" y="242.52" font-size="6.9" text-anchor="middle" fill="#262626">200</text>
<text x="422.41" y="176.90" font-size="7.45" font-weight="bold" text-anchor="middle" fill="#000">250, 20 %</text>
<polyline points="394.9,234.2 395.1,234.2 395.3,234.2 395.5,234.2 395.7,234.2 395.9,234.2 396.2,234.2 396.4,234.2 396.6,234.2 396.8,234.2 397.0,234.2 397.2,234.2 397.4,234.2 397.6,234.2 397.8,234.2 398.0,234.2 398.3,234.2 398.5,234.2 398.7,234.2 398.9,234.2 399.1,234.2 399.3,234.2 399.5,234.2 399.7,234.2 399.9,234.2 400.1,234.2 400.4,233.9 400.6,233.1 400.8,232.0 401.0,230.9 401.2,229.8 401.4,228.6 401.6,227.4 401.8,226.3 402.0,225.2 402.2,224.3 402.5,223.4 402.7,222.6 402.9,221.8 403.1,221.5 403.3,221.5 403.5,221.5 403.7,221.5 403.9,221.6 404.1,221.6 404.3,221.7 404.6,221.8 404.8,221.8 405.0,221.9 405.2,222.0 405.4,222.1 405.6,222.3 405.8,222.4 406.0,222.5 406.2,222.6 406.4,222.7 406.7,222.9 406.9,223.0 407.1,223.1 407.3,223.3 407.5,223.4 407.7,223.5 407.9,223.7 408.1,223.8 408.3,223.9 408.5,224.0 408.8,224.1 409.0,224.2 409.2,224.3 409.4,224.4 409.6,224.5 409.8,224.6 410.0,224.7 410.2,224.8 410.4,224.9 410.6,224.9 410.9,225.0 411.1,225.1 411.3,225.2 411.5,225.3 411.7,225.3 411.9,225.4 412.1,225.5 412.3,225.6 412.5,225.6 412.8,225.7 413.0,225.8 413.2,225.8 413.4,225.9 413.6,226.0 413.8,226.1 414.0,226.1 414.2,226.2 414.4,226.3 414.6,226.3 414.8,226.4 415.1,226.4 415.3,226.5 415.5,226.6 415.7,226.6 415.9,226.7 416.1,226.7 416.3,226.8 416.5,226.9 416.7,226.9 416.9,227.0 417.2,227.0 417.4,227.1 417.6,227.1 417.8,227.2 418.0,227.2 419.0,227.5 420.1,227.8 421.1,228.0 422.2,228.2 423.2,228.4 424.3,228.7 425.3,228.8 426.4,229.0 427.4,229.2 428.5,229.4 429.5,229.5 430.6,229.7 431.6,229.8 432.7,230.0 433.8,230.1 434.8,230.2 435.8,230.4 436.9,230.5 437.9,230.6 439.0,230.7 440.0,230.8 441.1,230.8 442.1,230.9 443.2,231.0 444.2,231.1 445.3,231.2 446.3,231.2 447.4,231.3 448.4,231.4 449.5,231.5 450.5,231.6 451.3,231.6" fill="none" stroke="#0000ff" stroke-width="1.2" stroke-linejoin="round"/>
<polyline points="394.9,234.2 395.1,234.2 395.3,234.2 395.5,234.2 395.7,234.2 395.9,234.2 396.2,234.2 396.4,234.2 396.6,234.2 396.8,234.2 397.0,234.2 397.2,234.2 397.4,234.2 397.6,234.2 397.8,234.2 398.0,234.2 398.3,234.2 398.5,234.2 398.7,234.2 398.9,234.2 399.1,234.2 399.3,234.2 399.5,234.2 399.7,234.2 399.9,234.2 400.1,234.2 400.4,234.2 400.6,234.0 400.8,233.2 401.0,232.3 401.2,231.2 401.4,230.3 401.6,229.2 401.8,228.1 402.0,227.0 402.2,226.1 402.5,225.2 402.7,224.3 402.9,223.6 403.1,222.8 403.3,222.1 403.5,221.8 403.7,221.8 403.9,221.8 404.1,221.9 404.3,221.9 404.6,221.9 404.8,222.0 405.0,222.0 405.2,222.1 405.4,222.2 405.6,222.2 405.8,222.3 406.0,222.4 406.2,222.5 406.4,222.5 406.7,222.6 406.9,222.7 407.1,222.8 407.3,222.9 407.5,223.0 407.7,223.1 407.9,223.2 408.1,223.2 408.3,223.3 408.5,223.4 408.8,223.5 409.0,223.6 409.2,223.7 409.4,223.7 409.6,223.8 409.8,223.9 410.0,223.9 410.2,224.0 410.4,224.1 410.6,224.1 410.9,224.2 411.1,224.3 411.3,224.4 411.5,224.4 411.7,224.5 411.9,224.6 412.1,224.6 412.3,224.7 412.5,224.8 412.8,224.8 413.0,224.9 413.2,225.0 413.4,225.0 413.6,225.1 413.8,225.2 414.0,225.2 414.2,225.3 414.4,225.4 414.6,225.4 414.8,225.5 415.1,225.6 415.3,225.6 415.5,225.7 415.7,225.7 415.9,225.8 416.1,225.8 416.3,225.9 416.5,226.0 416.7,226.0 416.9,226.1 417.2,226.1 417.4,226.2 417.6,226.2 417.8,226.3 418.0,226.4 419.0,226.6 420.1,226.9 421.1,227.2 422.2,227.4 423.2,227.7 424.3,227.9 425.3,228.1 426.4,228.3 427.4,228.5 428.5,228.7 429.5,228.8 430.6,229.0 431.6,229.1 432.7,229.3 433.8,229.4 434.8,229.5 435.8,229.6 436.9,229.8 437.9,229.8 439.0,229.9 440.0,230.0 441.1,230.1 442.1,230.1 443.2,230.2 444.2,230.2 445.3,230.3 446.3,230.4 447.4,230.4 448.4,230.5 449.5,230.6 450.5,230.7 451.3,230.7" fill="none" stroke="#00ffff" stroke-width="1.2" stroke-linejoin="round"/>
<polyline points="394.9,234.2 395.1,234.2 395.3,234.2 395.5,234.2 395.7,234.2 395.9,234.2 396.2,234.2 396.4,234.2 396.6,234.2 396.8,234.2 397.0,234.2 397.2,234.2 397.4,234.2 397.6,234.2 397.8,234.2 398.0,234.2 398.3,234.2 398.5,234.2 398.7,234.2 398.9,234.2 399.1,234.2 399.3,234.2 399.5,234.2 399.7,234.2 399.9,234.2 400.1,234.2 400.4,233.9 400.6,233.1 400.8,232.1 401.0,231.0 401.2,229.9 401.4,228.7 401.6,227.6 401.8,226.5 402.0,225.5 402.2,224.6 402.5,223.7 402.7,222.9 402.9,222.2 403.1,221.8 403.3,221.8 403.5,221.9 403.7,221.9 403.9,221.9 404.1,222.0 404.3,222.0 404.6,222.1 404.8,222.2 405.0,222.2 405.2,222.3 405.4,222.4 405.6,222.5 405.8,222.6 406.0,222.7 406.2,222.8 406.4,222.9 406.7,223.0 406.9,223.2 407.1,223.3 407.3,223.4 407.5,223.5 407.7,223.6 407.9,223.7 408.1,223.8 408.3,224.0 408.5,224.1 408.8,224.2 409.0,224.3 409.2,224.4 409.4,224.4 409.6,224.5 409.8,224.6 410.0,224.7 410.2,224.8 410.4,224.8 410.6,224.9 410.9,225.0 411.1,225.1 411.3,225.2 411.5,225.2 411.7,225.3 411.9,225.4 412.1,225.5 412.3,225.5 412.5,225.6 412.8,225.7 413.0,225.8 413.2,225.8 413.4,225.9 413.6,226.0 413.8,226.0 414.0,226.1 414.2,226.2 414.4,226.3 414.6,226.3 414.8,226.4 415.1,226.4 415.3,226.5 415.5,226.6 415.7,226.6 415.9,226.7 416.1,226.7 416.3,226.8 416.5,226.9 416.7,226.9 416.9,227.0 417.2,227.0 417.4,227.1 417.6,227.1 417.8,227.2 418.0,227.2 419.0,227.5 420.1,227.8 421.1,228.0 422.2,228.2 423.2,228.4 424.3,228.7 425.3,228.8 426.4,229.0 427.4,229.2 428.5,229.4 429.5,229.5 430.6,229.7 431.6,229.8 432.7,230.0 433.8,230.1 434.8,230.2 435.8,230.4 436.9,230.5 437.9,230.6 439.0,230.7 440.0,230.8 441.1,230.8 442.1,230.9 443.2,231.0 444.2,231.1 445.3,231.2 446.3,231.2 447.4,231.3 448.4,231.4 449.5,231.5 450.5,231.6 451.3,231.6" fill="none" stroke="#00ff00" stroke-width="1.8" stroke-linejoin="round"/>
<polyline points="394.9,234.2 395.1,234.2 395.3,234.2 395.5,234.2 395.7,234.2 395.9,234.2 396.2,234.2 396.4,234.2 396.6,234.2 396.8,234.2 397.0,234.2 397.2,234.2 397.4,234.2 397.6,234.2 397.8,234.2 398.0,234.2 398.3,234.2 398.5,234.2 398.7,234.2 398.9,234.2 399.1,234.2 399.3,234.2 399.5,234.2 399.7,234.2 399.9,234.2 400.1,234.2 400.4,234.2 400.6,234.0 400.8,233.3 401.0,232.3 401.2,231.3 401.4,230.4 401.6,229.4 401.8,228.3 402.0,227.3 402.2,226.3 402.5,225.4 402.7,224.6 402.9,223.9 403.1,223.1 403.3,222.5 403.5,222.2 403.7,222.2 403.9,222.2 404.1,222.2 404.3,222.2 404.6,222.3 404.8,222.3 405.0,222.4 405.2,222.4 405.4,222.4 405.6,222.5 405.8,222.6 406.0,222.6 406.2,222.7 406.4,222.7 406.7,222.8 406.9,222.9 407.1,223.0 407.3,223.0 407.5,223.1 407.7,223.2 407.9,223.3 408.1,223.3 408.3,223.4 408.5,223.5 408.8,223.5 409.0,223.6 409.2,223.7 409.4,223.7 409.6,223.8 409.8,223.9 410.0,223.9 410.2,224.0 410.4,224.1 410.6,224.1 410.9,224.2 411.1,224.3 411.3,224.3 411.5,224.4 411.7,224.5 411.9,224.5 412.1,224.6 412.3,224.7 412.5,224.7 412.8,224.8 413.0,224.9 413.2,224.9 413.4,225.0 413.6,225.1 413.8,225.2 414.0,225.2 414.2,225.3 414.4,225.4 414.6,225.4 414.8,225.5 415.1,225.5 415.3,225.6 415.5,225.7 415.7,225.7 415.9,225.8 416.1,225.8 416.3,225.9 416.5,226.0 416.7,226.0 416.9,226.1 417.2,226.1 417.4,226.2 417.6,226.2 417.8,226.3 418.0,226.4 419.0,226.6 420.1,226.9 421.1,227.2 422.2,227.4 423.2,227.7 424.3,227.9 425.3,228.1 426.4,228.3 427.4,228.5 428.5,228.7 429.5,228.8 430.6,229.0 431.6,229.1 432.7,229.3 433.8,229.4 434.8,229.5 435.8,229.6 436.9,229.8 437.9,229.8 439.0,229.9 440.0,230.0 441.1,230.1 442.1,230.1 443.2,230.2 444.2,230.2 445.3,230.3 446.3,230.4 447.4,230.4 448.4,230.5 449.5,230.6 450.5,230.7 451.3,230.7" fill="none" stroke="#000000" stroke-width="1.8" stroke-linejoin="round" stroke-dasharray="5.5,4"/>
<line x1="468.50" y1="216.25" x2="523.52" y2="216.25" stroke="#eeeeee" stroke-width="1"/>
<line x1="468.50" y1="198.25" x2="523.52" y2="198.25" stroke="#eeeeee" stroke-width="1"/>
<line x1="468.50" y1="180.25" x2="523.52" y2="180.25" stroke="#eeeeee" stroke-width="1"/>
<line x1="489.50" y1="180.25" x2="489.50" y2="234.25" stroke="#eeeeee" stroke-width="1"/>
<line x1="510.50" y1="180.25" x2="510.50" y2="234.25" stroke="#eeeeee" stroke-width="1"/>
<line x1="468.50" y1="180.25" x2="468.50" y2="234.25" stroke="#b0b0b0" stroke-width="1.4"/>
<line x1="468.50" y1="234.25" x2="524.32" y2="234.25" stroke="#b0b0b0" stroke-width="1.4"/>
<line x1="468.50" y1="216.25" x2="470.10" y2="216.25" stroke="#b0b0b0" stroke-width="0.8"/>
<line x1="468.50" y1="198.25" x2="470.10" y2="198.25" stroke="#b0b0b0" stroke-width="0.8"/>
<line x1="468.50" y1="180.25" x2="470.10" y2="180.25" stroke="#b0b0b0" stroke-width="0.8"/>
<line x1="489.50" y1="234.25" x2="489.50" y2="232.65" stroke="#b0b0b0" stroke-width="0.8"/>
<line x1="510.50" y1="234.25" x2="510.50" y2="232.65" stroke="#b0b0b0" stroke-width="0.8"/>
<text x="466.70" y="237.43" font-size="6.9" text-anchor="end" fill="#262626">0</text>
<text x="466.70" y="219.43" font-size="6.9" text-anchor="end" fill="#262626">1</text>
<text x="466.70" y="201.43" font-size="6.9" text-anchor="end" fill="#262626">2</text>
<text x="466.70" y="183.43" font-size="6.9" text-anchor="end" fill="#262626">3</text>
<text x="468.50" y="242.52" font-size="6.9" text-anchor="middle" fill="#262626">0</text>
<text x="489.50" y="242.52" font-size="6.9" text-anchor="middle" fill="#262626">100</text>
<text x="510.50" y="242.52" font-size="6.9" text-anchor="middle" fill="#262626">200</text>
<text x="496.01" y="176.90" font-size="7.45" font-weight="bold" text-anchor="middle" fill="#000">250, 40 %</text>
<polyline points="468.5,234.2 468.7,234.2 468.9,234.2 469.1,234.2 469.3,234.2 469.6,234.2 469.8,234.2 470.0,234.2 470.2,234.2 470.4,234.2 470.6,234.2 470.8,234.2 471.0,234.2 471.2,234.2 471.4,234.2 471.6,234.2 471.9,234.2 472.1,234.2 472.3,234.2 472.5,234.2 472.7,234.2 472.9,234.2 473.1,234.2 473.3,234.2 473.5,234.2 473.8,234.2 474.0,233.9 474.2,233.1 474.4,231.9 474.6,230.6 474.8,229.2 475.0,227.9 475.2,226.5 475.4,225.0 475.6,223.5 475.9,222.0 476.1,220.7 476.3,219.4 476.5,218.2 476.7,217.1 476.9,216.0 477.1,215.0 477.3,214.0 477.5,213.2 477.7,212.8 477.9,212.8 478.2,212.9 478.4,212.9 478.6,213.0 478.8,213.1 479.0,213.3 479.2,213.4 479.4,213.6 479.6,213.7 479.8,213.9 480.1,214.1 480.3,214.3 480.5,214.6 480.7,214.8 480.9,215.0 481.1,215.3 481.3,215.5 481.5,215.7 481.7,216.0 481.9,216.2 482.1,216.4 482.4,216.7 482.6,216.9 482.8,217.1 483.0,217.3 483.2,217.5 483.4,217.7 483.6,217.9 483.8,218.1 484.0,218.3 484.2,218.5 484.5,218.7 484.7,218.9 484.9,219.1 485.1,219.4 485.3,219.6 485.5,219.8 485.7,220.0 485.9,220.2 486.1,220.5 486.4,220.7 486.6,220.9 486.8,221.1 487.0,221.3 487.2,221.5 487.4,221.7 487.6,221.9 487.8,222.1 488.0,222.3 488.2,222.5 488.4,222.7 488.7,222.8 488.9,223.0 489.1,223.2 489.3,223.3 489.5,223.4 489.7,223.6 489.9,223.7 490.1,223.9 490.3,224.0 490.6,224.1 490.8,224.2 491.0,224.4 491.2,224.5 491.4,224.6 491.6,224.8 492.6,225.3 493.7,225.9 494.8,226.4 495.8,226.9 496.9,227.4 497.9,227.8 498.9,228.2 500.0,228.5 501.1,228.8 502.1,229.1 503.1,229.3 504.2,229.6 505.2,229.8 506.3,230.0 507.4,230.2 508.4,230.4 509.4,230.6 510.5,230.8 511.6,231.0 512.6,231.2 513.6,231.4 514.7,231.6 515.8,231.9 516.8,232.0 517.9,232.2 518.9,232.4 520.0,232.6 521.0,232.7 522.0,232.8 523.1,232.9 524.1,233.0 524.9,233.0" fill="none" stroke="#0000ff" stroke-width="1.2" stroke-linejoin="round"/>
<polyline points="468.5,234.2 468.7,234.2 468.9,234.2 469.1,234.2 469.3,234.2 469.6,234.2 469.8,234.2 470.0,234.2 470.2,234.2 470.4,234.2 470.6,234.2 470.8,234.2 471.0,234.2 471.2,234.2 471.4,234.2 471.6,234.2 471.9,234.2 472.1,234.2 472.3,234.2 472.5,234.2 472.7,234.2 472.9,234.2 473.1,234.2 473.3,234.2 473.5,234.2 473.8,234.2 474.0,234.2 474.2,234.0 474.4,233.5 474.6,232.7 474.8,231.7 475.0,230.7 475.2,229.7 475.4,228.7 475.6,227.7 475.9,226.6 476.1,225.5 476.3,224.4 476.5,223.3 476.7,222.4 476.9,221.4 477.1,220.5 477.3,219.7 477.5,218.9 477.7,218.2 477.9,217.4 478.2,216.7 478.4,216.1 478.6,215.9 478.8,215.9 479.0,215.9 479.2,216.0 479.4,216.0 479.6,216.1 479.8,216.1 480.1,216.2 480.3,216.3 480.5,216.4 480.7,216.5 480.9,216.6 481.1,216.8 481.3,216.9 481.5,217.0 481.7,217.1 481.9,217.3 482.1,217.4 482.4,217.5 482.6,217.7 482.8,217.8 483.0,217.9 483.2,218.1 483.4,218.2 483.6,218.3 483.8,218.5 484.0,218.6 484.2,218.8 484.5,218.9 484.7,219.1 484.9,219.3 485.1,219.4 485.3,219.6 485.5,219.8 485.7,220.0 485.9,220.2 486.1,220.4 486.4,220.6 486.6,220.8 486.8,220.9 487.0,221.1 487.2,221.3 487.4,221.5 487.6,221.7 487.8,221.9 488.0,222.0 488.2,222.2 488.4,222.4 488.7,222.5 488.9,222.7 489.1,222.8 489.3,223.0 489.5,223.1 489.7,223.2 489.9,223.3 490.1,223.5 490.3,223.6 490.6,223.7 490.8,223.8 491.0,223.9 491.2,224.0 491.4,224.1 491.6,224.3 492.6,224.8 493.7,225.3 494.8,225.8 495.8,226.2 496.9,226.6 497.9,227.0 498.9,227.4 500.0,227.8 501.1,228.1 502.1,228.4 503.1,228.7 504.2,229.0 505.2,229.3 506.3,229.6 507.4,229.8 508.4,230.0 509.4,230.3 510.5,230.5 511.6,230.7 512.6,230.9 513.6,231.1 514.7,231.2 515.8,231.4 516.8,231.6 517.9,231.7 518.9,231.9 520.0,232.0 521.0,232.2 522.0,232.3 523.1,232.4 524.1,232.4 524.9,232.5" fill="none" stroke="#00ffff" stroke-width="1.2" stroke-linejoin="round"/>
<polyline points="468.5,234.2 468.7,234.2 468.9,234.2 469.1,234.2 469.3,234.2 469.6,234.2 469.8,234.2 470.0,234.2 470.2,234.2 470.4,234.2 470.6,234.2 470.8,234.2 471.0,234.2 471.2,234.2 471.4,234.2 471.6,234.2 471.9,234.2 472.1,234.2 472.3,234.2 472.5,234.2 472.7,234.2 472.9,234.2 473.1,234.2 473.3,234.2 473.5,234.2 473.8,234.2 474.0,233.9 474.2,233.1 474.4,232.0 474.6,230.6 474.8,229.2 475.0,228.0 475.2,226.6 475.4,225.1 475.6,223.6 475.9,222.2 476.1,220.9 476.3,219.7 476.5,218.5 476.7,217.3 476.9,216.3 477.1,215.3 477.3,214.3 477.5,213.5 477.7,213.2 477.9,213.2 478.2,213.2 478.4,213.3 478.6,213.4 478.8,213.5 479.0,213.6 479.2,213.7 479.4,213.9 479.6,214.0 479.8,214.2 480.1,214.4 480.3,214.6 480.5,214.8 480.7,215.0 480.9,215.2 481.1,215.4 481.3,215.6 481.5,215.8 481.7,216.1 481.9,216.3 482.1,216.5 482.4,216.7 482.6,216.9 482.8,217.1 483.0,217.3 483.2,217.5 483.4,217.7 483.6,217.9 483.8,218.1 484.0,218.3 484.2,218.5 484.5,218.7 484.7,218.9 484.9,219.1 485.1,219.3 485.3,219.5 485.5,219.8 485.7,220.0 485.9,220.2 486.1,220.4 486.4,220.6 486.6,220.9 486.8,221.1 487.0,221.3 487.2,221.5 487.4,221.7 487.6,221.9 487.8,222.1 488.0,222.3 488.2,222.5 488.4,222.7 488.7,222.8 488.9,223.0 489.1,223.2 489.3,223.3 489.5,223.4 489.7,223.6 489.9,223.7 490.1,223.9 490.3,224.0 490.6,224.1 490.8,224.2 491.0,224.4 491.2,224.5 491.4,224.6 491.6,224.8 492.6,225.3 493.7,225.9 494.8,226.4 495.8,226.9 496.9,227.4 497.9,227.8 498.9,228.2 500.0,228.5 501.1,228.8 502.1,229.1 503.1,229.3 504.2,229.6 505.2,229.8 506.3,230.0 507.4,230.2 508.4,230.4 509.4,230.6 510.5,230.8 511.6,231.0 512.6,231.2 513.6,231.4 514.7,231.6 515.8,231.9 516.8,232.0 517.9,232.2 518.9,232.4 520.0,232.6 521.0,232.7 522.0,232.8 523.1,232.9 524.1,233.0 524.9,233.0" fill="none" stroke="#00ff00" stroke-width="1.8" stroke-linejoin="round"/>
<polyline points="468.5,234.2 468.7,234.2 468.9,234.2 469.1,234.2 469.3,234.2 469.6,234.2 469.8,234.2 470.0,234.2 470.2,234.2 470.4,234.2 470.6,234.2 470.8,234.2 471.0,234.2 471.2,234.2 471.4,234.2 471.6,234.2 471.9,234.2 472.1,234.2 472.3,234.2 472.5,234.2 472.7,234.2 472.9,234.2 473.1,234.2 473.3,234.2 473.5,234.2 473.8,234.2 474.0,234.2 474.2,234.1 474.4,233.5 474.6,232.7 474.8,231.8 475.0,230.8 475.2,229.8 475.4,228.8 475.6,227.8 475.9,226.8 476.1,225.6 476.3,224.6 476.5,223.5 476.7,222.6 476.9,221.7 477.1,220.8 477.3,220.0 477.5,219.2 477.7,218.5 477.9,217.7 478.2,217.0 478.4,216.5 478.6,216.2 478.8,216.3 479.0,216.3 479.2,216.3 479.4,216.3 479.6,216.4 479.8,216.4 480.1,216.5 480.3,216.6 480.5,216.7 480.7,216.8 480.9,216.9 481.1,217.0 481.3,217.1 481.5,217.2 481.7,217.3 481.9,217.4 482.1,217.5 482.4,217.6 482.6,217.7 482.8,217.8 483.0,217.9 483.2,218.1 483.4,218.2 483.6,218.3 483.8,218.4 484.0,218.6 484.2,218.7 484.5,218.9 484.7,219.0 484.9,219.2 485.1,219.4 485.3,219.6 485.5,219.7 485.7,219.9 485.9,220.1 486.1,220.3 486.4,220.5 486.6,220.7 486.8,220.9 487.0,221.1 487.2,221.3 487.4,221.5 487.6,221.7 487.8,221.8 488.0,222.0 488.2,222.2 488.4,222.4 488.7,222.5 488.9,222.7 489.1,222.8 489.3,223.0 489.5,223.1 489.7,223.2 489.9,223.3 490.1,223.5 490.3,223.6 490.6,223.7 490.8,223.8 491.0,223.9 491.2,224.0 491.4,224.1 491.6,224.3 492.6,224.8 493.7,225.3 494.8,225.8 495.8,226.2 496.9,226.6 497.9,227.0 498.9,227.4 500.0,227.8 501.1,228.1 502.1,228.4 503.1,228.7 504.2,229.0 505.2,229.3 506.3,229.6 507.4,229.8 508.4,230.0 509.4,230.3 510.5,230.5 511.6,230.7 512.6,230.9 513.6,231.1 514.7,231.2 515.8,231.4 516.8,231.6 517.9,231.7 518.9,231.9 520.0,232.0 521.0,232.2 522.0,232.3 523.1,232.4 524.1,232.4 524.9,232.5" fill="none" stroke="#000000" stroke-width="1.8" stroke-linejoin="round" stroke-dasharray="5.5,4"/>
<line x1="542.10" y1="216.25" x2="597.12" y2="216.25" stroke="#eeeeee" stroke-width="1"/>
<line x1="542.10" y1="198.25" x2="597.12" y2="198.25" stroke="#eeeeee" stroke-width="1"/>
<line x1="542.10" y1="180.25" x2="597.12" y2="180.25" stroke="#eeeeee" stroke-width="1"/>
<line x1="563.10" y1="180.25" x2="563.10" y2="234.25" stroke="#eeeeee" stroke-width="1"/>
<line x1="584.10" y1="180.25" x2="584.10" y2="234.25" stroke="#eeeeee" stroke-width="1"/>
<line x1="542.10" y1="180.25" x2="542.10" y2="234.25" stroke="#b0b0b0" stroke-width="1.4"/>
<line x1="542.10" y1="234.25" x2="597.92" y2="234.25" stroke="#b0b0b0" stroke-width="1.4"/>
<line x1="542.10" y1="216.25" x2="543.70" y2="216.25" stroke="#b0b0b0" stroke-width="0.8"/>
<line x1="542.10" y1="198.25" x2="543.70" y2="198.25" stroke="#b0b0b0" stroke-width="0.8"/>
<line x1="542.10" y1="180.25" x2="543.70" y2="180.25" stroke="#b0b0b0" stroke-width="0.8"/>
<line x1="563.10" y1="234.25" x2="563.10" y2="232.65" stroke="#b0b0b0" stroke-width="0.8"/>
<line x1="584.10" y1="234.25" x2="584.10" y2="232.65" stroke="#b0b0b0" stroke-width="0.8"/>
<text x="540.30" y="237.43" font-size="6.9" text-anchor="end" fill="#262626">0</text>
<text x="540.30" y="219.43" font-size="6.9" text-anchor="end" fill="#262626">1</text>
<text x="540.30" y="201.43" font-size="6.9" text-anchor="end" fill="#262626">2</text>
<text x="540.30" y="183.43" font-size="6.9" text-anchor="end" fill="#262626">3</text>
<text x="542.10" y="242.52" font-size="6.9" text-anchor="middle" fill="#262626">0</text>
<text x="563.10" y="242.52" font-size="6.9" text-anchor="middle" fill="#262626">100</text>
<text x="584.10" y="242.52" font-size="6.9" text-anchor="middle" fill="#262626">200</text>
<text x="569.61" y="176.90" font-size="7.45" font-weight="bold" text-anchor="middle" fill="#000">250, 60 %</text>
<polyline points="542.1,234.2 542.3,234.2 542.5,234.2 542.7,234.2 542.9,234.2 543.1,234.2 543.4,234.2 543.6,234.2 543.8,234.2 544.0,234.2 544.2,234.2 544.4,234.2 544.6,234.2 544.8,234.2 545.0,234.2 545.2,234.2 545.5,234.2 545.7,234.2 545.9,234.2 546.1,234.2 546.3,234.2 546.5,234.2 546.7,234.2 546.9,234.2 547.1,234.2 547.4,233.9 547.6,233.0 547.8,231.7 548.0,230.1 548.2,228.4 548.4,226.6 548.6,225.0 548.8,223.3 549.0,221.5 549.2,219.5 549.5,217.6 549.7,215.8 549.9,214.1 550.1,212.5 550.3,210.9 550.5,209.4 550.7,208.0 550.9,206.7 551.1,205.5 551.3,204.2 551.6,202.9 551.8,202.0 552.0,201.7 552.2,201.7 552.4,201.8 552.6,202.0 552.8,202.3 553.0,202.7 553.2,203.1 553.4,203.5 553.6,204.0 553.9,204.6 554.1,205.2 554.3,205.8 554.5,206.4 554.7,207.0 554.9,207.7 555.1,208.3 555.3,209.0 555.5,209.6 555.8,210.2 556.0,210.8 556.2,211.4 556.4,211.9 556.6,212.4 556.8,212.8 557.0,213.2 557.2,213.7 557.4,214.1 557.6,214.5 557.9,214.9 558.1,215.3 558.3,215.7 558.5,216.1 558.7,216.5 558.9,216.9 559.1,217.3 559.3,217.7 559.5,218.1 559.7,218.5 560.0,218.9 560.2,219.3 560.4,219.6 560.6,220.0 560.8,220.3 561.0,220.7 561.2,221.0 561.4,221.3 561.6,221.6 561.8,221.9 562.1,222.2 562.3,222.5 562.5,222.7 562.7,223.0 562.9,223.2 563.1,223.4 563.3,223.7 563.5,223.9 563.7,224.1 563.9,224.3 564.1,224.5 564.4,224.7 564.6,224.9 564.8,225.1 565.0,225.3 565.2,225.4 566.2,226.3 567.3,227.2 568.4,227.9 569.4,228.6 570.5,229.2 571.5,229.8 572.6,230.3 573.6,230.7 574.6,231.0 575.7,231.3 576.8,231.6 577.8,231.9 578.9,232.1 579.9,232.4 581.0,232.6 582.0,232.7 583.1,232.9 584.1,233.0 585.1,233.1 586.2,233.2 587.2,233.2 588.3,233.3 589.4,233.4 590.4,233.4 591.5,233.5 592.5,233.5 593.6,233.6 594.6,233.6 595.6,233.7 596.7,233.7 597.8,233.7 598.5,233.7" fill="none" stroke="#0000ff" stroke-width="1.2" stroke-linejoin="round"/>
<polyline points="542.1,234.2 542.3,234.2 542.5,234.2 542.7,234.2 542.9,234.2 543.1,234.2 543.4,234.2 543.6,234.2 543.8,234.2 544.0,234.2 544.2,234.2 544.4,234.2 544.6,234.2 544.8,234.2 545.0,234.2 545.2,234.2 545.5,234.2 545.7,234.2 545.9,234.2 546.1,234.2 546.3,234.2 546.5,234.2 546.7,234.2 546.9,234.2 547.1,234.2 547.4,234.2 547.6,234.2 547.8,234.0 548.0,233.3 548.2,232.3 548.4,231.1 548.6,229.7 548.8,228.3 549.0,227.0 549.2,225.7 549.5,224.3 549.7,222.8 549.9,221.3 550.1,219.8 550.3,218.4 550.5,217.1 550.7,215.9 550.9,214.6 551.1,213.5 551.3,212.4 551.6,211.4 551.8,210.4 552.0,209.3 552.2,208.4 552.4,207.7 552.6,207.4 552.8,207.5 553.0,207.5 553.2,207.6 553.4,207.8 553.6,208.0 553.9,208.2 554.1,208.4 554.3,208.7 554.5,209.0 554.7,209.3 554.9,209.7 555.1,210.0 555.3,210.3 555.5,210.7 555.8,211.0 556.0,211.4 556.2,211.7 556.4,212.0 556.6,212.4 556.8,212.7 557.0,212.9 557.2,213.2 557.4,213.6 557.6,213.9 557.9,214.2 558.1,214.5 558.3,214.9 558.5,215.2 558.7,215.6 558.9,215.9 559.1,216.3 559.3,216.6 559.5,217.0 559.7,217.3 560.0,217.7 560.2,218.0 560.4,218.4 560.6,218.7 560.8,219.1 561.0,219.4 561.2,219.7 561.4,220.0 561.6,220.3 561.8,220.6 562.1,220.9 562.3,221.2 562.5,221.5 562.7,221.7 562.9,222.0 563.1,222.2 563.3,222.4 563.5,222.6 563.7,222.8 563.9,223.0 564.1,223.2 564.4,223.4 564.6,223.6 564.8,223.8 565.0,224.0 565.2,224.2 566.2,225.2 567.3,226.1 568.4,226.9 569.4,227.7 570.5,228.3 571.5,229.0 572.6,229.5 573.6,229.9 574.6,230.3 575.7,230.7 576.8,231.0 577.8,231.3 578.9,231.6 579.9,231.9 581.0,232.1 582.0,232.3 583.1,232.5 584.1,232.6 585.1,232.7 586.2,232.8 587.2,232.9 588.3,233.0 589.4,233.1 590.4,233.2 591.5,233.3 592.5,233.3 593.6,233.4 594.6,233.4 595.6,233.5 596.7,233.5 597.8,233.5 598.5,233.5" fill="none" stroke="#00ffff" stroke-width="1.2" stroke-linejoin="round"/>
<polyline points="542.1,234.2 542.3,234.2 542.5,234.2 542.7,234.2 542.9,234.2 543.1,234.2 543.4,234.2 543.6,234.2 543.8,234.2 544.0,234.2 544.2,234.2 544.4,234.2 544.6,234.2 544.8,234.2 545.0,234.2 545.2,234.2 545.5,234.2 545.7,234.2 545.9,234.2 546.1,234.2 546.3,234.2 546.5,234.2 546.7,234.2 546.9,234.2 547.1,234.2 547.4,233.9 547.6,233.0 547.8,231.8 548.0,230.2 548.2,228.5 548.4,226.7 548.6,225.1 548.8,223.5 549.0,221.7 549.2,219.8 549.5,217.9 549.7,216.1 549.9,214.5 550.1,212.9 550.3,211.3 550.5,209.8 550.7,208.5 550.9,207.2 551.1,206.0 551.3,204.7 551.6,203.4 551.8,202.6 552.0,202.2 552.2,202.3 552.4,202.4 552.6,202.6 552.8,202.8 553.0,203.2 553.2,203.5 553.4,204.0 553.6,204.4 553.9,205.0 554.1,205.5 554.3,206.1 554.5,206.7 554.7,207.3 554.9,207.9 555.1,208.5 555.3,209.1 555.5,209.7 555.8,210.3 556.0,210.9 556.2,211.4 556.4,211.9 556.6,212.4 556.8,212.8 557.0,213.2 557.2,213.6 557.4,214.0 557.6,214.5 557.9,214.9 558.1,215.3 558.3,215.7 558.5,216.1 558.7,216.5 558.9,216.9 559.1,217.3 559.3,217.7 559.5,218.1 559.7,218.5 560.0,218.9 560.2,219.2 560.4,219.6 560.6,220.0 560.8,220.3 561.0,220.6 561.2,221.0 561.4,221.3 561.6,221.6 561.8,221.9 562.1,222.2 562.3,222.5 562.5,222.7 562.7,223.0 562.9,223.2 563.1,223.4 563.3,223.7 563.5,223.9 563.7,224.1 563.9,224.3 564.1,224.5 564.4,224.7 564.6,224.9 564.8,225.1 565.0,225.3 565.2,225.4 566.2,226.3 567.3,227.2 568.4,227.9 569.4,228.6 570.5,229.2 571.5,229.8 572.6,230.3 573.6,230.7 574.6,231.0 575.7,231.3 576.8,231.6 577.8,231.9 578.9,232.1 579.9,232.4 581.0,232.6 582.0,232.7 583.1,232.9 584.1,233.0 585.1,233.1 586.2,233.2 587.2,233.2 588.3,233.3 589.4,233.4 590.4,233.4 591.5,233.5 592.5,233.5 593.6,233.6 594.6,233.6 595.6,233.7 596.7,233.7 597.8,233.7 598.5,233.7" fill="none" stroke="#00ff00" stroke-width="1.8" stroke-linejoin="round"/>
<polyline points="542.1,234.2 542.3,234.2 542.5,234.2 542.7,234.2 542.9,234.2 543.1,234.2 543.4,234.2 543.6,234.2 543.8,234.2 544.0,234.2 544.2,234.2 544.4,234.2 544.6,234.2 544.8,234.2 545.0,234.2 545.2,234.2 545.5,234.2 545.7,234.2 545.9,234.2 546.1,234.2 546.3,234.2 546.5,234.2 546.7,234.2 546.9,234.2 547.1,234.2 547.4,234.2 547.6,234.2 547.8,234.0 548.0,233.3 548.2,232.3 548.4,231.1 548.6,229.8 548.8,228.4 549.0,227.1 549.2,225.8 549.5,224.4 549.7,223.0 549.9,221.5 550.1,220.0 550.3,218.6 550.5,217.4 550.7,216.1 550.9,214.9 551.1,213.8 551.3,212.7 551.6,211.7 551.8,210.7 552.0,209.7 552.2,208.7 552.4,208.1 552.6,207.8 552.8,207.8 553.0,207.9 553.2,208.0 553.4,208.1 553.6,208.3 553.9,208.5 554.1,208.7 554.3,209.0 554.5,209.2 554.7,209.5 554.9,209.8 555.1,210.2 555.3,210.5 555.5,210.8 555.8,211.1 556.0,211.4 556.2,211.8 556.4,212.1 556.6,212.4 556.8,212.7 557.0,212.9 557.2,213.2 557.4,213.5 557.6,213.8 557.9,214.2 558.1,214.5 558.3,214.8 558.5,215.2 558.7,215.5 558.9,215.9 559.1,216.2 559.3,216.6 559.5,216.9 559.7,217.3 560.0,217.6 560.2,218.0 560.4,218.3 560.6,218.7 560.8,219.0 561.0,219.4 561.2,219.7 561.4,220.0 561.6,220.3 561.8,220.6 562.1,220.9 562.3,221.2 562.5,221.5 562.7,221.7 562.9,222.0 563.1,222.2 563.3,222.4 563.5,222.6 563.7,222.8 563.9,223.0 564.1,223.2 564.4,223.4 564.6,223.6 564.8,223.8 565.0,224.0 565.2,224.2 566.2,225.2 567.3,226.1 568.4,226.9 569.4,227.7 570.5,228.3 571.5,229.0 572.6,229.5 573.6,229.9 574.6,230.3 575.7,230.7 576.8,231.0 577.8,231.3 578.9,231.6 579.9,231.9 581.0,232.1 582.0,232.3 583.1,232.5 584.1,232.6 585.1,232.7 586.2,232.8 587.2,232.9 588.3,233.0 589.4,233.1 590.4,233.2 591.5,233.3 592.5,233.3 593.6,233.4 594.6,233.4 595.6,233.5 596.7,233.5 597.8,233.5 598.5,233.5" fill="none" stroke="#000000" stroke-width="1.8" stroke-linejoin="round" stroke-dasharray="5.5,4"/>
<line x1="615.40" y1="216.25" x2="670.42" y2="216.25" stroke="#eeeeee" stroke-width="1"/>
<line x1="615.40" y1="198.25" x2="670.42" y2="198.25" stroke="#eeeeee" stroke-width="1"/>
<line x1="615.40" y1="180.25" x2="670.42" y2="180.25" stroke="#eeeeee" stroke-width="1"/>
<line x1="636.40" y1="180.25" x2="636.40" y2="234.25" stroke="#eeeeee" stroke-width="1"/>
<line x1="657.40" y1="180.25" x2="657.40" y2="234.25" stroke="#eeeeee" stroke-width="1"/>
<line x1="615.40" y1="180.25" x2="615.40" y2="234.25" stroke="#b0b0b0" stroke-width="1.4"/>
<line x1="615.40" y1="234.25" x2="671.22" y2="234.25" stroke="#b0b0b0" stroke-width="1.4"/>
<line x1="615.40" y1="216.25" x2="617.00" y2="216.25" stroke="#b0b0b0" stroke-width="0.8"/>
<line x1="615.40" y1="198.25" x2="617.00" y2="198.25" stroke="#b0b0b0" stroke-width="0.8"/>
<line x1="615.40" y1="180.25" x2="617.00" y2="180.25" stroke="#b0b0b0" stroke-width="0.8"/>
<line x1="636.40" y1="234.25" x2="636.40" y2="232.65" stroke="#b0b0b0" stroke-width="0.8"/>
<line x1="657.40" y1="234.25" x2="657.40" y2="232.65" stroke="#b0b0b0" stroke-width="0.8"/>
<text x="613.60" y="237.43" font-size="6.9" text-anchor="end" fill="#262626">0</text>
<text x="613.60" y="219.43" font-size="6.9" text-anchor="end" fill="#262626">1</text>
<text x="613.60" y="201.43" font-size="6.9" text-anchor="end" fill="#262626">2</text>
<text x="613.60" y="183.43" font-size="6.9" text-anchor="end" fill="#262626">3</text>
<text x="615.40" y="242.52" font-size="6.9" text-anchor="middle" fill="#262626">0</text>
<text x="636.40" y="242.52" font-size="6.9" text-anchor="middle" fill="#262626">100</text>
<text x="657.40" y="242.52" font-size="6.9" text-anchor="middle" fill="#262626">200</text>
<text x="642.91" y="176.90" font-size="7.45" font-weight="bold" text-anchor="middle" fill="#000">250, 80 %</text>
<polyline points="615.4,234.2 615.6,234.2 615.8,234.2 616.0,234.2 616.2,234.2 616.4,234.2 616.7,234.2 616.9,234.2 617.1,234.2 617.3,234.2 617.5,234.2 617.7,234.2 617.9,234.2 618.1,234.2 618.3,234.2 618.5,234.2 618.8,234.2 619.0,234.2 619.2,234.2 619.4,234.2 619.6,234.2 619.8,234.2 620.0,234.2 620.2,234.2 620.4,234.2 620.6,234.2 620.9,234.2 621.1,234.2 621.3,233.7 621.5,232.4 621.7,230.4 621.9,228.1 622.1,225.8 622.3,223.7 622.5,221.4 622.8,218.9 623.0,216.4 623.2,214.0 623.4,211.8 623.6,209.7 623.8,207.7 624.0,205.8 624.2,204.1 624.4,202.4 624.6,200.7 624.9,199.3 625.1,198.8 625.3,198.8 625.5,199.0 625.7,199.2 625.9,199.5 626.1,199.8 626.3,200.2 626.5,200.7 626.7,201.2 626.9,201.8 627.2,202.4 627.4,203.0 627.6,203.7 627.8,204.4 628.0,205.1 628.2,205.8 628.4,206.5 628.6,207.2 628.8,207.9 629.0,208.6 629.3,209.3 629.5,209.9 629.7,210.5 629.9,211.1 630.1,211.6 630.3,212.1 630.5,212.6 630.7,213.1 630.9,213.6 631.1,214.1 631.4,214.7 631.6,215.2 631.8,215.7 632.0,216.3 632.2,216.8 632.4,217.3 632.6,217.9 632.8,218.4 633.0,218.9 633.2,219.4 633.5,219.9 633.7,220.4 633.9,220.9 634.1,221.4 634.3,221.8 634.5,222.3 634.7,222.7 634.9,223.1 635.1,223.5 635.4,223.8 635.6,224.2 635.8,224.5 636.0,224.8 636.2,225.0 636.4,225.2 636.6,225.5 636.8,225.7 637.0,225.9 637.2,226.1 637.4,226.3 637.7,226.5 637.9,226.7 638.1,226.9 638.3,227.1 638.5,227.3 639.5,228.2 640.6,229.0 641.6,229.7 642.7,230.4 643.8,231.0 644.8,231.4 645.9,231.8 646.9,232.1 647.9,232.3 649.0,232.5 650.0,232.7 651.1,232.9 652.1,233.0 653.2,233.2 654.2,233.3 655.3,233.4 656.4,233.5 657.4,233.5 658.4,233.6 659.5,233.6 660.5,233.7 661.6,233.7 662.6,233.7 663.7,233.8 664.8,233.8 665.8,233.8 666.9,233.8 667.9,233.8 668.9,233.9 670.0,233.9 671.0,233.9 671.8,233.9" fill="none" stroke="#0000ff" stroke-width="1.2" stroke-linejoin="round"/>
<polyline points="615.4,234.2 615.6,234.2 615.8,234.2 616.0,234.2 616.2,234.2 616.4,234.2 616.7,234.2 616.9,234.2 617.1,234.2 617.3,234.2 617.5,234.2 617.7,234.2 617.9,234.2 618.1,234.2 618.3,234.2 618.5,234.2 618.8,234.2 619.0,234.2 619.2,234.2 619.4,234.2 619.6,234.2 619.8,234.2 620.0,234.2 620.2,234.2 620.4,234.2 620.6,234.2 620.9,234.2 621.1,234.2 621.3,234.2 621.5,234.0 621.7,233.2 621.9,232.1 622.1,230.8 622.3,229.3 622.5,227.9 622.8,226.6 623.0,225.1 623.2,223.6 623.4,222.0 623.6,220.5 623.8,219.0 624.0,217.7 624.2,216.4 624.4,215.2 624.6,214.0 624.9,212.9 625.1,211.9 625.3,210.8 625.5,209.8 625.7,209.0 625.9,208.7 626.1,208.7 626.3,208.7 626.5,208.8 626.7,208.8 626.9,208.9 627.2,209.0 627.4,209.0 627.6,209.1 627.8,209.3 628.0,209.4 628.2,209.5 628.4,209.6 628.6,209.8 628.8,209.9 629.0,210.1 629.3,210.2 629.5,210.4 629.7,210.5 629.9,210.7 630.1,210.8 630.3,211.0 630.5,211.2 630.7,211.5 630.9,211.7 631.1,212.0 631.4,212.4 631.6,212.7 631.8,213.1 632.0,213.4 632.2,213.8 632.4,214.2 632.6,214.7 632.8,215.1 633.0,215.5 633.2,215.9 633.5,216.4 633.7,216.8 633.9,217.3 634.1,217.7 634.3,218.1 634.5,218.6 634.7,219.0 634.9,219.4 635.1,219.8 635.4,220.1 635.6,220.5 635.8,220.8 636.0,221.1 636.2,221.4 636.4,221.7 636.6,221.9 636.8,222.1 637.0,222.4 637.2,222.6 637.4,222.8 637.7,223.1 637.9,223.3 638.1,223.5 638.3,223.8 638.5,224.0 639.5,225.1 640.6,226.1 641.6,227.0 642.7,227.9 643.8,228.7 644.8,229.3 645.9,229.9 646.9,230.3 647.9,230.6 649.0,230.9 650.0,231.2 651.1,231.4 652.1,231.7 653.2,231.9 654.2,232.0 655.3,232.2 656.4,232.3 657.4,232.4 658.4,232.6 659.5,232.7 660.5,232.7 661.6,232.8 662.6,232.9 663.7,233.0 664.8,233.1 665.8,233.1 666.9,233.2 667.9,233.2 668.9,233.3 670.0,233.3 671.0,233.3 671.8,233.4" fill="none" stroke="#00ffff" stroke-width="1.2" stroke-linejoin="round"/>
<polyline points="615.4,234.2 615.6,234.2 615.8,234.2 616.0,234.2 616.2,234.2 616.4,234.2 616.7,234.2 616.9,234.2 617.1,234.2 617.3,234.2 617.5,234.2 617.7,234.2 617.9,234.2 618.1,234.2 618.3,234.2 618.5,234.2 618.8,234.2 619.0,234.2 619.2,234.2 619.4,234.2 619.6,234.2 619.8,234.2 620.0,234.2 620.2,234.2 620.4,234.2 620.6,234.2 620.9,234.2 621.1,234.2 621.3,233.8 621.5,232.5 621.7,230.6 621.9,228.4 622.1,226.3 622.3,224.2 622.5,222.1 622.8,219.7 623.0,217.3 623.2,215.0 623.4,212.9 623.6,210.9 623.8,209.0 624.0,207.2 624.2,205.6 624.4,204.0 624.6,202.4 624.9,201.1 625.1,200.6 625.3,200.6 625.5,200.7 625.7,200.9 625.9,201.1 626.1,201.4 626.3,201.8 626.5,202.2 626.7,202.6 626.9,203.1 627.2,203.6 627.4,204.1 627.6,204.7 627.8,205.3 628.0,205.9 628.2,206.5 628.4,207.1 628.6,207.7 628.8,208.3 629.0,208.9 629.3,209.5 629.5,210.0 629.7,210.6 629.9,211.1 630.1,211.6 630.3,212.0 630.5,212.5 630.7,213.0 630.9,213.5 631.1,214.0 631.4,214.5 631.6,215.1 631.8,215.6 632.0,216.1 632.2,216.7 632.4,217.2 632.6,217.7 632.8,218.3 633.0,218.8 633.2,219.3 633.5,219.8 633.7,220.3 633.9,220.8 634.1,221.3 634.3,221.7 634.5,222.2 634.7,222.6 634.9,223.0 635.1,223.4 635.4,223.8 635.6,224.1 635.8,224.5 636.0,224.7 636.2,225.0 636.4,225.2 636.6,225.5 636.8,225.7 637.0,225.9 637.2,226.1 637.4,226.3 637.7,226.5 637.9,226.7 638.1,226.9 638.3,227.1 638.5,227.3 639.5,228.2 640.6,229.0 641.6,229.7 642.7,230.4 643.8,231.0 644.8,231.4 645.9,231.8 646.9,232.1 647.9,232.3 649.0,232.5 650.0,232.7 651.1,232.9 652.1,233.0 653.2,233.2 654.2,233.3 655.3,233.4 656.4,233.5 657.4,233.5 658.4,233.6 659.5,233.6 660.5,233.7 661.6,233.7 662.6,233.7 663.7,233.8 664.8,233.8 665.8,233.8 666.9,233.8 667.9,233.8 668.9,233.9 670.0,233.9 671.0,233.9 671.8,233.9" fill="none" stroke="#00ff00" stroke-width="1.8" stroke-linejoin="round"/>
<polyline points="615.4,234.2 615.6,234.2 615.8,234.2 616.0,234.2 616.2,234.2 616.4,234.2 616.7,234.2 616.9,234.2 617.1,234.2 617.3,234.2 617.5,234.2 617.7,234.2 617.9,234.2 618.1,234.2 618.3,234.2 618.5,234.2 618.8,234.2 619.0,234.2 619.2,234.2 619.4,234.2 619.6,234.2 619.8,234.2 620.0,234.2 620.2,234.2 620.4,234.2 620.6,234.2 620.9,234.2 621.1,234.2 621.3,234.2 621.5,234.0 621.7,233.2 621.9,232.1 622.1,230.8 622.3,229.4 622.5,228.0 622.8,226.7 623.0,225.3 623.2,223.8 623.4,222.2 623.6,220.7 623.8,219.3 624.0,218.0 624.2,216.7 624.4,215.4 624.6,214.3 624.9,213.2 625.1,212.2 625.3,211.1 625.5,210.1 625.7,209.3 625.9,209.1 626.1,209.1 626.3,209.1 626.5,209.1 626.7,209.1 626.9,209.2 627.2,209.3 627.4,209.3 627.6,209.4 627.8,209.5 628.0,209.6 628.2,209.7 628.4,209.8 628.6,209.9 628.8,210.1 629.0,210.2 629.3,210.3 629.5,210.4 629.7,210.6 629.9,210.7 630.1,210.8 630.3,211.0 630.5,211.2 630.7,211.4 630.9,211.7 631.1,212.0 631.4,212.3 631.6,212.6 631.8,213.0 632.0,213.3 632.2,213.7 632.4,214.1 632.6,214.6 632.8,215.0 633.0,215.4 633.2,215.9 633.5,216.3 633.7,216.8 633.9,217.2 634.1,217.7 634.3,218.1 634.5,218.5 634.7,218.9 634.9,219.3 635.1,219.7 635.4,220.1 635.6,220.5 635.8,220.8 636.0,221.1 636.2,221.4 636.4,221.7 636.6,221.9 636.8,222.1 637.0,222.4 637.2,222.6 637.4,222.8 637.7,223.1 637.9,223.3 638.1,223.5 638.3,223.8 638.5,224.0 639.5,225.1 640.6,226.1 641.6,227.0 642.7,227.9 643.8,228.7 644.8,229.3 645.9,229.9 646.9,230.3 647.9,230.6 649.0,230.9 650.0,231.2 651.1,231.4 652.1,231.7 653.2,231.9 654.2,232.0 655.3,232.2 656.4,232.3 657.4,232.4 658.4,232.6 659.5,232.7 660.5,232.7 661.6,232.8 662.6,232.9 663.7,233.0 664.8,233.1 665.8,233.1 666.9,233.2 667.9,233.2 668.9,233.3 670.0,233.3 671.0,233.3 671.8,233.4" fill="none" stroke="#000000" stroke-width="1.8" stroke-linejoin="round" stroke-dasharray="5.5,4"/>
<text x="178.1" y="18" font-size="10.8" font-weight="bold" text-anchor="middle" fill="#000">Vision-600</text>
<text x="532.8" y="11.9" font-size="11.1" font-weight="bold" text-anchor="middle" fill="#000">Vision-600</text>
<text transform="translate(20,128.3) rotate(-90)" font-size="10.9" text-anchor="middle" fill="#262626">Activity Concentration [MBq/ml]</text>
<text transform="translate(371.6,124.2) rotate(-90)" font-size="11.25" text-anchor="middle" fill="#262626">Activity Concentration [MBq/ml]</text>
<text x="178.6" y="263.2" font-size="11.2" text-anchor="middle" fill="#262626">Time [s]</text>
<text x="532.8" y="262.0" font-size="11.2" text-anchor="middle" fill="#262626">Time [s]</text>
<rect x="22.25" y="245.50" width="312.50" height="8.50" fill="#fff" stroke="#8c8c8c" stroke-width="0.8"/>
<line x1="25.00" y1="250.05" x2="29.75" y2="250.05" stroke="#ff0000" stroke-width="1.8"/>
<text x="31.60" y="251.59" font-size="5.1" fill="#000">Input TAC: test</text>
<line x1="70.00" y1="250.05" x2="75.25" y2="250.05" stroke="#0000ff" stroke-width="1.8"/>
<text x="77.20" y="251.59" font-size="5.1" fill="#000">Tissue TAC: test</text>
<line x1="119.40" y1="250.05" x2="125.00" y2="250.05" stroke="#00ff00" stroke-width="1.8"/>
<text x="126.20" y="251.59" font-size="5.1" fill="#000">Modelled TAC: test</text>
<line x1="174.40" y1="250.05" x2="179.40" y2="250.05" stroke="#ff00ff" stroke-width="1.8"/>
<text x="180.90" y="251.59" font-size="5.1" fill="#000">Input TAC: retest</text>
<line x1="224.00" y1="250.05" x2="229.40" y2="250.05" stroke="#00ffff" stroke-width="1.8"/>
<text x="231.20" y="251.59" font-size="5.1" fill="#000">Tissue TAC: retest</text>
<line x1="278.10" y1="250.05" x2="283.10" y2="250.05" stroke="#000000" stroke-width="1.8"/>
<text x="284.70" y="251.59" font-size="5.1" fill="#000">Modelled TAC: retest</text>
<rect x="419.40" y="244.50" width="221.20" height="8.10" fill="#fff" stroke="#8c8c8c" stroke-width="0.8"/>
<line x1="422.25" y1="248.85" x2="427.50" y2="248.85" stroke="#0000ff" stroke-width="1.8"/>
<text x="429.30" y="250.42" font-size="5.2" fill="#000">Tissue TAC: test</text>
<line x1="472.25" y1="248.85" x2="477.75" y2="248.85" stroke="#00ff00" stroke-width="1.8"/>
<text x="479.50" y="250.42" font-size="5.2" fill="#000">Modelled TAC: test</text>
<line x1="528.10" y1="248.85" x2="533.75" y2="248.85" stroke="#00ffff" stroke-width="1.8"/>
<text x="535.30" y="250.42" font-size="5.2" fill="#000">Tissue TAC: retest</text>
<line x1="583.10" y1="248.85" x2="588.10" y2="248.85" stroke="#000000" stroke-width="1.8"/>
<text x="590.00" y="250.42" font-size="5.2" fill="#000">Modelled TAC: retest</text>
</svg>
</body></html>
